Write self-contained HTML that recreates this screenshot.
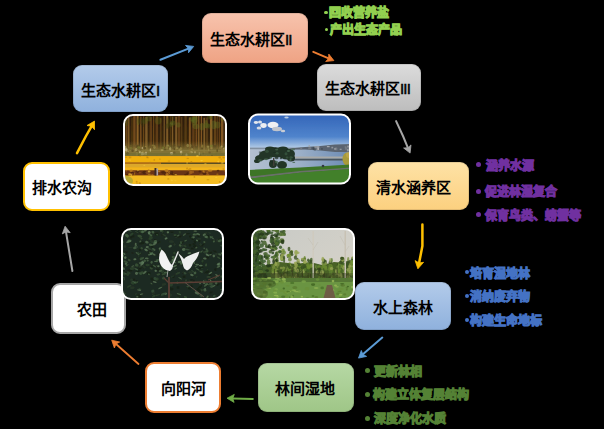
<!DOCTYPE html>
<html lang="zh-CN">
<head>
<meta charset="utf-8">
<style>
html,body{margin:0;padding:0;}
body{width:604px;height:429px;background:#000;position:relative;overflow:hidden;font-family:"Liberation Sans",sans-serif;}
.box{position:absolute;box-sizing:border-box;border-radius:9px;}
.t{position:absolute;font-size:15px;font-weight:bold;color:#000;white-space:nowrap;line-height:15px;}
.b{position:absolute;font-size:12px;font-weight:bold;white-space:nowrap;line-height:12px;-webkit-text-stroke:1.1px currentColor;}
.dot{position:absolute;border-radius:50%;}
.rn{font-weight:normal;font-size:15px;letter-spacing:-0.8px;-webkit-text-stroke:0.5px #000;}
.ph{position:absolute;box-sizing:border-box;border:2px solid #fff;border-radius:10px;overflow:hidden;}
svg{position:absolute;left:0;top:0;}
</style>
</head>
<body>
<!-- boxes -->
<div class="box" style="left:202px;top:13px;width:106px;height:50px;box-shadow:inset 0 0 0 1px rgba(0,0,0,0.1);background:linear-gradient(#f7c3ad,#efa384);"></div>
<div class="box" style="left:73px;top:65px;width:95px;height:47px;box-shadow:inset 0 0 0 1px rgba(0,0,0,0.1);background:linear-gradient(#b3cbea,#8fb1dd);"></div>
<div class="box" style="left:317px;top:64px;width:104px;height:47px;box-shadow:inset 0 0 0 1px rgba(0,0,0,0.1);background:linear-gradient(#dcdcdc,#bdbdbd);"></div>
<div class="box" style="left:368px;top:162px;width:101px;height:48px;box-shadow:inset 0 0 0 1px rgba(0,0,0,0.1);background:linear-gradient(#fee2a6,#fcd07f);"></div>
<div class="box" style="left:355px;top:282px;width:96px;height:48px;box-shadow:inset 0 0 0 1px rgba(0,0,0,0.1);background:linear-gradient(#b3cbea,#8fb1dd);"></div>
<div class="box" style="left:258px;top:363px;width:96px;height:49px;box-shadow:inset 0 0 0 1px rgba(0,0,0,0.1);background:linear-gradient(#b6d8a4,#9fc687);"></div>
<div class="box" style="left:145px;top:362px;width:76px;height:51px;background:#fff;border:2px solid #ed7d31;"></div>
<div class="box" style="left:51px;top:283px;width:75px;height:51px;background:#fff;border:2px solid #a6a6a6;"></div>
<div class="box" style="left:23px;top:162px;width:87px;height:49px;background:#fff;border:2px solid #ffc000;"></div>

<!-- box labels -->
<div class="t" style="left:210px;top:32px;">生态水耕区<span class="rn">II</span></div>
<div class="t" style="left:81px;top:83px;">生态水耕区<span class="rn">I</span></div>
<div class="t" style="left:325px;top:81px;">生态水耕区<span class="rn">III</span></div>
<div class="t" style="left:376px;top:180px;">清水涵养区</div>
<div class="t" style="left:373px;top:300px;">水上森林</div>
<div class="t" style="left:275px;top:381px;">林间湿地</div>
<div class="t" style="left:161px;top:381px;">向阳河</div>
<div class="t" style="left:77px;top:302px;">农田</div>
<div class="t" style="left:32px;top:180px;">排水农沟</div>

<!-- photos -->
<svg width="604" height="429" viewBox="0 0 604 429" style="position:absolute;left:0;top:0">
<defs>
<filter id="soft" x="-5%" y="-5%" width="110%" height="110%"><feGaussianBlur stdDeviation="0.7"/></filter>
<linearGradient id="tree1" x1="0" y1="0" x2="0" y2="1"><stop offset="0" stop-color="#2a1a08"/><stop offset="0.45" stop-color="#3a280c"/><stop offset="0.6" stop-color="#6a5a28"/></linearGradient>
<linearGradient id="sky2" x1="0" y1="0" x2="0" y2="1"><stop offset="0" stop-color="#3264b8"/><stop offset="0.32" stop-color="#5084cc"/><stop offset="0.48" stop-color="#b4cce6"/></linearGradient>
<linearGradient id="water2" x1="0" y1="0" x2="1" y2="0"><stop offset="0" stop-color="#b4c0d0"/><stop offset="0.5" stop-color="#9cb0c8"/><stop offset="1" stop-color="#6a8ab4"/></linearGradient>
<linearGradient id="sky4" x1="0" y1="0" x2="1" y2="1"><stop offset="0" stop-color="#c8cac6"/><stop offset="0.6" stop-color="#d2d0c8"/><stop offset="1" stop-color="#e0d4bc"/></linearGradient>
<linearGradient id="blend1" x1="0" y1="0" x2="0" y2="1"><stop offset="0" stop-color="#8a7a3c" stop-opacity="0"/><stop offset="1" stop-color="#8a7a3c" stop-opacity="0.85"/></linearGradient>
</defs>
<clipPath id="c1"><rect x="124" y="115" width="102" height="70" rx="9"/></clipPath><g clip-path="url(#c1)"><g filter="url(#soft)"><rect x="123" y="114" width="104" height="72" fill="url(#tree1)"/><rect x="123.0" y="114.2" width="2.0" height="33.2" fill="#b07430" opacity="0.62"/><rect x="125.6" y="116.0" width="2.0" height="30.5" fill="#8a5a22" opacity="0.62"/><rect x="128.2" y="115.0" width="1.2" height="33.3" fill="#c08838" opacity="0.62"/><rect x="131.4" y="117.8" width="1.2" height="34.5" fill="#6a4818" opacity="0.62"/><rect x="133.2" y="114.2" width="2.4" height="37.8" fill="#9a6228" opacity="0.62"/><rect x="136.6" y="114.5" width="2.0" height="31.2" fill="#c08838" opacity="0.62"/><rect x="140.0" y="116.6" width="1.6" height="34.7" fill="#9a6228" opacity="0.62"/><rect x="143.0" y="116.3" width="1.2" height="35.7" fill="#8a5a22" opacity="0.62"/><rect x="145.2" y="117.1" width="2.4" height="34.3" fill="#a87a38" opacity="0.62"/><rect x="149.6" y="117.2" width="2.4" height="32.4" fill="#7a4c1c" opacity="0.62"/><rect x="153.0" y="116.0" width="1.2" height="32.4" fill="#8a5a22" opacity="0.62"/><rect x="155.6" y="114.3" width="2.4" height="34.9" fill="#7a4c1c" opacity="0.62"/><rect x="160.0" y="117.7" width="1.6" height="32.7" fill="#6a4818" opacity="0.62"/><rect x="163.6" y="116.2" width="1.2" height="30.6" fill="#a87a38" opacity="0.62"/><rect x="166.2" y="116.0" width="2.0" height="32.8" fill="#a87a38" opacity="0.62"/><rect x="170.2" y="115.1" width="1.2" height="30.7" fill="#6a4818" opacity="0.62"/><rect x="172.0" y="116.6" width="1.2" height="35.6" fill="#a87a38" opacity="0.62"/><rect x="175.2" y="116.7" width="2.0" height="33.1" fill="#a87a38" opacity="0.62"/><rect x="177.8" y="114.5" width="2.4" height="31.3" fill="#7a4c1c" opacity="0.62"/><rect x="180.8" y="117.0" width="1.6" height="32.3" fill="#6a4818" opacity="0.62"/><rect x="184.4" y="114.7" width="2.4" height="34.0" fill="#6a4818" opacity="0.62"/><rect x="188.8" y="117.5" width="2.0" height="36.6" fill="#b07430" opacity="0.62"/><rect x="192.2" y="115.5" width="2.4" height="35.5" fill="#7a4c1c" opacity="0.62"/><rect x="195.6" y="114.9" width="1.6" height="31.4" fill="#9a6228" opacity="0.62"/><rect x="198.2" y="114.7" width="1.2" height="36.6" fill="#c08838" opacity="0.62"/><rect x="200.8" y="115.5" width="1.2" height="33.4" fill="#b07430" opacity="0.62"/><rect x="203.4" y="117.8" width="1.6" height="36.9" fill="#a87a38" opacity="0.62"/><rect x="205.6" y="117.5" width="2.4" height="36.2" fill="#6a4818" opacity="0.62"/><rect x="210.0" y="115.9" width="2.4" height="33.2" fill="#c08838" opacity="0.62"/><rect x="214.4" y="114.8" width="1.2" height="30.5" fill="#b07430" opacity="0.62"/><rect x="216.6" y="114.4" width="1.2" height="34.8" fill="#7a4c1c" opacity="0.62"/><rect x="218.8" y="114.3" width="1.2" height="34.9" fill="#7a4c1c" opacity="0.62"/><rect x="221.0" y="117.8" width="2.4" height="35.1" fill="#b07430" opacity="0.62"/><rect x="224.8" y="116.0" width="2.4" height="30.9" fill="#9a6228" opacity="0.62"/><ellipse cx="173.0" cy="118.4" rx="1.8" ry="4.2" fill="#3a3a10" opacity="0.35"/><ellipse cx="172.8" cy="123.7" rx="2.5" ry="2.6" fill="#3a3a10" opacity="0.35"/><ellipse cx="138.2" cy="121.6" rx="1.6" ry="3.6" fill="#5a6a20" opacity="0.35"/><ellipse cx="195.4" cy="117.7" rx="2.2" ry="2.5" fill="#6a7a28" opacity="0.35"/><ellipse cx="178.4" cy="124.9" rx="2.2" ry="2.7" fill="#6a7a28" opacity="0.35"/><ellipse cx="206.8" cy="125.5" rx="3.0" ry="2.7" fill="#4a5a18" opacity="0.35"/><ellipse cx="160.0" cy="114.4" rx="1.6" ry="2.8" fill="#3a3a10" opacity="0.35"/><ellipse cx="143.1" cy="122.5" rx="2.2" ry="4.4" fill="#3a3a10" opacity="0.35"/><ellipse cx="222.3" cy="119.1" rx="1.9" ry="2.7" fill="#6a7a28" opacity="0.35"/><ellipse cx="158.1" cy="120.8" rx="3.5" ry="3.8" fill="#5a6a20" opacity="0.35"/><ellipse cx="172.9" cy="123.1" rx="3.1" ry="2.3" fill="#5a6a20" opacity="0.35"/><ellipse cx="217.6" cy="125.0" rx="3.0" ry="3.4" fill="#6a7a28" opacity="0.35"/><ellipse cx="168.1" cy="122.9" rx="1.7" ry="4.8" fill="#4a5a18" opacity="0.35"/><ellipse cx="171.2" cy="124.4" rx="1.7" ry="2.5" fill="#6a7a28" opacity="0.35"/><ellipse cx="125.9" cy="122.3" rx="2.4" ry="4.0" fill="#4a5a18" opacity="0.35"/><ellipse cx="191.4" cy="118.9" rx="2.6" ry="2.4" fill="#5a6a20" opacity="0.35"/><ellipse cx="206.1" cy="124.2" rx="1.7" ry="4.2" fill="#6a7a28" opacity="0.35"/><ellipse cx="168.1" cy="126.2" rx="3.2" ry="2.6" fill="#3a3a10" opacity="0.35"/><ellipse cx="145.1" cy="121.0" rx="3.0" ry="3.0" fill="#4a5a18" opacity="0.35"/><ellipse cx="209.8" cy="114.9" rx="3.0" ry="4.7" fill="#4a5a18" opacity="0.35"/><ellipse cx="209.0" cy="126.3" rx="1.8" ry="2.5" fill="#5a6a20" opacity="0.35"/><ellipse cx="213.8" cy="124.9" rx="2.7" ry="4.3" fill="#6a7a28" opacity="0.35"/><ellipse cx="140.9" cy="120.6" rx="3.0" ry="3.7" fill="#3a3a10" opacity="0.35"/><ellipse cx="194.0" cy="121.4" rx="2.5" ry="4.3" fill="#5a6a20" opacity="0.35"/><ellipse cx="148.8" cy="117.9" rx="3.0" ry="3.5" fill="#5a6a20" opacity="0.35"/><ellipse cx="202.0" cy="126.8" rx="2.4" ry="3.8" fill="#6a7a28" opacity="0.35"/><ellipse cx="195.0" cy="120.3" rx="2.6" ry="3.4" fill="#6a7a28" opacity="0.35"/><ellipse cx="195.7" cy="126.3" rx="3.4" ry="2.8" fill="#6a7a28" opacity="0.35"/><ellipse cx="210.4" cy="115.9" rx="1.7" ry="3.3" fill="#5a6a20" opacity="0.35"/><ellipse cx="192.8" cy="120.0" rx="1.9" ry="2.9" fill="#5a6a20" opacity="0.35"/><rect x="123" y="141" width="104" height="10" fill="url(#blend1)"/><rect x="123.0" y="150.0" width="104.0" height="6.0" fill="#8a7a3c" opacity="0.85"/><ellipse cx="139.1" cy="152.9" rx="1.3" ry="0.9" fill="#7a7a30" opacity="0.75"/><ellipse cx="223.6" cy="147.4" rx="1.6" ry="1.2" fill="#6a5a28" opacity="0.75"/><ellipse cx="139.9" cy="152.3" rx="0.8" ry="1.5" fill="#d0c090" opacity="0.75"/><ellipse cx="165.0" cy="149.6" rx="1.0" ry="0.9" fill="#5a4a20" opacity="0.75"/><ellipse cx="125.0" cy="151.1" rx="1.0" ry="0.8" fill="#9a8a48" opacity="0.75"/><ellipse cx="176.8" cy="148.2" rx="1.6" ry="0.9" fill="#9a8a48" opacity="0.75"/><ellipse cx="146.8" cy="154.6" rx="0.7" ry="1.1" fill="#7a7a30" opacity="0.75"/><ellipse cx="141.9" cy="153.3" rx="1.4" ry="1.6" fill="#7a7a30" opacity="0.75"/><ellipse cx="208.2" cy="147.8" rx="0.7" ry="1.7" fill="#8a7a3a" opacity="0.75"/><ellipse cx="174.4" cy="148.6" rx="0.9" ry="1.6" fill="#5a4a20" opacity="0.75"/><ellipse cx="167.2" cy="145.8" rx="1.5" ry="1.4" fill="#6a5a28" opacity="0.75"/><ellipse cx="150.1" cy="151.7" rx="0.8" ry="1.1" fill="#7a7a30" opacity="0.75"/><ellipse cx="170.2" cy="148.7" rx="1.2" ry="1.7" fill="#b0a060" opacity="0.75"/><ellipse cx="187.7" cy="145.5" rx="1.3" ry="1.7" fill="#9a8a48" opacity="0.75"/><ellipse cx="150.2" cy="147.0" rx="1.5" ry="1.4" fill="#6a5a28" opacity="0.75"/><ellipse cx="202.0" cy="148.2" rx="1.1" ry="1.0" fill="#5a4a20" opacity="0.75"/><ellipse cx="206.6" cy="155.9" rx="0.6" ry="0.8" fill="#9a8a48" opacity="0.75"/><ellipse cx="180.3" cy="147.1" rx="1.1" ry="1.7" fill="#5a4a20" opacity="0.75"/><ellipse cx="191.5" cy="152.2" rx="1.3" ry="1.3" fill="#b0a060" opacity="0.75"/><ellipse cx="223.9" cy="148.4" rx="0.8" ry="1.0" fill="#d0c090" opacity="0.75"/><ellipse cx="209.6" cy="152.8" rx="1.2" ry="1.2" fill="#6a5a28" opacity="0.75"/><ellipse cx="225.1" cy="154.2" rx="0.6" ry="1.4" fill="#9a8a48" opacity="0.75"/><ellipse cx="167.8" cy="145.6" rx="1.3" ry="1.2" fill="#9a8a48" opacity="0.75"/><ellipse cx="192.7" cy="148.1" rx="0.8" ry="1.1" fill="#5a4a20" opacity="0.75"/><ellipse cx="142.3" cy="148.0" rx="0.6" ry="1.2" fill="#d0c090" opacity="0.75"/><ellipse cx="224.2" cy="151.0" rx="0.8" ry="1.8" fill="#9a8a48" opacity="0.75"/><ellipse cx="145.7" cy="147.0" rx="0.9" ry="0.9" fill="#9a8a48" opacity="0.75"/><ellipse cx="175.3" cy="147.2" rx="1.1" ry="0.8" fill="#9a8a48" opacity="0.75"/><ellipse cx="208.0" cy="146.6" rx="1.2" ry="1.2" fill="#9a8a48" opacity="0.75"/><ellipse cx="154.6" cy="147.6" rx="1.2" ry="1.3" fill="#9a8a48" opacity="0.75"/><ellipse cx="139.1" cy="154.8" rx="1.4" ry="1.4" fill="#7a7a30" opacity="0.75"/><ellipse cx="156.9" cy="155.8" rx="0.7" ry="1.5" fill="#7a7a30" opacity="0.75"/><ellipse cx="138.1" cy="154.1" rx="1.3" ry="1.3" fill="#8a7a3a" opacity="0.75"/><ellipse cx="199.3" cy="153.9" rx="0.7" ry="1.3" fill="#d0c090" opacity="0.75"/><ellipse cx="182.1" cy="153.9" rx="0.6" ry="1.5" fill="#5a4a20" opacity="0.75"/><ellipse cx="215.9" cy="152.5" rx="1.3" ry="1.0" fill="#7a7a30" opacity="0.75"/><ellipse cx="127.4" cy="152.0" rx="1.6" ry="1.2" fill="#b0a060" opacity="0.75"/><ellipse cx="181.1" cy="151.9" rx="1.2" ry="1.5" fill="#d0c090" opacity="0.75"/><ellipse cx="150.4" cy="150.0" rx="0.7" ry="1.7" fill="#d0c090" opacity="0.75"/><ellipse cx="132.6" cy="150.8" rx="1.3" ry="1.3" fill="#5a4a20" opacity="0.75"/><ellipse cx="130.7" cy="147.9" rx="1.3" ry="1.0" fill="#7a7a30" opacity="0.75"/><ellipse cx="190.6" cy="150.1" rx="1.4" ry="0.9" fill="#8a7a3a" opacity="0.75"/><ellipse cx="152.9" cy="145.5" rx="1.2" ry="1.0" fill="#8a7a3a" opacity="0.75"/><ellipse cx="138.3" cy="147.8" rx="1.3" ry="1.1" fill="#5a4a20" opacity="0.75"/><ellipse cx="136.9" cy="150.3" rx="1.1" ry="1.8" fill="#5a4a20" opacity="0.75"/><ellipse cx="195.0" cy="152.4" rx="0.9" ry="1.3" fill="#b0a060" opacity="0.75"/><ellipse cx="171.5" cy="153.4" rx="1.6" ry="1.3" fill="#d0c090" opacity="0.75"/><ellipse cx="224.7" cy="155.3" rx="0.6" ry="1.3" fill="#9a8a48" opacity="0.75"/><ellipse cx="175.7" cy="155.9" rx="1.6" ry="1.2" fill="#7a7a30" opacity="0.75"/><ellipse cx="130.8" cy="146.0" rx="1.3" ry="1.1" fill="#6a5a28" opacity="0.75"/><ellipse cx="136.8" cy="154.0" rx="1.1" ry="1.7" fill="#9a8a48" opacity="0.75"/><ellipse cx="161.0" cy="150.5" rx="1.5" ry="1.2" fill="#8a7a3a" opacity="0.75"/><ellipse cx="123.4" cy="150.4" rx="1.1" ry="1.1" fill="#6a5a28" opacity="0.75"/><ellipse cx="166.3" cy="149.1" rx="0.7" ry="1.1" fill="#6a5a28" opacity="0.75"/><ellipse cx="201.1" cy="154.2" rx="0.7" ry="1.7" fill="#9a8a48" opacity="0.75"/><ellipse cx="124.2" cy="153.1" rx="0.9" ry="0.9" fill="#8a7a3a" opacity="0.75"/><ellipse cx="226.9" cy="151.5" rx="1.0" ry="1.2" fill="#d0c090" opacity="0.75"/><ellipse cx="211.8" cy="148.1" rx="0.7" ry="1.5" fill="#9a8a48" opacity="0.75"/><ellipse cx="220.3" cy="147.7" rx="0.9" ry="1.3" fill="#8a7a3a" opacity="0.75"/><ellipse cx="203.4" cy="153.6" rx="1.0" ry="0.8" fill="#6a5a28" opacity="0.75"/><ellipse cx="188.6" cy="155.0" rx="1.5" ry="1.3" fill="#7a7a30" opacity="0.75"/><ellipse cx="131.4" cy="155.3" rx="1.0" ry="1.4" fill="#8a7a3a" opacity="0.75"/><ellipse cx="190.0" cy="148.1" rx="0.6" ry="1.7" fill="#6a5a28" opacity="0.75"/><ellipse cx="140.8" cy="149.6" rx="0.9" ry="1.1" fill="#6a5a28" opacity="0.75"/><ellipse cx="224.5" cy="147.9" rx="1.3" ry="1.1" fill="#8a7a3a" opacity="0.75"/><ellipse cx="192.6" cy="146.3" rx="1.2" ry="0.9" fill="#5a4a20" opacity="0.75"/><ellipse cx="217.2" cy="150.5" rx="0.8" ry="1.7" fill="#5a4a20" opacity="0.75"/><ellipse cx="169.8" cy="146.5" rx="0.8" ry="0.9" fill="#7a7a30" opacity="0.75"/><ellipse cx="180.8" cy="148.5" rx="1.0" ry="1.6" fill="#9a8a48" opacity="0.75"/><ellipse cx="215.3" cy="153.2" rx="1.0" ry="1.2" fill="#6a5a28" opacity="0.75"/><ellipse cx="144.8" cy="148.0" rx="1.4" ry="1.3" fill="#5a4a20" opacity="0.75"/><ellipse cx="223.6" cy="146.4" rx="1.1" ry="1.4" fill="#5a4a20" opacity="0.75"/><ellipse cx="211.3" cy="146.0" rx="1.5" ry="1.2" fill="#7a7a30" opacity="0.75"/><ellipse cx="169.4" cy="155.5" rx="1.4" ry="1.7" fill="#8a7a3a" opacity="0.75"/><ellipse cx="136.2" cy="149.7" rx="1.4" ry="1.6" fill="#b0a060" opacity="0.75"/><ellipse cx="173.9" cy="145.8" rx="1.5" ry="1.7" fill="#5a4a20" opacity="0.75"/><ellipse cx="212.0" cy="155.7" rx="0.8" ry="0.9" fill="#5a4a20" opacity="0.75"/><ellipse cx="138.8" cy="155.7" rx="0.7" ry="1.6" fill="#6a5a28" opacity="0.75"/><ellipse cx="190.3" cy="153.4" rx="1.1" ry="1.4" fill="#8a7a3a" opacity="0.75"/><ellipse cx="123.1" cy="146.4" rx="1.2" ry="0.8" fill="#b0a060" opacity="0.75"/><ellipse cx="154.6" cy="146.4" rx="0.9" ry="1.4" fill="#8a7a3a" opacity="0.75"/><ellipse cx="202.4" cy="146.1" rx="0.9" ry="1.7" fill="#8a7a3a" opacity="0.75"/><ellipse cx="163.4" cy="147.5" rx="1.2" ry="0.8" fill="#6a5a28" opacity="0.75"/><ellipse cx="226.6" cy="148.1" rx="0.9" ry="1.6" fill="#9a8a48" opacity="0.75"/><ellipse cx="172.4" cy="147.6" rx="0.8" ry="1.8" fill="#6a5a28" opacity="0.75"/><ellipse cx="190.6" cy="145.6" rx="0.8" ry="1.7" fill="#8a7a3a" opacity="0.75"/><ellipse cx="166.7" cy="147.8" rx="1.3" ry="1.7" fill="#8a7a3a" opacity="0.75"/><ellipse cx="174.3" cy="152.7" rx="1.3" ry="1.2" fill="#6a5a28" opacity="0.75"/><ellipse cx="143.6" cy="153.8" rx="1.3" ry="1.3" fill="#d0c090" opacity="0.75"/><ellipse cx="174.6" cy="147.2" rx="1.4" ry="1.0" fill="#6a5a28" opacity="0.75"/><ellipse cx="146.0" cy="153.4" rx="0.9" ry="1.8" fill="#d0c090" opacity="0.75"/><ellipse cx="186.5" cy="154.9" rx="1.1" ry="1.7" fill="#d0c090" opacity="0.75"/><ellipse cx="221.7" cy="146.6" rx="1.0" ry="1.0" fill="#b0a060" opacity="0.75"/><ellipse cx="137.8" cy="145.6" rx="0.7" ry="1.2" fill="#5a4a20" opacity="0.75"/><ellipse cx="214.9" cy="153.1" rx="1.6" ry="1.7" fill="#8a7a3a" opacity="0.75"/><ellipse cx="142.8" cy="152.2" rx="1.1" ry="1.3" fill="#9a8a48" opacity="0.75"/><ellipse cx="192.1" cy="149.2" rx="1.0" ry="1.1" fill="#9a8a48" opacity="0.75"/><ellipse cx="134.3" cy="145.9" rx="0.7" ry="1.2" fill="#6a5a28" opacity="0.75"/><ellipse cx="181.4" cy="153.3" rx="1.0" ry="1.6" fill="#b0a060" opacity="0.75"/><ellipse cx="208.5" cy="149.8" rx="0.6" ry="1.3" fill="#9a8a48" opacity="0.75"/><ellipse cx="179.3" cy="149.9" rx="0.9" ry="1.5" fill="#9a8a48" opacity="0.75"/><ellipse cx="126.1" cy="149.5" rx="1.4" ry="1.6" fill="#d0c090" opacity="0.75"/><ellipse cx="162.1" cy="150.1" rx="1.4" ry="0.9" fill="#b0a060" opacity="0.75"/><ellipse cx="200.7" cy="154.9" rx="0.9" ry="1.1" fill="#6a5a28" opacity="0.75"/><ellipse cx="127.5" cy="153.2" rx="1.3" ry="1.7" fill="#5a4a20" opacity="0.75"/><ellipse cx="123.4" cy="153.3" rx="1.5" ry="1.4" fill="#9a8a48" opacity="0.75"/><ellipse cx="125.5" cy="147.6" rx="1.1" ry="1.8" fill="#b0a060" opacity="0.75"/><ellipse cx="163.2" cy="147.8" rx="1.0" ry="1.3" fill="#7a7a30" opacity="0.75"/><ellipse cx="142.0" cy="153.8" rx="1.3" ry="1.6" fill="#d0c090" opacity="0.75"/><ellipse cx="138.7" cy="147.6" rx="1.5" ry="1.3" fill="#7a7a30" opacity="0.75"/><rect x="123.0" y="153.0" width="104.0" height="3.0" fill="#6a6a30" opacity="0.5"/><rect x="123.0" y="156.0" width="104.0" height="29.0" fill="#eaa812"/><rect x="123.0" y="157.0" width="104.0" height="5.2" fill="#f0b010"/><rect x="123.0" y="162.2" width="104.0" height="1.8" fill="#b07018"/><rect x="161.0" y="162.8" width="66.0" height="1.4" fill="#5a5020"/><rect x="123.0" y="164.0" width="104.0" height="3.5" fill="#dca82a"/><rect x="123.0" y="167.5" width="104.0" height="2.8" fill="#f2b41c"/><rect x="123.0" y="170.3" width="104.0" height="5.3" fill="#6a3414"/><ellipse cx="204.5" cy="173.5" rx="1.8" ry="1.2" fill="#4a2410" opacity="0.8"/><ellipse cx="148.7" cy="170.8" rx="1.1" ry="1.4" fill="#a06020" opacity="0.8"/><ellipse cx="139.7" cy="172.6" rx="1.2" ry="0.9" fill="#8a5020" opacity="0.8"/><ellipse cx="144.7" cy="172.6" rx="2.5" ry="1.8" fill="#4a2410" opacity="0.8"/><ellipse cx="147.4" cy="172.6" rx="1.9" ry="1.5" fill="#8a5020" opacity="0.8"/><ellipse cx="204.1" cy="172.0" rx="1.4" ry="1.1" fill="#a06020" opacity="0.8"/><ellipse cx="199.8" cy="171.5" rx="1.4" ry="1.0" fill="#4a2410" opacity="0.8"/><ellipse cx="152.3" cy="175.0" rx="1.3" ry="0.9" fill="#a06020" opacity="0.8"/><ellipse cx="226.2" cy="173.0" rx="1.3" ry="1.6" fill="#c08020" opacity="0.8"/><ellipse cx="226.1" cy="171.0" rx="1.7" ry="1.6" fill="#c08020" opacity="0.8"/><ellipse cx="218.1" cy="170.7" rx="1.4" ry="0.9" fill="#4a2410" opacity="0.8"/><ellipse cx="185.5" cy="174.6" rx="1.3" ry="0.9" fill="#4a2410" opacity="0.8"/><ellipse cx="169.7" cy="171.8" rx="2.2" ry="1.7" fill="#8a5020" opacity="0.8"/><ellipse cx="189.3" cy="174.0" rx="1.5" ry="0.8" fill="#a06020" opacity="0.8"/><ellipse cx="137.7" cy="171.5" rx="1.4" ry="1.4" fill="#4a2410" opacity="0.8"/><ellipse cx="207.7" cy="174.6" rx="1.6" ry="1.2" fill="#a06020" opacity="0.8"/><ellipse cx="131.1" cy="170.7" rx="1.7" ry="1.3" fill="#c08020" opacity="0.8"/><ellipse cx="133.5" cy="172.5" rx="1.8" ry="1.4" fill="#8a5020" opacity="0.8"/><ellipse cx="190.9" cy="172.5" rx="1.4" ry="1.8" fill="#a06020" opacity="0.8"/><ellipse cx="166.5" cy="170.8" rx="2.1" ry="1.7" fill="#c08020" opacity="0.8"/><ellipse cx="166.3" cy="174.8" rx="2.5" ry="1.2" fill="#4a2410" opacity="0.8"/><ellipse cx="163.6" cy="172.5" rx="2.4" ry="1.2" fill="#4a2410" opacity="0.8"/><ellipse cx="167.1" cy="174.6" rx="1.6" ry="1.7" fill="#c08020" opacity="0.8"/><ellipse cx="203.4" cy="171.1" rx="1.1" ry="0.9" fill="#c08020" opacity="0.8"/><ellipse cx="132.3" cy="173.6" rx="1.6" ry="1.3" fill="#4a2410" opacity="0.8"/><ellipse cx="159.2" cy="171.3" rx="1.3" ry="0.9" fill="#c08020" opacity="0.8"/><ellipse cx="174.0" cy="174.5" rx="2.5" ry="1.0" fill="#4a2410" opacity="0.8"/><ellipse cx="210.1" cy="170.7" rx="2.4" ry="1.1" fill="#c08020" opacity="0.8"/><ellipse cx="132.0" cy="174.1" rx="2.0" ry="1.7" fill="#4a2410" opacity="0.8"/><ellipse cx="187.6" cy="173.6" rx="1.3" ry="1.3" fill="#4a2410" opacity="0.8"/><ellipse cx="127.3" cy="175.2" rx="1.2" ry="1.2" fill="#4a2410" opacity="0.8"/><ellipse cx="148.7" cy="174.1" rx="2.3" ry="0.8" fill="#8a5020" opacity="0.8"/><ellipse cx="192.5" cy="172.1" rx="1.6" ry="1.3" fill="#a06020" opacity="0.8"/><ellipse cx="190.5" cy="172.0" rx="1.4" ry="1.2" fill="#a06020" opacity="0.8"/><ellipse cx="169.5" cy="172.7" rx="1.0" ry="1.4" fill="#c08020" opacity="0.8"/><ellipse cx="171.4" cy="172.7" rx="1.9" ry="1.6" fill="#4a2410" opacity="0.8"/><ellipse cx="207.3" cy="172.5" rx="1.1" ry="1.2" fill="#a06020" opacity="0.8"/><ellipse cx="132.5" cy="172.7" rx="1.8" ry="0.8" fill="#4a2410" opacity="0.8"/><ellipse cx="131.6" cy="174.2" rx="2.2" ry="1.3" fill="#8a5020" opacity="0.8"/><ellipse cx="201.2" cy="175.0" rx="2.0" ry="1.6" fill="#8a5020" opacity="0.8"/><rect x="123.0" y="175.6" width="104.0" height="9.4" fill="#f4bc20"/><ellipse cx="212.1" cy="184.9" rx="1.3" ry="0.9" fill="#c08010" opacity="0.6"/><ellipse cx="136.7" cy="181.7" rx="0.9" ry="0.9" fill="#c08010" opacity="0.6"/><ellipse cx="194.4" cy="176.9" rx="0.8" ry="0.9" fill="#b88010" opacity="0.6"/><ellipse cx="201.6" cy="160.6" rx="1.4" ry="0.6" fill="#fcd040" opacity="0.6"/><ellipse cx="137.9" cy="170.6" rx="1.4" ry="0.6" fill="#fcd040" opacity="0.6"/><ellipse cx="187.1" cy="162.9" rx="0.9" ry="0.6" fill="#fcd040" opacity="0.6"/><ellipse cx="139.8" cy="183.2" rx="1.2" ry="0.9" fill="#c08010" opacity="0.6"/><ellipse cx="205.4" cy="163.7" rx="1.3" ry="0.5" fill="#fcd040" opacity="0.6"/><ellipse cx="223.5" cy="169.1" rx="1.1" ry="0.8" fill="#c08010" opacity="0.6"/><ellipse cx="149.2" cy="171.5" rx="1.4" ry="0.9" fill="#fcd040" opacity="0.6"/><ellipse cx="150.5" cy="184.7" rx="1.1" ry="0.7" fill="#c08010" opacity="0.6"/><ellipse cx="169.0" cy="161.1" rx="1.3" ry="0.5" fill="#b88010" opacity="0.6"/><ellipse cx="149.4" cy="174.5" rx="1.5" ry="0.8" fill="#b88010" opacity="0.6"/><ellipse cx="216.2" cy="177.3" rx="1.3" ry="0.6" fill="#fcd040" opacity="0.6"/><ellipse cx="187.1" cy="168.5" rx="1.1" ry="0.9" fill="#c08010" opacity="0.6"/><ellipse cx="173.8" cy="173.8" rx="0.6" ry="0.5" fill="#b88010" opacity="0.6"/><ellipse cx="159.9" cy="159.1" rx="0.9" ry="0.6" fill="#b88010" opacity="0.6"/><ellipse cx="154.3" cy="159.9" rx="0.9" ry="0.9" fill="#c08010" opacity="0.6"/><ellipse cx="137.0" cy="183.2" rx="0.8" ry="0.6" fill="#c08010" opacity="0.6"/><ellipse cx="129.6" cy="160.2" rx="1.2" ry="0.6" fill="#fcd040" opacity="0.6"/><ellipse cx="223.6" cy="157.6" rx="1.3" ry="0.9" fill="#b88010" opacity="0.6"/><ellipse cx="190.1" cy="168.9" rx="1.4" ry="0.9" fill="#c08010" opacity="0.6"/><ellipse cx="140.2" cy="156.0" rx="0.7" ry="0.5" fill="#c08010" opacity="0.6"/><ellipse cx="147.7" cy="157.7" rx="1.3" ry="0.5" fill="#b88010" opacity="0.6"/><ellipse cx="191.3" cy="161.7" rx="1.0" ry="0.8" fill="#b88010" opacity="0.6"/><ellipse cx="175.7" cy="174.6" rx="1.3" ry="0.6" fill="#fcd040" opacity="0.6"/><ellipse cx="129.6" cy="174.2" rx="1.5" ry="0.9" fill="#fcd040" opacity="0.6"/><ellipse cx="197.4" cy="156.2" rx="1.4" ry="0.9" fill="#fcd040" opacity="0.6"/><ellipse cx="131.4" cy="175.0" rx="0.8" ry="1.0" fill="#fcd040" opacity="0.6"/><ellipse cx="147.2" cy="157.1" rx="0.9" ry="0.9" fill="#b88010" opacity="0.6"/><ellipse cx="221.1" cy="163.6" rx="0.6" ry="0.8" fill="#b88010" opacity="0.6"/><ellipse cx="168.3" cy="178.9" rx="1.1" ry="0.6" fill="#b88010" opacity="0.6"/><ellipse cx="219.6" cy="181.9" rx="0.7" ry="0.8" fill="#c08010" opacity="0.6"/><ellipse cx="150.1" cy="162.8" rx="1.3" ry="1.0" fill="#b88010" opacity="0.6"/><ellipse cx="218.2" cy="161.6" rx="0.9" ry="0.8" fill="#fcd040" opacity="0.6"/><ellipse cx="217.4" cy="174.3" rx="1.2" ry="0.8" fill="#b88010" opacity="0.6"/><ellipse cx="171.8" cy="180.4" rx="1.2" ry="0.9" fill="#fcd040" opacity="0.6"/><ellipse cx="222.4" cy="162.8" rx="1.4" ry="0.9" fill="#fcd040" opacity="0.6"/><ellipse cx="187.8" cy="158.3" rx="1.4" ry="0.6" fill="#c08010" opacity="0.6"/><ellipse cx="134.6" cy="174.0" rx="0.7" ry="1.0" fill="#b88010" opacity="0.6"/><ellipse cx="126.0" cy="157.2" rx="1.2" ry="0.8" fill="#b88010" opacity="0.6"/><ellipse cx="130.1" cy="157.4" rx="1.4" ry="0.9" fill="#c08010" opacity="0.6"/><ellipse cx="208.0" cy="179.8" rx="1.4" ry="0.5" fill="#b88010" opacity="0.6"/><ellipse cx="221.2" cy="159.1" rx="0.8" ry="0.6" fill="#c08010" opacity="0.6"/><ellipse cx="221.7" cy="182.4" rx="1.3" ry="0.5" fill="#b88010" opacity="0.6"/><ellipse cx="188.8" cy="169.8" rx="0.7" ry="0.9" fill="#b88010" opacity="0.6"/><ellipse cx="144.3" cy="165.3" rx="1.0" ry="0.5" fill="#fcd040" opacity="0.6"/><ellipse cx="219.7" cy="157.4" rx="1.3" ry="1.0" fill="#b88010" opacity="0.6"/><ellipse cx="175.4" cy="180.7" rx="1.2" ry="0.5" fill="#fcd040" opacity="0.6"/><ellipse cx="126.2" cy="171.0" rx="0.7" ry="0.7" fill="#c08010" opacity="0.6"/><ellipse cx="126.0" cy="181.0" rx="7.0" ry="5.0" fill="#8a9a40" opacity="0.55"/><rect x="154.5" y="168.0" width="2.0" height="7.5" fill="#3a2a28"/><rect x="156.5" y="168.5" width="1.6" height="7.0" fill="#a8a0a8"/></g></g><rect x="124" y="115" width="102" height="70" rx="9" fill="none" stroke="#fff" stroke-width="2"/>
<clipPath id="c2"><rect x="249" y="114.5" width="101" height="69" rx="9"/></clipPath><g clip-path="url(#c2)"><g filter="url(#soft)"><rect x="248" y="114" width="103" height="71" fill="url(#sky2)"/><ellipse cx="256.0" cy="122.5" rx="2.2" ry="1.4" fill="#e4e8ee"/><ellipse cx="260.0" cy="122.0" rx="2.0" ry="1.6" fill="#dce2ea"/><ellipse cx="263.5" cy="125.5" rx="3.2" ry="2.4" fill="#eceef2"/><ellipse cx="259.0" cy="128.0" rx="2.4" ry="1.6" fill="#d4dae4"/><ellipse cx="273.0" cy="125.0" rx="5.5" ry="3.2" fill="#f0f0f2"/><ellipse cx="277.0" cy="129.0" rx="5.0" ry="2.2" fill="#c0c4cc"/><ellipse cx="283.0" cy="131.0" rx="2.2" ry="1.2" fill="#c8ccd4"/><ellipse cx="286.5" cy="117.5" rx="2.2" ry="0.9" fill="#b8cce4"/><rect x="248.0" y="148.0" width="103.0" height="22.0" fill="url(#water2)"/><rect x="248.0" y="147.6" width="103.0" height="1.6" fill="#8290a0"/><path d="M290 148.5 L305 147 L320 146 L335 144.5 L351 144 L351 152 L335 152 L320 150.5 L305 149.5 L290 149.5 Z" fill="#5a6470"/><rect x="326.9" y="146.1" width="2.7" height="1.1" fill="#c0c0c4" opacity="0.8"/><rect x="308.5" y="145.0" width="1.4" height="2.1" fill="#a0a4aa" opacity="0.8"/><rect x="300.2" y="147.5" width="2.0" height="2.2" fill="#7a8088" opacity="0.8"/><rect x="348.4" y="148.0" width="2.9" height="1.8" fill="#7a8088" opacity="0.8"/><rect x="314.2" y="146.1" width="2.4" height="1.7" fill="#a0a4aa" opacity="0.8"/><rect x="346.9" y="148.8" width="2.0" height="2.5" fill="#a0a4aa" opacity="0.8"/><rect x="331.4" y="146.8" width="1.8" height="1.6" fill="#a0a4aa" opacity="0.8"/><rect x="321.1" y="148.2" width="1.7" height="1.5" fill="#404850" opacity="0.8"/><rect x="345.1" y="147.5" width="1.8" height="2.3" fill="#7a8088" opacity="0.8"/><rect x="347.2" y="145.6" width="2.2" height="2.0" fill="#a0a4aa" opacity="0.8"/><rect x="317.4" y="146.6" width="1.3" height="2.3" fill="#c0c0c4" opacity="0.8"/><rect x="308.5" y="147.2" width="2.5" height="1.9" fill="#7a8088" opacity="0.8"/><rect x="316.7" y="148.2" width="2.4" height="1.8" fill="#c0c0c4" opacity="0.8"/><rect x="315.1" y="148.5" width="2.7" height="1.2" fill="#7a8088" opacity="0.8"/><rect x="348.7" y="148.6" width="2.2" height="1.5" fill="#7a8088" opacity="0.8"/><rect x="316.4" y="145.9" width="3.0" height="2.1" fill="#a0a4aa" opacity="0.8"/><rect x="308.2" y="148.3" width="1.4" height="1.2" fill="#7a8088" opacity="0.8"/><rect x="339.7" y="148.7" width="1.9" height="1.3" fill="#a0a4aa" opacity="0.8"/><rect x="314.0" y="149.4" width="1.9" height="1.0" fill="#404850" opacity="0.8"/><rect x="334.7" y="147.5" width="2.3" height="1.7" fill="#7a8088" opacity="0.8"/><rect x="312.9" y="148.7" width="1.0" height="1.4" fill="#404850" opacity="0.8"/><rect x="335.1" y="147.9" width="2.3" height="2.3" fill="#7a8088" opacity="0.8"/><rect x="334.0" y="148.2" width="1.9" height="1.5" fill="#a0a4aa" opacity="0.8"/><rect x="344.7" y="146.2" width="1.8" height="2.1" fill="#7a8088" opacity="0.8"/><rect x="312.5" y="147.1" width="1.9" height="1.9" fill="#404850" opacity="0.8"/><rect x="293.0" y="156.5" width="50.0" height="2.2" fill="#a8aaa8"/><rect x="293.0" y="158.7" width="50.0" height="1.8" fill="#4a5660"/><ellipse cx="276.0" cy="152.5" rx="12.0" ry="5.0" fill="#243628"/><ellipse cx="266.0" cy="155.0" rx="7.0" ry="4.5" fill="#243628"/><ellipse cx="287.0" cy="154.0" rx="8.0" ry="5.5" fill="#243628"/><ellipse cx="260.0" cy="158.0" rx="5.0" ry="3.0" fill="#243628"/><ellipse cx="282.0" cy="165.0" rx="5.0" ry="4.0" fill="#243628"/><ellipse cx="273.0" cy="164.0" rx="4.0" ry="4.0" fill="#243628"/><ellipse cx="291.0" cy="158.0" rx="4.0" ry="3.5" fill="#243628"/><ellipse cx="257.0" cy="161.0" rx="3.0" ry="2.0" fill="#243628"/><ellipse cx="270.0" cy="149.0" rx="5.0" ry="2.5" fill="#243628"/><ellipse cx="283.0" cy="149.0" rx="5.0" ry="2.5" fill="#243628"/><ellipse cx="276.7" cy="157.9" rx="1.8" ry="1.4" fill="#1a2a20" opacity="0.7"/><ellipse cx="286.0" cy="153.8" rx="1.4" ry="1.5" fill="#3a5a40" opacity="0.7"/><ellipse cx="267.0" cy="151.3" rx="1.7" ry="1.5" fill="#3a5a40" opacity="0.7"/><ellipse cx="276.7" cy="149.5" rx="1.5" ry="1.1" fill="#4a6a50" opacity="0.7"/><ellipse cx="275.1" cy="148.2" rx="1.8" ry="0.9" fill="#1a2a20" opacity="0.7"/><ellipse cx="272.8" cy="162.2" rx="1.1" ry="1.2" fill="#1a2a20" opacity="0.7"/><ellipse cx="276.5" cy="162.0" rx="1.7" ry="1.2" fill="#4a6a50" opacity="0.7"/><ellipse cx="260.0" cy="152.1" rx="1.3" ry="0.6" fill="#1a2a20" opacity="0.7"/><ellipse cx="291.0" cy="157.4" rx="1.6" ry="1.1" fill="#3a5a40" opacity="0.7"/><ellipse cx="266.1" cy="159.1" rx="1.9" ry="1.1" fill="#3a5a40" opacity="0.7"/><ellipse cx="293.8" cy="162.4" rx="1.4" ry="0.7" fill="#3a5a40" opacity="0.7"/><ellipse cx="287.1" cy="157.5" rx="1.4" ry="1.1" fill="#3a5a40" opacity="0.7"/><ellipse cx="287.3" cy="150.2" rx="1.6" ry="1.3" fill="#1a2a20" opacity="0.7"/><ellipse cx="274.9" cy="152.4" rx="1.5" ry="0.7" fill="#1a2a20" opacity="0.7"/><ellipse cx="270.8" cy="160.8" rx="1.1" ry="0.9" fill="#1a2a20" opacity="0.7"/><ellipse cx="293.4" cy="158.2" rx="1.4" ry="1.3" fill="#1a2a20" opacity="0.7"/><ellipse cx="270.9" cy="157.8" rx="1.2" ry="1.0" fill="#4a6a50" opacity="0.7"/><ellipse cx="280.9" cy="157.9" rx="1.2" ry="1.4" fill="#1a2a20" opacity="0.7"/><ellipse cx="260.1" cy="160.4" rx="1.9" ry="1.3" fill="#3a5a40" opacity="0.7"/><ellipse cx="277.1" cy="153.2" rx="1.5" ry="1.2" fill="#3a5a40" opacity="0.7"/><ellipse cx="292.3" cy="157.8" rx="1.1" ry="0.7" fill="#3a5a40" opacity="0.7"/><ellipse cx="288.8" cy="150.8" rx="1.3" ry="1.3" fill="#3a5a40" opacity="0.7"/><ellipse cx="290.5" cy="159.9" rx="1.0" ry="1.4" fill="#4a6a50" opacity="0.7"/><ellipse cx="293.2" cy="149.4" rx="1.9" ry="1.1" fill="#4a6a50" opacity="0.7"/><ellipse cx="288.2" cy="151.0" rx="1.6" ry="1.1" fill="#4a6a50" opacity="0.7"/><rect x="273.0" y="158.0" width="1.4" height="8.0" fill="#404038"/><ellipse cx="347.0" cy="159.0" rx="4.5" ry="6.5" fill="#a89a3a"/><ellipse cx="349.0" cy="155.0" rx="3.0" ry="3.0" fill="#c0a848" opacity="0.8"/><path d="M248 170 L300 167.5 L351 164.5 L351 185 L248 185 Z" fill="#3c7426"/><path d="M248 176.8 L300 171 L351 167.5 L351 169 L300 172.8 L248 178.8 Z" fill="#6a706a"/><path d="M248 178.8 L300 172.8 L351 169 L351 185 L248 185 Z" fill="#42802a"/><ellipse cx="323.0" cy="166.0" rx="1.3" ry="1.3" fill="#303840"/></g></g><rect x="249" y="114.5" width="101" height="69" rx="9" fill="none" stroke="#fff" stroke-width="2"/>
<clipPath id="c3"><rect x="122" y="229" width="101" height="70" rx="9"/></clipPath><g clip-path="url(#c3)"><g filter="url(#soft)"><rect x="121" y="228" width="103" height="72" fill="#1e2a20"/><ellipse cx="190.1" cy="236.4" rx="1.0" ry="1.0" fill="#142014" opacity="0.8" transform="rotate(26 190.1 236.4)"/><ellipse cx="171.8" cy="232.2" rx="1.6" ry="0.7" fill="#142014" opacity="0.8" transform="rotate(-1 171.8 232.2)"/><ellipse cx="138.0" cy="271.2" rx="2.1" ry="0.7" fill="#142014" opacity="0.8" transform="rotate(-14 138.0 271.2)"/><ellipse cx="189.5" cy="288.5" rx="1.5" ry="1.0" fill="#142014" opacity="0.8" transform="rotate(37 189.5 288.5)"/><ellipse cx="139.6" cy="253.9" rx="2.0" ry="0.5" fill="#3a5538" opacity="0.8" transform="rotate(-36 139.6 253.9)"/><ellipse cx="204.3" cy="234.8" rx="1.7" ry="1.3" fill="#5a7656" opacity="0.8" transform="rotate(-28 204.3 234.8)"/><ellipse cx="195.0" cy="273.0" rx="1.4" ry="1.4" fill="#4a6648" opacity="0.8" transform="rotate(-11 195.0 273.0)"/><ellipse cx="201.2" cy="267.9" rx="2.4" ry="0.8" fill="#142014" opacity="0.8" transform="rotate(-13 201.2 267.9)"/><ellipse cx="178.1" cy="287.5" rx="1.3" ry="1.4" fill="#182018" opacity="0.8" transform="rotate(-8 178.1 287.5)"/><ellipse cx="210.9" cy="252.8" rx="1.2" ry="1.0" fill="#182018" opacity="0.8" transform="rotate(-31 210.9 252.8)"/><ellipse cx="153.7" cy="249.5" rx="1.9" ry="1.2" fill="#4a6648" opacity="0.8" transform="rotate(23 153.7 249.5)"/><ellipse cx="162.1" cy="267.9" rx="1.5" ry="1.1" fill="#2e452e" opacity="0.8" transform="rotate(-8 162.1 267.9)"/><ellipse cx="121.6" cy="241.7" rx="2.5" ry="1.2" fill="#3a5538" opacity="0.8" transform="rotate(13 121.6 241.7)"/><ellipse cx="184.5" cy="273.1" rx="2.1" ry="1.2" fill="#36503a" opacity="0.8" transform="rotate(14 184.5 273.1)"/><ellipse cx="125.1" cy="273.6" rx="1.9" ry="0.7" fill="#4a6648" opacity="0.8" transform="rotate(13 125.1 273.6)"/><ellipse cx="164.4" cy="235.2" rx="2.5" ry="0.5" fill="#2e452e" opacity="0.8" transform="rotate(30 164.4 235.2)"/><ellipse cx="202.0" cy="268.5" rx="1.3" ry="0.8" fill="#27382a" opacity="0.8" transform="rotate(-6 202.0 268.5)"/><ellipse cx="123.1" cy="268.8" rx="1.8" ry="1.5" fill="#5a7656" opacity="0.8" transform="rotate(-0 123.1 268.8)"/><ellipse cx="205.9" cy="283.7" rx="1.6" ry="1.3" fill="#2e452e" opacity="0.8" transform="rotate(-8 205.9 283.7)"/><ellipse cx="122.5" cy="255.9" rx="1.9" ry="1.5" fill="#3a5538" opacity="0.8" transform="rotate(38 122.5 255.9)"/><ellipse cx="200.3" cy="267.5" rx="0.9" ry="1.0" fill="#142014" opacity="0.8" transform="rotate(32 200.3 267.5)"/><ellipse cx="165.0" cy="228.7" rx="2.0" ry="1.6" fill="#2e452e" opacity="0.8" transform="rotate(29 165.0 228.7)"/><ellipse cx="210.6" cy="237.3" rx="0.8" ry="1.3" fill="#4a6648" opacity="0.8" transform="rotate(-21 210.6 237.3)"/><ellipse cx="216.0" cy="254.3" rx="2.1" ry="1.3" fill="#27382a" opacity="0.8" transform="rotate(-28 216.0 254.3)"/><ellipse cx="151.2" cy="268.1" rx="1.7" ry="1.2" fill="#3a5538" opacity="0.8" transform="rotate(31 151.2 268.1)"/><ellipse cx="194.9" cy="228.8" rx="0.8" ry="1.2" fill="#2e452e" opacity="0.8" transform="rotate(25 194.9 228.8)"/><ellipse cx="161.1" cy="250.5" rx="1.9" ry="1.6" fill="#3a5538" opacity="0.8" transform="rotate(27 161.1 250.5)"/><ellipse cx="153.6" cy="296.3" rx="2.1" ry="1.0" fill="#2e452e" opacity="0.8" transform="rotate(-27 153.6 296.3)"/><ellipse cx="158.4" cy="274.4" rx="1.9" ry="1.0" fill="#3a5538" opacity="0.8" transform="rotate(-9 158.4 274.4)"/><ellipse cx="218.3" cy="284.5" rx="1.8" ry="0.8" fill="#142014" opacity="0.8" transform="rotate(-35 218.3 284.5)"/><ellipse cx="210.6" cy="280.3" rx="0.8" ry="0.7" fill="#5a7656" opacity="0.8" transform="rotate(27 210.6 280.3)"/><ellipse cx="221.6" cy="245.7" rx="1.5" ry="0.9" fill="#36503a" opacity="0.8" transform="rotate(22 221.6 245.7)"/><ellipse cx="204.2" cy="248.4" rx="0.8" ry="0.8" fill="#4a6648" opacity="0.8" transform="rotate(-6 204.2 248.4)"/><ellipse cx="150.7" cy="238.1" rx="2.4" ry="1.6" fill="#2e452e" opacity="0.8" transform="rotate(-28 150.7 238.1)"/><ellipse cx="156.7" cy="234.1" rx="1.8" ry="1.4" fill="#142014" opacity="0.8" transform="rotate(-24 156.7 234.1)"/><ellipse cx="152.9" cy="232.1" rx="1.5" ry="1.3" fill="#4a6648" opacity="0.8" transform="rotate(34 152.9 232.1)"/><ellipse cx="202.5" cy="261.1" rx="1.0" ry="1.4" fill="#2e452e" opacity="0.8" transform="rotate(22 202.5 261.1)"/><ellipse cx="162.0" cy="265.5" rx="1.3" ry="1.4" fill="#4a6648" opacity="0.8" transform="rotate(-14 162.0 265.5)"/><ellipse cx="140.5" cy="241.8" rx="1.1" ry="1.3" fill="#4a6648" opacity="0.8" transform="rotate(-11 140.5 241.8)"/><ellipse cx="162.5" cy="265.2" rx="1.1" ry="0.5" fill="#5a7656" opacity="0.8" transform="rotate(40 162.5 265.2)"/><ellipse cx="210.2" cy="254.8" rx="1.6" ry="0.6" fill="#5a7656" opacity="0.8" transform="rotate(-15 210.2 254.8)"/><ellipse cx="156.5" cy="265.4" rx="0.8" ry="0.5" fill="#2e452e" opacity="0.8" transform="rotate(39 156.5 265.4)"/><ellipse cx="181.4" cy="243.4" rx="2.5" ry="0.8" fill="#142014" opacity="0.8" transform="rotate(-32 181.4 243.4)"/><ellipse cx="200.0" cy="287.0" rx="2.5" ry="0.8" fill="#142014" opacity="0.8" transform="rotate(-37 200.0 287.0)"/><ellipse cx="223.4" cy="255.2" rx="0.8" ry="0.5" fill="#4a6648" opacity="0.8" transform="rotate(-10 223.4 255.2)"/><ellipse cx="171.1" cy="288.9" rx="2.4" ry="1.4" fill="#142014" opacity="0.8" transform="rotate(11 171.1 288.9)"/><ellipse cx="193.8" cy="234.5" rx="1.4" ry="0.8" fill="#3a5538" opacity="0.8" transform="rotate(-33 193.8 234.5)"/><ellipse cx="139.8" cy="289.2" rx="1.5" ry="0.8" fill="#36503a" opacity="0.8" transform="rotate(18 139.8 289.2)"/><ellipse cx="125.0" cy="246.4" rx="1.4" ry="1.5" fill="#27382a" opacity="0.8" transform="rotate(32 125.0 246.4)"/><ellipse cx="147.6" cy="265.0" rx="2.1" ry="1.3" fill="#2e452e" opacity="0.8" transform="rotate(-1 147.6 265.0)"/><ellipse cx="135.9" cy="282.4" rx="2.5" ry="1.2" fill="#3a5538" opacity="0.8" transform="rotate(-16 135.9 282.4)"/><ellipse cx="199.1" cy="235.6" rx="1.4" ry="0.8" fill="#142014" opacity="0.8" transform="rotate(-30 199.1 235.6)"/><ellipse cx="160.1" cy="259.8" rx="2.3" ry="1.5" fill="#142014" opacity="0.8" transform="rotate(31 160.1 259.8)"/><ellipse cx="194.9" cy="242.0" rx="0.9" ry="1.5" fill="#142014" opacity="0.8" transform="rotate(-22 194.9 242.0)"/><ellipse cx="212.5" cy="238.1" rx="1.6" ry="0.6" fill="#5a7656" opacity="0.8" transform="rotate(34 212.5 238.1)"/><ellipse cx="185.7" cy="260.6" rx="1.4" ry="1.4" fill="#2e452e" opacity="0.8" transform="rotate(-2 185.7 260.6)"/><ellipse cx="135.7" cy="244.0" rx="0.9" ry="1.3" fill="#5a7656" opacity="0.8" transform="rotate(4 135.7 244.0)"/><ellipse cx="166.2" cy="238.8" rx="1.6" ry="0.8" fill="#27382a" opacity="0.8" transform="rotate(-38 166.2 238.8)"/><ellipse cx="155.5" cy="240.1" rx="1.7" ry="0.8" fill="#182018" opacity="0.8" transform="rotate(32 155.5 240.1)"/><ellipse cx="136.8" cy="265.0" rx="1.9" ry="1.4" fill="#3a5538" opacity="0.8" transform="rotate(34 136.8 265.0)"/><ellipse cx="207.0" cy="236.6" rx="2.2" ry="1.6" fill="#142014" opacity="0.8" transform="rotate(-5 207.0 236.6)"/><ellipse cx="223.8" cy="294.6" rx="1.0" ry="0.8" fill="#182018" opacity="0.8" transform="rotate(32 223.8 294.6)"/><ellipse cx="206.7" cy="298.5" rx="1.1" ry="1.2" fill="#2e452e" opacity="0.8" transform="rotate(-5 206.7 298.5)"/><ellipse cx="173.6" cy="259.9" rx="2.2" ry="1.5" fill="#5a7656" opacity="0.8" transform="rotate(-17 173.6 259.9)"/><ellipse cx="165.8" cy="293.7" rx="1.2" ry="1.1" fill="#5a7656" opacity="0.8" transform="rotate(-29 165.8 293.7)"/><ellipse cx="174.7" cy="244.6" rx="1.1" ry="1.2" fill="#27382a" opacity="0.8" transform="rotate(26 174.7 244.6)"/><ellipse cx="199.4" cy="240.6" rx="1.0" ry="1.2" fill="#142014" opacity="0.8" transform="rotate(10 199.4 240.6)"/><ellipse cx="181.0" cy="242.6" rx="0.9" ry="1.3" fill="#4a6648" opacity="0.8" transform="rotate(-7 181.0 242.6)"/><ellipse cx="174.4" cy="253.0" rx="1.3" ry="1.2" fill="#2e452e" opacity="0.8" transform="rotate(36 174.4 253.0)"/><ellipse cx="122.6" cy="293.5" rx="1.7" ry="1.5" fill="#3a5538" opacity="0.8" transform="rotate(-19 122.6 293.5)"/><ellipse cx="179.0" cy="299.0" rx="0.9" ry="1.3" fill="#27382a" opacity="0.8" transform="rotate(6 179.0 299.0)"/><ellipse cx="157.7" cy="295.1" rx="2.5" ry="0.6" fill="#2e452e" opacity="0.8" transform="rotate(-11 157.7 295.1)"/><ellipse cx="205.1" cy="290.3" rx="1.4" ry="1.3" fill="#4a6648" opacity="0.8" transform="rotate(-9 205.1 290.3)"/><ellipse cx="151.0" cy="235.8" rx="2.1" ry="1.0" fill="#2e452e" opacity="0.8" transform="rotate(-38 151.0 235.8)"/><ellipse cx="123.1" cy="297.7" rx="1.2" ry="0.7" fill="#27382a" opacity="0.8" transform="rotate(-32 123.1 297.7)"/><ellipse cx="178.2" cy="296.8" rx="0.8" ry="1.5" fill="#182018" opacity="0.8" transform="rotate(19 178.2 296.8)"/><ellipse cx="122.8" cy="271.2" rx="1.8" ry="1.1" fill="#182018" opacity="0.8" transform="rotate(16 122.8 271.2)"/><ellipse cx="157.1" cy="234.8" rx="1.1" ry="0.8" fill="#3a5538" opacity="0.8" transform="rotate(-3 157.1 234.8)"/><ellipse cx="132.3" cy="236.8" rx="2.4" ry="1.1" fill="#182018" opacity="0.8" transform="rotate(-22 132.3 236.8)"/><ellipse cx="136.2" cy="269.2" rx="2.1" ry="0.7" fill="#4a6648" opacity="0.8" transform="rotate(26 136.2 269.2)"/><ellipse cx="192.5" cy="271.0" rx="1.9" ry="0.5" fill="#36503a" opacity="0.8" transform="rotate(38 192.5 271.0)"/><ellipse cx="201.0" cy="252.4" rx="1.2" ry="0.9" fill="#2e452e" opacity="0.8" transform="rotate(-5 201.0 252.4)"/><ellipse cx="204.9" cy="289.0" rx="0.9" ry="1.1" fill="#5a7656" opacity="0.8" transform="rotate(37 204.9 289.0)"/><ellipse cx="146.7" cy="258.4" rx="1.9" ry="0.9" fill="#5a7656" opacity="0.8" transform="rotate(2 146.7 258.4)"/><ellipse cx="154.4" cy="242.5" rx="2.0" ry="0.7" fill="#3a5538" opacity="0.8" transform="rotate(-6 154.4 242.5)"/><ellipse cx="201.0" cy="295.5" rx="1.9" ry="1.4" fill="#36503a" opacity="0.8" transform="rotate(31 201.0 295.5)"/><ellipse cx="124.5" cy="274.2" rx="1.3" ry="1.2" fill="#2e452e" opacity="0.8" transform="rotate(-18 124.5 274.2)"/><ellipse cx="185.0" cy="246.0" rx="1.7" ry="1.0" fill="#2e452e" opacity="0.8" transform="rotate(36 185.0 246.0)"/><ellipse cx="132.6" cy="253.0" rx="1.1" ry="0.6" fill="#182018" opacity="0.8" transform="rotate(37 132.6 253.0)"/><ellipse cx="129.7" cy="270.5" rx="2.5" ry="1.0" fill="#182018" opacity="0.8" transform="rotate(1 129.7 270.5)"/><ellipse cx="215.3" cy="269.6" rx="1.3" ry="1.3" fill="#182018" opacity="0.8" transform="rotate(19 215.3 269.6)"/><ellipse cx="207.5" cy="271.9" rx="1.8" ry="1.2" fill="#182018" opacity="0.8" transform="rotate(-24 207.5 271.9)"/><ellipse cx="168.5" cy="267.5" rx="1.9" ry="1.0" fill="#5a7656" opacity="0.8" transform="rotate(-15 168.5 267.5)"/><ellipse cx="155.4" cy="241.6" rx="1.8" ry="1.6" fill="#4a6648" opacity="0.8" transform="rotate(-8 155.4 241.6)"/><ellipse cx="137.7" cy="296.5" rx="1.4" ry="0.9" fill="#5a7656" opacity="0.8" transform="rotate(-18 137.7 296.5)"/><ellipse cx="151.4" cy="283.6" rx="1.1" ry="0.6" fill="#4a6648" opacity="0.8" transform="rotate(30 151.4 283.6)"/><ellipse cx="188.7" cy="265.2" rx="2.3" ry="0.9" fill="#142014" opacity="0.8" transform="rotate(21 188.7 265.2)"/><ellipse cx="222.9" cy="276.8" rx="2.5" ry="1.0" fill="#4a6648" opacity="0.8" transform="rotate(13 222.9 276.8)"/><ellipse cx="190.6" cy="272.4" rx="2.3" ry="1.4" fill="#27382a" opacity="0.8" transform="rotate(1 190.6 272.4)"/><ellipse cx="148.7" cy="273.4" rx="1.9" ry="1.3" fill="#142014" opacity="0.8" transform="rotate(-7 148.7 273.4)"/><ellipse cx="121.4" cy="283.1" rx="1.9" ry="1.0" fill="#3a5538" opacity="0.8" transform="rotate(37 121.4 283.1)"/><ellipse cx="164.0" cy="284.4" rx="2.4" ry="1.2" fill="#27382a" opacity="0.8" transform="rotate(-10 164.0 284.4)"/><ellipse cx="192.3" cy="248.7" rx="1.4" ry="0.9" fill="#142014" opacity="0.8" transform="rotate(2 192.3 248.7)"/><ellipse cx="187.8" cy="228.5" rx="2.1" ry="1.6" fill="#36503a" opacity="0.8" transform="rotate(-10 187.8 228.5)"/><ellipse cx="140.0" cy="249.9" rx="1.1" ry="1.1" fill="#182018" opacity="0.8" transform="rotate(7 140.0 249.9)"/><ellipse cx="205.6" cy="251.8" rx="2.5" ry="1.2" fill="#3a5538" opacity="0.8" transform="rotate(-21 205.6 251.8)"/><ellipse cx="142.0" cy="258.7" rx="2.4" ry="0.5" fill="#5a7656" opacity="0.8" transform="rotate(-36 142.0 258.7)"/><ellipse cx="151.9" cy="266.6" rx="1.4" ry="1.2" fill="#142014" opacity="0.8" transform="rotate(-5 151.9 266.6)"/><ellipse cx="161.1" cy="253.8" rx="1.9" ry="0.9" fill="#36503a" opacity="0.8" transform="rotate(36 161.1 253.8)"/><ellipse cx="175.1" cy="235.1" rx="1.5" ry="0.9" fill="#3a5538" opacity="0.8" transform="rotate(5 175.1 235.1)"/><ellipse cx="211.6" cy="297.4" rx="1.7" ry="1.0" fill="#27382a" opacity="0.8" transform="rotate(10 211.6 297.4)"/><ellipse cx="192.2" cy="281.7" rx="1.0" ry="0.9" fill="#5a7656" opacity="0.8" transform="rotate(-11 192.2 281.7)"/><ellipse cx="206.1" cy="264.9" rx="1.0" ry="1.5" fill="#3a5538" opacity="0.8" transform="rotate(15 206.1 264.9)"/><ellipse cx="186.0" cy="265.7" rx="2.3" ry="0.7" fill="#36503a" opacity="0.8" transform="rotate(31 186.0 265.7)"/><ellipse cx="139.8" cy="273.4" rx="1.9" ry="0.9" fill="#36503a" opacity="0.8" transform="rotate(39 139.8 273.4)"/><ellipse cx="192.2" cy="228.8" rx="0.8" ry="1.3" fill="#2e452e" opacity="0.8" transform="rotate(4 192.2 228.8)"/><ellipse cx="161.9" cy="235.1" rx="0.8" ry="0.5" fill="#182018" opacity="0.8" transform="rotate(-26 161.9 235.1)"/><ellipse cx="210.7" cy="292.5" rx="1.7" ry="0.7" fill="#182018" opacity="0.8" transform="rotate(-24 210.7 292.5)"/><ellipse cx="136.0" cy="265.3" rx="1.7" ry="0.5" fill="#3a5538" opacity="0.8" transform="rotate(-34 136.0 265.3)"/><ellipse cx="205.8" cy="272.1" rx="2.3" ry="0.6" fill="#142014" opacity="0.8" transform="rotate(-39 205.8 272.1)"/><ellipse cx="135.8" cy="245.2" rx="1.3" ry="0.5" fill="#5a7656" opacity="0.8" transform="rotate(10 135.8 245.2)"/><ellipse cx="156.9" cy="260.4" rx="1.5" ry="0.6" fill="#3a5538" opacity="0.8" transform="rotate(31 156.9 260.4)"/><ellipse cx="166.3" cy="272.7" rx="1.2" ry="0.5" fill="#2e452e" opacity="0.8" transform="rotate(34 166.3 272.7)"/><ellipse cx="153.4" cy="292.7" rx="2.3" ry="0.8" fill="#27382a" opacity="0.8" transform="rotate(8 153.4 292.7)"/><ellipse cx="221.9" cy="232.9" rx="2.0" ry="1.2" fill="#142014" opacity="0.8" transform="rotate(7 221.9 232.9)"/><ellipse cx="152.8" cy="291.0" rx="1.7" ry="1.4" fill="#36503a" opacity="0.8" transform="rotate(-21 152.8 291.0)"/><ellipse cx="138.5" cy="255.3" rx="0.8" ry="1.5" fill="#27382a" opacity="0.8" transform="rotate(-8 138.5 255.3)"/><ellipse cx="132.8" cy="266.4" rx="1.5" ry="0.9" fill="#5a7656" opacity="0.8" transform="rotate(-35 132.8 266.4)"/><ellipse cx="164.5" cy="293.7" rx="1.8" ry="0.9" fill="#3a5538" opacity="0.8" transform="rotate(-3 164.5 293.7)"/><ellipse cx="145.4" cy="230.5" rx="2.0" ry="0.9" fill="#5a7656" opacity="0.8" transform="rotate(-28 145.4 230.5)"/><ellipse cx="130.5" cy="247.4" rx="2.3" ry="0.6" fill="#27382a" opacity="0.8" transform="rotate(-5 130.5 247.4)"/><ellipse cx="137.4" cy="253.4" rx="2.1" ry="0.9" fill="#4a6648" opacity="0.8" transform="rotate(37 137.4 253.4)"/><ellipse cx="151.6" cy="262.3" rx="1.2" ry="1.4" fill="#4a6648" opacity="0.8" transform="rotate(14 151.6 262.3)"/><ellipse cx="182.4" cy="259.7" rx="2.6" ry="1.1" fill="#182018" opacity="0.8" transform="rotate(-8 182.4 259.7)"/><ellipse cx="133.9" cy="282.0" rx="2.0" ry="0.6" fill="#4a6648" opacity="0.8" transform="rotate(28 133.9 282.0)"/><ellipse cx="124.0" cy="279.7" rx="1.1" ry="0.5" fill="#36503a" opacity="0.8" transform="rotate(17 124.0 279.7)"/><ellipse cx="200.9" cy="244.7" rx="1.1" ry="1.5" fill="#27382a" opacity="0.8" transform="rotate(-35 200.9 244.7)"/><ellipse cx="203.9" cy="282.6" rx="1.1" ry="1.3" fill="#5a7656" opacity="0.8" transform="rotate(-33 203.9 282.6)"/><ellipse cx="134.0" cy="279.6" rx="1.3" ry="0.9" fill="#182018" opacity="0.8" transform="rotate(33 134.0 279.6)"/><ellipse cx="217.5" cy="240.7" rx="1.5" ry="1.4" fill="#27382a" opacity="0.8" transform="rotate(15 217.5 240.7)"/><ellipse cx="123.6" cy="278.7" rx="1.6" ry="1.6" fill="#36503a" opacity="0.8" transform="rotate(-8 123.6 278.7)"/><ellipse cx="139.7" cy="236.3" rx="2.4" ry="1.3" fill="#3a5538" opacity="0.8" transform="rotate(17 139.7 236.3)"/><ellipse cx="162.7" cy="271.8" rx="1.6" ry="1.3" fill="#2e452e" opacity="0.8" transform="rotate(-28 162.7 271.8)"/><ellipse cx="177.9" cy="273.3" rx="2.5" ry="1.1" fill="#2e452e" opacity="0.8" transform="rotate(-22 177.9 273.3)"/><ellipse cx="194.8" cy="246.3" rx="1.6" ry="1.3" fill="#142014" opacity="0.8" transform="rotate(-12 194.8 246.3)"/><ellipse cx="132.5" cy="283.0" rx="2.0" ry="1.5" fill="#2e452e" opacity="0.8" transform="rotate(30 132.5 283.0)"/><ellipse cx="221.3" cy="277.0" rx="0.9" ry="0.9" fill="#2e452e" opacity="0.8" transform="rotate(22 221.3 277.0)"/><ellipse cx="198.2" cy="234.2" rx="2.1" ry="0.9" fill="#5a7656" opacity="0.8" transform="rotate(20 198.2 234.2)"/><ellipse cx="150.0" cy="234.5" rx="2.5" ry="1.0" fill="#4a6648" opacity="0.8" transform="rotate(34 150.0 234.5)"/><ellipse cx="173.4" cy="276.7" rx="1.2" ry="1.2" fill="#142014" opacity="0.8" transform="rotate(28 173.4 276.7)"/><ellipse cx="171.4" cy="241.6" rx="2.5" ry="1.4" fill="#27382a" opacity="0.8" transform="rotate(5 171.4 241.6)"/><ellipse cx="177.3" cy="297.8" rx="1.9" ry="1.1" fill="#27382a" opacity="0.8" transform="rotate(-20 177.3 297.8)"/><ellipse cx="138.3" cy="253.0" rx="1.0" ry="1.2" fill="#2e452e" opacity="0.8" transform="rotate(-29 138.3 253.0)"/><ellipse cx="190.0" cy="245.1" rx="1.2" ry="1.1" fill="#142014" opacity="0.8" transform="rotate(-4 190.0 245.1)"/><ellipse cx="192.9" cy="237.6" rx="2.1" ry="1.1" fill="#5a7656" opacity="0.8" transform="rotate(-21 192.9 237.6)"/><ellipse cx="177.5" cy="282.8" rx="1.1" ry="1.2" fill="#3a5538" opacity="0.8" transform="rotate(8 177.5 282.8)"/><ellipse cx="207.5" cy="257.2" rx="1.2" ry="1.3" fill="#142014" opacity="0.8" transform="rotate(-39 207.5 257.2)"/><ellipse cx="142.3" cy="232.3" rx="1.3" ry="0.7" fill="#142014" opacity="0.8" transform="rotate(16 142.3 232.3)"/><ellipse cx="220.2" cy="239.6" rx="1.6" ry="1.1" fill="#142014" opacity="0.8" transform="rotate(-17 220.2 239.6)"/><ellipse cx="125.7" cy="261.7" rx="2.6" ry="1.0" fill="#3a5538" opacity="0.8" transform="rotate(20 125.7 261.7)"/><ellipse cx="222.0" cy="268.6" rx="1.0" ry="1.0" fill="#5a7656" opacity="0.8" transform="rotate(-5 222.0 268.6)"/><ellipse cx="201.7" cy="251.2" rx="1.4" ry="0.6" fill="#4a6648" opacity="0.8" transform="rotate(-17 201.7 251.2)"/><ellipse cx="188.3" cy="233.6" rx="2.1" ry="0.5" fill="#182018" opacity="0.8" transform="rotate(-8 188.3 233.6)"/><ellipse cx="151.5" cy="241.4" rx="1.9" ry="1.4" fill="#27382a" opacity="0.8" transform="rotate(34 151.5 241.4)"/><ellipse cx="131.5" cy="279.8" rx="1.4" ry="1.2" fill="#27382a" opacity="0.8" transform="rotate(-10 131.5 279.8)"/><ellipse cx="154.0" cy="254.5" rx="1.8" ry="0.9" fill="#5a7656" opacity="0.8" transform="rotate(27 154.0 254.5)"/><ellipse cx="126.9" cy="235.7" rx="2.2" ry="1.5" fill="#4a6648" opacity="0.8" transform="rotate(40 126.9 235.7)"/><ellipse cx="214.2" cy="296.0" rx="1.7" ry="1.0" fill="#36503a" opacity="0.8" transform="rotate(-27 214.2 296.0)"/><ellipse cx="183.1" cy="273.1" rx="1.1" ry="0.8" fill="#182018" opacity="0.8" transform="rotate(-29 183.1 273.1)"/><ellipse cx="130.2" cy="230.9" rx="1.6" ry="0.7" fill="#36503a" opacity="0.8" transform="rotate(18 130.2 230.9)"/><ellipse cx="124.3" cy="272.0" rx="2.3" ry="1.1" fill="#2e452e" opacity="0.8" transform="rotate(-29 124.3 272.0)"/><ellipse cx="189.1" cy="265.1" rx="1.6" ry="0.9" fill="#3a5538" opacity="0.8" transform="rotate(-5 189.1 265.1)"/><ellipse cx="214.1" cy="239.8" rx="1.3" ry="1.0" fill="#27382a" opacity="0.8" transform="rotate(5 214.1 239.8)"/><ellipse cx="179.5" cy="261.8" rx="1.8" ry="1.1" fill="#5a7656" opacity="0.8" transform="rotate(-6 179.5 261.8)"/><ellipse cx="221.4" cy="297.3" rx="1.9" ry="1.4" fill="#27382a" opacity="0.8" transform="rotate(-35 221.4 297.3)"/><ellipse cx="183.7" cy="249.4" rx="1.8" ry="1.5" fill="#5a7656" opacity="0.8" transform="rotate(-2 183.7 249.4)"/><ellipse cx="151.8" cy="252.7" rx="2.4" ry="0.5" fill="#27382a" opacity="0.8" transform="rotate(-25 151.8 252.7)"/><ellipse cx="192.2" cy="238.6" rx="1.8" ry="1.1" fill="#142014" opacity="0.8" transform="rotate(35 192.2 238.6)"/><ellipse cx="175.6" cy="268.7" rx="1.5" ry="0.6" fill="#5a7656" opacity="0.8" transform="rotate(-26 175.6 268.7)"/><ellipse cx="177.5" cy="236.1" rx="2.4" ry="0.8" fill="#4a6648" opacity="0.8" transform="rotate(-32 177.5 236.1)"/><ellipse cx="194.0" cy="244.3" rx="1.6" ry="1.1" fill="#182018" opacity="0.8" transform="rotate(16 194.0 244.3)"/><ellipse cx="208.7" cy="276.9" rx="2.2" ry="0.6" fill="#3a5538" opacity="0.8" transform="rotate(0 208.7 276.9)"/><ellipse cx="185.5" cy="297.1" rx="1.7" ry="1.0" fill="#3a5538" opacity="0.8" transform="rotate(15 185.5 297.1)"/><ellipse cx="220.7" cy="241.8" rx="1.7" ry="0.6" fill="#27382a" opacity="0.8" transform="rotate(-10 220.7 241.8)"/><ellipse cx="162.6" cy="231.4" rx="0.9" ry="1.3" fill="#2e452e" opacity="0.8" transform="rotate(36 162.6 231.4)"/><ellipse cx="151.9" cy="278.9" rx="1.6" ry="1.5" fill="#142014" opacity="0.8" transform="rotate(10 151.9 278.9)"/><ellipse cx="179.0" cy="294.1" rx="2.4" ry="0.7" fill="#4a6648" opacity="0.8" transform="rotate(20 179.0 294.1)"/><ellipse cx="203.8" cy="281.0" rx="0.8" ry="0.8" fill="#5a7656" opacity="0.8" transform="rotate(-21 203.8 281.0)"/><ellipse cx="195.3" cy="231.1" rx="1.9" ry="0.6" fill="#5a7656" opacity="0.8" transform="rotate(4 195.3 231.1)"/><ellipse cx="124.5" cy="293.5" rx="1.2" ry="0.9" fill="#3a5538" opacity="0.8" transform="rotate(16 124.5 293.5)"/><ellipse cx="207.3" cy="269.9" rx="1.0" ry="0.5" fill="#2e452e" opacity="0.8" transform="rotate(-31 207.3 269.9)"/><ellipse cx="140.1" cy="267.9" rx="1.3" ry="1.3" fill="#182018" opacity="0.8" transform="rotate(-10 140.1 267.9)"/><ellipse cx="181.6" cy="246.0" rx="2.6" ry="1.3" fill="#27382a" opacity="0.8" transform="rotate(-19 181.6 246.0)"/><ellipse cx="122.4" cy="252.7" rx="1.1" ry="1.1" fill="#142014" opacity="0.8" transform="rotate(30 122.4 252.7)"/><ellipse cx="128.7" cy="272.7" rx="2.0" ry="1.2" fill="#2e452e" opacity="0.8" transform="rotate(27 128.7 272.7)"/><ellipse cx="192.4" cy="260.3" rx="1.2" ry="1.6" fill="#27382a" opacity="0.8" transform="rotate(1 192.4 260.3)"/><ellipse cx="154.9" cy="243.6" rx="2.4" ry="1.1" fill="#5a7656" opacity="0.8" transform="rotate(-37 154.9 243.6)"/><ellipse cx="205.4" cy="280.4" rx="1.4" ry="1.0" fill="#27382a" opacity="0.8" transform="rotate(35 205.4 280.4)"/><ellipse cx="121.6" cy="269.7" rx="1.4" ry="0.5" fill="#5a7656" opacity="0.8" transform="rotate(-3 121.6 269.7)"/><ellipse cx="186.0" cy="280.3" rx="1.1" ry="0.9" fill="#2e452e" opacity="0.8" transform="rotate(-35 186.0 280.3)"/><ellipse cx="157.8" cy="269.3" rx="1.9" ry="0.7" fill="#182018" opacity="0.8" transform="rotate(16 157.8 269.3)"/><ellipse cx="210.9" cy="283.7" rx="1.9" ry="1.2" fill="#3a5538" opacity="0.8" transform="rotate(-11 210.9 283.7)"/><ellipse cx="202.7" cy="245.1" rx="2.2" ry="0.7" fill="#182018" opacity="0.8" transform="rotate(-34 202.7 245.1)"/><ellipse cx="197.2" cy="264.6" rx="1.9" ry="0.9" fill="#5a7656" opacity="0.8" transform="rotate(4 197.2 264.6)"/><ellipse cx="155.4" cy="278.7" rx="2.0" ry="1.5" fill="#36503a" opacity="0.8" transform="rotate(23 155.4 278.7)"/><ellipse cx="213.1" cy="286.3" rx="2.6" ry="0.7" fill="#5a7656" opacity="0.8" transform="rotate(-24 213.1 286.3)"/><ellipse cx="162.7" cy="256.5" rx="2.2" ry="1.5" fill="#142014" opacity="0.8" transform="rotate(7 162.7 256.5)"/><ellipse cx="152.1" cy="250.2" rx="2.1" ry="1.1" fill="#27382a" opacity="0.8" transform="rotate(35 152.1 250.2)"/><ellipse cx="128.6" cy="241.7" rx="2.5" ry="1.1" fill="#5a7656" opacity="0.8" transform="rotate(-16 128.6 241.7)"/><ellipse cx="222.7" cy="253.7" rx="2.2" ry="1.0" fill="#5a7656" opacity="0.8" transform="rotate(29 222.7 253.7)"/><ellipse cx="207.4" cy="251.0" rx="1.1" ry="1.5" fill="#3a5538" opacity="0.8" transform="rotate(4 207.4 251.0)"/><ellipse cx="185.5" cy="245.1" rx="0.8" ry="0.6" fill="#27382a" opacity="0.8" transform="rotate(-4 185.5 245.1)"/><ellipse cx="210.0" cy="274.7" rx="1.2" ry="1.3" fill="#182018" opacity="0.8" transform="rotate(37 210.0 274.7)"/><ellipse cx="129.2" cy="286.3" rx="2.4" ry="0.9" fill="#2e452e" opacity="0.8" transform="rotate(-29 129.2 286.3)"/><ellipse cx="148.9" cy="274.3" rx="0.8" ry="0.9" fill="#4a6648" opacity="0.8" transform="rotate(-38 148.9 274.3)"/><ellipse cx="154.7" cy="282.0" rx="2.0" ry="0.9" fill="#5a7656" opacity="0.8" transform="rotate(14 154.7 282.0)"/><ellipse cx="139.0" cy="290.2" rx="2.2" ry="0.6" fill="#5a7656" opacity="0.8" transform="rotate(9 139.0 290.2)"/><ellipse cx="222.7" cy="256.8" rx="2.5" ry="1.5" fill="#142014" opacity="0.8" transform="rotate(-38 222.7 256.8)"/><ellipse cx="179.1" cy="299.1" rx="0.9" ry="1.2" fill="#5a7656" opacity="0.8" transform="rotate(18 179.1 299.1)"/><ellipse cx="137.1" cy="229.3" rx="1.2" ry="1.1" fill="#5a7656" opacity="0.8" transform="rotate(27 137.1 229.3)"/><ellipse cx="204.8" cy="258.5" rx="1.8" ry="1.1" fill="#5a7656" opacity="0.8" transform="rotate(4 204.8 258.5)"/><ellipse cx="144.7" cy="272.5" rx="2.3" ry="1.0" fill="#5a7656" opacity="0.8" transform="rotate(-37 144.7 272.5)"/><ellipse cx="188.1" cy="267.6" rx="2.1" ry="1.1" fill="#182018" opacity="0.8" transform="rotate(-11 188.1 267.6)"/><ellipse cx="134.6" cy="228.7" rx="1.7" ry="1.2" fill="#182018" opacity="0.8" transform="rotate(22 134.6 228.7)"/><ellipse cx="136.5" cy="273.3" rx="1.5" ry="1.6" fill="#5a7656" opacity="0.8" transform="rotate(35 136.5 273.3)"/><ellipse cx="133.6" cy="267.1" rx="1.2" ry="1.4" fill="#27382a" opacity="0.8" transform="rotate(-19 133.6 267.1)"/><ellipse cx="197.0" cy="293.0" rx="2.4" ry="1.4" fill="#5a7656" opacity="0.8" transform="rotate(22 197.0 293.0)"/><ellipse cx="157.1" cy="279.1" rx="1.6" ry="1.4" fill="#2e452e" opacity="0.8" transform="rotate(-23 157.1 279.1)"/><ellipse cx="213.8" cy="256.0" rx="1.2" ry="1.4" fill="#5a7656" opacity="0.8" transform="rotate(-38 213.8 256.0)"/><ellipse cx="127.7" cy="274.5" rx="1.5" ry="1.5" fill="#2e452e" opacity="0.8" transform="rotate(-35 127.7 274.5)"/><ellipse cx="163.2" cy="294.2" rx="2.5" ry="1.2" fill="#36503a" opacity="0.8" transform="rotate(-22 163.2 294.2)"/><ellipse cx="123.1" cy="279.1" rx="1.2" ry="0.9" fill="#182018" opacity="0.8" transform="rotate(-14 123.1 279.1)"/><ellipse cx="187.2" cy="249.5" rx="2.6" ry="0.7" fill="#36503a" opacity="0.8" transform="rotate(6 187.2 249.5)"/><ellipse cx="170.2" cy="295.2" rx="2.2" ry="1.5" fill="#27382a" opacity="0.8" transform="rotate(-29 170.2 295.2)"/><ellipse cx="150.1" cy="251.9" rx="1.7" ry="1.5" fill="#182018" opacity="0.8" transform="rotate(-27 150.1 251.9)"/><ellipse cx="142.8" cy="231.8" rx="2.2" ry="1.4" fill="#142014" opacity="0.8" transform="rotate(19 142.8 231.8)"/><ellipse cx="201.3" cy="290.2" rx="1.1" ry="1.5" fill="#2e452e" opacity="0.8" transform="rotate(40 201.3 290.2)"/><ellipse cx="191.6" cy="286.0" rx="1.1" ry="1.5" fill="#182018" opacity="0.8" transform="rotate(-29 191.6 286.0)"/><ellipse cx="136.5" cy="281.0" rx="1.0" ry="0.7" fill="#182018" opacity="0.8" transform="rotate(15 136.5 281.0)"/><ellipse cx="163.7" cy="274.2" rx="2.0" ry="0.9" fill="#3a5538" opacity="0.8" transform="rotate(-13 163.7 274.2)"/><ellipse cx="181.3" cy="242.5" rx="1.9" ry="0.5" fill="#2e452e" opacity="0.8" transform="rotate(-29 181.3 242.5)"/><ellipse cx="180.2" cy="278.3" rx="2.1" ry="0.6" fill="#4a6648" opacity="0.8" transform="rotate(32 180.2 278.3)"/><ellipse cx="211.5" cy="236.7" rx="1.7" ry="0.6" fill="#3a5538" opacity="0.8" transform="rotate(-6 211.5 236.7)"/><ellipse cx="144.1" cy="266.9" rx="1.9" ry="1.1" fill="#27382a" opacity="0.8" transform="rotate(39 144.1 266.9)"/><ellipse cx="207.5" cy="296.9" rx="0.9" ry="1.6" fill="#5a7656" opacity="0.8" transform="rotate(28 207.5 296.9)"/><ellipse cx="196.3" cy="247.7" rx="1.1" ry="0.8" fill="#4a6648" opacity="0.8" transform="rotate(-34 196.3 247.7)"/><ellipse cx="141.2" cy="231.4" rx="2.2" ry="1.5" fill="#2e452e" opacity="0.8" transform="rotate(-19 141.2 231.4)"/><ellipse cx="191.9" cy="275.0" rx="1.8" ry="1.1" fill="#5a7656" opacity="0.8" transform="rotate(15 191.9 275.0)"/><ellipse cx="162.1" cy="250.9" rx="1.6" ry="1.6" fill="#182018" opacity="0.8" transform="rotate(-9 162.1 250.9)"/><ellipse cx="211.8" cy="285.9" rx="2.4" ry="1.2" fill="#36503a" opacity="0.8" transform="rotate(-21 211.8 285.9)"/><ellipse cx="192.4" cy="280.6" rx="2.6" ry="1.4" fill="#182018" opacity="0.8" transform="rotate(13 192.4 280.6)"/><ellipse cx="207.8" cy="284.4" rx="2.4" ry="0.6" fill="#3a5538" opacity="0.8" transform="rotate(16 207.8 284.4)"/><ellipse cx="191.5" cy="259.9" rx="2.0" ry="1.0" fill="#5a7656" opacity="0.8" transform="rotate(6 191.5 259.9)"/><ellipse cx="197.9" cy="289.5" rx="1.7" ry="1.2" fill="#142014" opacity="0.8" transform="rotate(40 197.9 289.5)"/><ellipse cx="206.0" cy="285.0" rx="2.4" ry="0.9" fill="#4a6648" opacity="0.8" transform="rotate(-35 206.0 285.0)"/><ellipse cx="184.1" cy="276.8" rx="1.4" ry="1.2" fill="#182018" opacity="0.8" transform="rotate(3 184.1 276.8)"/><ellipse cx="216.2" cy="283.1" rx="1.3" ry="1.4" fill="#4a6648" opacity="0.8" transform="rotate(29 216.2 283.1)"/><ellipse cx="174.8" cy="262.3" rx="1.2" ry="0.7" fill="#5a7656" opacity="0.8" transform="rotate(34 174.8 262.3)"/><ellipse cx="175.0" cy="266.0" rx="2.3" ry="0.8" fill="#5a7656" opacity="0.8" transform="rotate(-26 175.0 266.0)"/><ellipse cx="139.3" cy="296.2" rx="2.3" ry="1.2" fill="#142014" opacity="0.8" transform="rotate(33 139.3 296.2)"/><ellipse cx="160.3" cy="287.9" rx="2.3" ry="0.6" fill="#5a7656" opacity="0.8" transform="rotate(-28 160.3 287.9)"/><ellipse cx="159.6" cy="254.3" rx="2.0" ry="1.1" fill="#182018" opacity="0.8" transform="rotate(-16 159.6 254.3)"/><ellipse cx="149.3" cy="248.9" rx="1.6" ry="0.6" fill="#3a5538" opacity="0.8" transform="rotate(11 149.3 248.9)"/><ellipse cx="199.2" cy="238.8" rx="2.0" ry="0.9" fill="#27382a" opacity="0.8" transform="rotate(2 199.2 238.8)"/><ellipse cx="185.1" cy="265.7" rx="2.2" ry="0.8" fill="#4a6648" opacity="0.8" transform="rotate(4 185.1 265.7)"/><ellipse cx="179.8" cy="232.2" rx="1.1" ry="1.3" fill="#2e452e" opacity="0.8" transform="rotate(-18 179.8 232.2)"/><ellipse cx="147.3" cy="247.1" rx="1.6" ry="1.1" fill="#5a7656" opacity="0.8" transform="rotate(-1 147.3 247.1)"/><ellipse cx="141.8" cy="258.5" rx="2.2" ry="1.2" fill="#3a5538" opacity="0.8" transform="rotate(-10 141.8 258.5)"/><ellipse cx="194.9" cy="255.1" rx="0.9" ry="1.3" fill="#2e452e" opacity="0.8" transform="rotate(38 194.9 255.1)"/><ellipse cx="187.8" cy="286.4" rx="1.4" ry="0.9" fill="#36503a" opacity="0.8" transform="rotate(6 187.8 286.4)"/><ellipse cx="221.7" cy="289.3" rx="1.8" ry="0.6" fill="#4a6648" opacity="0.8" transform="rotate(-24 221.7 289.3)"/><ellipse cx="129.2" cy="260.1" rx="1.5" ry="1.0" fill="#3a5538" opacity="0.8" transform="rotate(35 129.2 260.1)"/><ellipse cx="132.1" cy="268.6" rx="2.5" ry="1.3" fill="#2e452e" opacity="0.8" transform="rotate(-5 132.1 268.6)"/><ellipse cx="139.2" cy="232.7" rx="1.5" ry="0.6" fill="#142014" opacity="0.8" transform="rotate(20 139.2 232.7)"/><ellipse cx="190.0" cy="281.3" rx="1.5" ry="0.5" fill="#2e452e" opacity="0.8" transform="rotate(14 190.0 281.3)"/><ellipse cx="200.2" cy="283.4" rx="1.0" ry="0.7" fill="#5a7656" opacity="0.8" transform="rotate(-34 200.2 283.4)"/><ellipse cx="131.5" cy="234.4" rx="2.2" ry="1.1" fill="#2e452e" opacity="0.8" transform="rotate(-36 131.5 234.4)"/><ellipse cx="194.2" cy="262.8" rx="0.9" ry="1.3" fill="#4a6648" opacity="0.8" transform="rotate(-7 194.2 262.8)"/><ellipse cx="223.8" cy="286.8" rx="2.4" ry="0.7" fill="#27382a" opacity="0.8" transform="rotate(-13 223.8 286.8)"/><ellipse cx="140.2" cy="266.8" rx="1.7" ry="0.6" fill="#2e452e" opacity="0.8" transform="rotate(-9 140.2 266.8)"/><ellipse cx="178.2" cy="264.8" rx="1.6" ry="0.6" fill="#182018" opacity="0.8" transform="rotate(-16 178.2 264.8)"/><ellipse cx="203.6" cy="289.7" rx="1.3" ry="0.7" fill="#36503a" opacity="0.8" transform="rotate(-36 203.6 289.7)"/><ellipse cx="217.0" cy="275.3" rx="2.1" ry="0.7" fill="#5a7656" opacity="0.8" transform="rotate(34 217.0 275.3)"/><ellipse cx="141.6" cy="294.2" rx="1.8" ry="0.6" fill="#5a7656" opacity="0.8" transform="rotate(-15 141.6 294.2)"/><ellipse cx="163.1" cy="268.7" rx="1.4" ry="0.8" fill="#3a5538" opacity="0.8" transform="rotate(24 163.1 268.7)"/><ellipse cx="141.7" cy="243.1" rx="2.6" ry="1.2" fill="#182018" opacity="0.8" transform="rotate(-8 141.7 243.1)"/><ellipse cx="142.0" cy="242.6" rx="1.1" ry="1.4" fill="#142014" opacity="0.8" transform="rotate(-30 142.0 242.6)"/><ellipse cx="209.9" cy="233.2" rx="1.9" ry="0.7" fill="#27382a" opacity="0.8" transform="rotate(34 209.9 233.2)"/><ellipse cx="172.3" cy="276.5" rx="2.0" ry="0.8" fill="#27382a" opacity="0.8" transform="rotate(-23 172.3 276.5)"/><ellipse cx="136.0" cy="294.1" rx="1.2" ry="0.6" fill="#27382a" opacity="0.8" transform="rotate(-32 136.0 294.1)"/><ellipse cx="218.9" cy="257.9" rx="2.0" ry="0.8" fill="#3a5538" opacity="0.8" transform="rotate(32 218.9 257.9)"/><ellipse cx="136.9" cy="232.1" rx="2.1" ry="0.5" fill="#36503a" opacity="0.8" transform="rotate(27 136.9 232.1)"/><ellipse cx="199.1" cy="291.0" rx="2.2" ry="1.3" fill="#182018" opacity="0.8" transform="rotate(18 199.1 291.0)"/><ellipse cx="214.9" cy="251.4" rx="2.3" ry="0.7" fill="#182018" opacity="0.8" transform="rotate(24 214.9 251.4)"/><ellipse cx="161.3" cy="230.4" rx="1.5" ry="1.2" fill="#4a6648" opacity="0.8" transform="rotate(-22 161.3 230.4)"/><ellipse cx="141.4" cy="238.7" rx="1.1" ry="0.9" fill="#3a5538" opacity="0.8" transform="rotate(-8 141.4 238.7)"/><ellipse cx="206.3" cy="236.8" rx="2.5" ry="1.6" fill="#2e452e" opacity="0.8" transform="rotate(35 206.3 236.8)"/><ellipse cx="150.9" cy="253.1" rx="2.2" ry="1.0" fill="#3a5538" opacity="0.8" transform="rotate(34 150.9 253.1)"/><ellipse cx="141.7" cy="248.2" rx="1.3" ry="1.1" fill="#3a5538" opacity="0.8" transform="rotate(20 141.7 248.2)"/><ellipse cx="135.4" cy="247.5" rx="2.4" ry="1.4" fill="#4a6648" opacity="0.8" transform="rotate(-22 135.4 247.5)"/><ellipse cx="124.3" cy="271.1" rx="2.5" ry="0.9" fill="#182018" opacity="0.8" transform="rotate(36 124.3 271.1)"/><ellipse cx="126.2" cy="252.0" rx="1.6" ry="0.8" fill="#182018" opacity="0.8" transform="rotate(19 126.2 252.0)"/><ellipse cx="132.3" cy="287.9" rx="2.3" ry="1.3" fill="#27382a" opacity="0.8" transform="rotate(-4 132.3 287.9)"/><ellipse cx="202.2" cy="270.9" rx="1.6" ry="0.5" fill="#3a5538" opacity="0.8" transform="rotate(1 202.2 270.9)"/><ellipse cx="163.5" cy="278.1" rx="1.5" ry="1.4" fill="#3a5538" opacity="0.8" transform="rotate(-34 163.5 278.1)"/><ellipse cx="158.0" cy="275.7" rx="1.0" ry="0.5" fill="#27382a" opacity="0.8" transform="rotate(12 158.0 275.7)"/><ellipse cx="152.2" cy="246.8" rx="1.0" ry="0.8" fill="#142014" opacity="0.8" transform="rotate(-28 152.2 246.8)"/><ellipse cx="176.2" cy="236.5" rx="1.6" ry="0.7" fill="#182018" opacity="0.8" transform="rotate(3 176.2 236.5)"/><ellipse cx="158.8" cy="242.2" rx="1.5" ry="0.7" fill="#182018" opacity="0.8" transform="rotate(-30 158.8 242.2)"/><ellipse cx="195.8" cy="266.5" rx="1.2" ry="0.6" fill="#4a6648" opacity="0.8" transform="rotate(-32 195.8 266.5)"/><ellipse cx="171.3" cy="285.0" rx="1.8" ry="1.3" fill="#2e452e" opacity="0.8" transform="rotate(-22 171.3 285.0)"/><ellipse cx="136.8" cy="247.0" rx="0.9" ry="0.9" fill="#27382a" opacity="0.8" transform="rotate(1 136.8 247.0)"/><ellipse cx="179.7" cy="236.7" rx="2.0" ry="0.7" fill="#182018" opacity="0.8" transform="rotate(-21 179.7 236.7)"/><ellipse cx="205.6" cy="233.3" rx="1.4" ry="0.6" fill="#2e452e" opacity="0.8" transform="rotate(-23 205.6 233.3)"/><ellipse cx="204.9" cy="252.6" rx="2.3" ry="1.0" fill="#27382a" opacity="0.8" transform="rotate(34 204.9 252.6)"/><ellipse cx="153.7" cy="295.1" rx="2.2" ry="0.5" fill="#2e452e" opacity="0.8" transform="rotate(23 153.7 295.1)"/><ellipse cx="196.6" cy="276.9" rx="1.1" ry="0.9" fill="#27382a" opacity="0.8" transform="rotate(-29 196.6 276.9)"/><ellipse cx="216.3" cy="277.4" rx="2.1" ry="0.6" fill="#4a6648" opacity="0.8" transform="rotate(-40 216.3 277.4)"/><ellipse cx="124.9" cy="265.8" rx="1.4" ry="0.6" fill="#142014" opacity="0.8" transform="rotate(8 124.9 265.8)"/><ellipse cx="141.5" cy="273.0" rx="2.3" ry="1.4" fill="#3a5538" opacity="0.8" transform="rotate(-33 141.5 273.0)"/><ellipse cx="194.9" cy="234.5" rx="2.2" ry="1.1" fill="#4e6e4c" opacity="0.7" transform="rotate(-0 194.9 234.5)"/><ellipse cx="147.7" cy="260.6" rx="1.1" ry="0.9" fill="#4e6e4c" opacity="0.7" transform="rotate(7 147.7 260.6)"/><ellipse cx="165.8" cy="272.6" rx="2.0" ry="0.8" fill="#4e6e4c" opacity="0.7" transform="rotate(3 165.8 272.6)"/><ellipse cx="218.4" cy="266.7" rx="1.9" ry="0.8" fill="#5a7a58" opacity="0.7" transform="rotate(-21 218.4 266.7)"/><ellipse cx="181.5" cy="263.1" rx="1.7" ry="1.3" fill="#4e6e4c" opacity="0.7" transform="rotate(-36 181.5 263.1)"/><ellipse cx="189.4" cy="253.1" rx="1.9" ry="0.8" fill="#6a8a66" opacity="0.7" transform="rotate(-8 189.4 253.1)"/><ellipse cx="156.0" cy="261.5" rx="2.0" ry="0.6" fill="#6a8a66" opacity="0.7" transform="rotate(8 156.0 261.5)"/><ellipse cx="219.0" cy="264.9" rx="1.5" ry="0.8" fill="#5a7a58" opacity="0.7" transform="rotate(-13 219.0 264.9)"/><ellipse cx="143.0" cy="261.8" rx="1.7" ry="0.8" fill="#5a7a58" opacity="0.7" transform="rotate(39 143.0 261.8)"/><ellipse cx="140.3" cy="263.2" rx="1.6" ry="0.8" fill="#5a7a58" opacity="0.7" transform="rotate(15 140.3 263.2)"/><ellipse cx="125.3" cy="257.6" rx="1.3" ry="1.3" fill="#6a8a66" opacity="0.7" transform="rotate(-27 125.3 257.6)"/><ellipse cx="219.9" cy="240.7" rx="2.1" ry="1.2" fill="#4e6e4c" opacity="0.7" transform="rotate(-25 219.9 240.7)"/><ellipse cx="206.6" cy="249.1" rx="1.0" ry="0.7" fill="#5a7a58" opacity="0.7" transform="rotate(-4 206.6 249.1)"/><ellipse cx="204.4" cy="242.1" rx="1.1" ry="1.0" fill="#4e6e4c" opacity="0.7" transform="rotate(13 204.4 242.1)"/><ellipse cx="134.9" cy="259.3" rx="1.5" ry="1.0" fill="#6a8a66" opacity="0.7" transform="rotate(-4 134.9 259.3)"/><ellipse cx="219.7" cy="254.4" rx="1.8" ry="0.9" fill="#4e6e4c" opacity="0.7" transform="rotate(25 219.7 254.4)"/><ellipse cx="127.1" cy="265.3" rx="1.8" ry="0.6" fill="#4e6e4c" opacity="0.7" transform="rotate(-30 127.1 265.3)"/><ellipse cx="159.8" cy="248.5" rx="1.2" ry="1.0" fill="#6a8a66" opacity="0.7" transform="rotate(-37 159.8 248.5)"/><ellipse cx="154.5" cy="266.1" rx="2.1" ry="0.7" fill="#4e6e4c" opacity="0.7" transform="rotate(33 154.5 266.1)"/><ellipse cx="173.3" cy="257.3" rx="1.7" ry="1.3" fill="#4e6e4c" opacity="0.7" transform="rotate(21 173.3 257.3)"/><ellipse cx="151.0" cy="244.8" rx="2.2" ry="1.1" fill="#4e6e4c" opacity="0.7" transform="rotate(11 151.0 244.8)"/><ellipse cx="171.8" cy="262.0" rx="2.1" ry="0.8" fill="#4e6e4c" opacity="0.7" transform="rotate(-0 171.8 262.0)"/><ellipse cx="126.0" cy="263.7" rx="1.2" ry="1.2" fill="#5a7a58" opacity="0.7" transform="rotate(-27 126.0 263.7)"/><ellipse cx="197.0" cy="240.5" rx="1.1" ry="0.8" fill="#6a8a66" opacity="0.7" transform="rotate(22 197.0 240.5)"/><ellipse cx="158.1" cy="259.8" rx="2.1" ry="0.9" fill="#4e6e4c" opacity="0.7" transform="rotate(-14 158.1 259.8)"/><ellipse cx="166.1" cy="238.4" rx="1.5" ry="0.9" fill="#6a8a66" opacity="0.7" transform="rotate(-19 166.1 238.4)"/><ellipse cx="142.0" cy="264.3" rx="2.0" ry="1.0" fill="#6a8a66" opacity="0.7" transform="rotate(-36 142.0 264.3)"/><ellipse cx="149.7" cy="254.5" rx="2.0" ry="0.9" fill="#5a7a58" opacity="0.7" transform="rotate(-18 149.7 254.5)"/><ellipse cx="158.4" cy="266.2" rx="1.3" ry="1.0" fill="#6a8a66" opacity="0.7" transform="rotate(-4 158.4 266.2)"/><ellipse cx="122.2" cy="255.9" rx="1.4" ry="1.0" fill="#6a8a66" opacity="0.7" transform="rotate(-19 122.2 255.9)"/><ellipse cx="146.1" cy="249.9" rx="1.9" ry="1.1" fill="#6a8a66" opacity="0.7" transform="rotate(27 146.1 249.9)"/><ellipse cx="194.3" cy="257.1" rx="1.2" ry="1.1" fill="#4e6e4c" opacity="0.7" transform="rotate(15 194.3 257.1)"/><ellipse cx="200.8" cy="265.6" rx="1.9" ry="0.8" fill="#6a8a66" opacity="0.7" transform="rotate(-0 200.8 265.6)"/><ellipse cx="155.7" cy="270.8" rx="1.2" ry="1.1" fill="#6a8a66" opacity="0.7" transform="rotate(14 155.7 270.8)"/><ellipse cx="213.9" cy="241.5" rx="1.1" ry="0.9" fill="#4e6e4c" opacity="0.7" transform="rotate(-40 213.9 241.5)"/><ellipse cx="180.1" cy="245.3" rx="1.3" ry="1.1" fill="#4e6e4c" opacity="0.7" transform="rotate(23 180.1 245.3)"/><ellipse cx="207.4" cy="254.9" rx="1.9" ry="1.0" fill="#6a8a66" opacity="0.7" transform="rotate(32 207.4 254.9)"/><ellipse cx="197.5" cy="269.2" rx="2.1" ry="0.7" fill="#4e6e4c" opacity="0.7" transform="rotate(30 197.5 269.2)"/><ellipse cx="160.6" cy="270.8" rx="1.9" ry="1.0" fill="#4e6e4c" opacity="0.7" transform="rotate(-18 160.6 270.8)"/><ellipse cx="142.9" cy="231.8" rx="1.8" ry="1.3" fill="#5a7a58" opacity="0.7" transform="rotate(-11 142.9 231.8)"/><ellipse cx="193.0" cy="261.5" rx="1.4" ry="0.6" fill="#4e6e4c" opacity="0.7" transform="rotate(21 193.0 261.5)"/><ellipse cx="167.0" cy="267.1" rx="1.7" ry="1.0" fill="#5a7a58" opacity="0.7" transform="rotate(-37 167.0 267.1)"/><ellipse cx="206.2" cy="237.0" rx="1.8" ry="0.8" fill="#6a8a66" opacity="0.7" transform="rotate(2 206.2 237.0)"/><ellipse cx="144.7" cy="260.8" rx="1.3" ry="1.3" fill="#4e6e4c" opacity="0.7" transform="rotate(3 144.7 260.8)"/><ellipse cx="124.1" cy="253.7" rx="1.6" ry="0.9" fill="#5a7a58" opacity="0.7" transform="rotate(36 124.1 253.7)"/><ellipse cx="149.2" cy="232.5" rx="1.5" ry="1.3" fill="#6a8a66" opacity="0.7" transform="rotate(-22 149.2 232.5)"/><ellipse cx="210.4" cy="273.1" rx="2.2" ry="0.8" fill="#6a8a66" opacity="0.7" transform="rotate(-34 210.4 273.1)"/><ellipse cx="170.2" cy="246.2" rx="1.8" ry="1.1" fill="#6a8a66" opacity="0.7" transform="rotate(-25 170.2 246.2)"/><ellipse cx="184.4" cy="234.6" rx="1.9" ry="0.7" fill="#4e6e4c" opacity="0.7" transform="rotate(-39 184.4 234.6)"/><ellipse cx="201.1" cy="271.6" rx="1.9" ry="0.7" fill="#4e6e4c" opacity="0.7" transform="rotate(27 201.1 271.6)"/><ellipse cx="151.5" cy="253.6" rx="1.9" ry="1.0" fill="#5a7a58" opacity="0.7" transform="rotate(-35 151.5 253.6)"/><ellipse cx="142.2" cy="262.5" rx="1.9" ry="1.0" fill="#6a8a66" opacity="0.7" transform="rotate(5 142.2 262.5)"/><ellipse cx="185.6" cy="240.6" rx="1.4" ry="0.7" fill="#4e6e4c" opacity="0.7" transform="rotate(-26 185.6 240.6)"/><ellipse cx="167.9" cy="232.3" rx="1.2" ry="1.1" fill="#6a8a66" opacity="0.7" transform="rotate(-1 167.9 232.3)"/><ellipse cx="129.5" cy="240.7" rx="2.1" ry="1.3" fill="#5a7a58" opacity="0.7" transform="rotate(2 129.5 240.7)"/><ellipse cx="146.9" cy="242.2" rx="1.8" ry="1.3" fill="#5a7a58" opacity="0.7" transform="rotate(17 146.9 242.2)"/><ellipse cx="218.4" cy="263.9" rx="1.9" ry="0.9" fill="#6a8a66" opacity="0.7" transform="rotate(-29 218.4 263.9)"/><path d="M164 278 L169 283 L222 281.5" stroke="#5a3e34" stroke-width="1.3" fill="none"/><path d="M169 277 L169 299" stroke="#5a3e34" stroke-width="1.8" fill="none"/><path d="M185 282.5 L204 297" stroke="#5e4e46" stroke-width="1" fill="none"/><path d="M208 280 L220 275" stroke="#5a3e34" stroke-width="1" fill="none"/><path d="M161.5 249.5 Q158 255 159.5 262 Q161.5 268 166 270 L170 271 Q173 269 173 266 Q170 264 168 259 Q165.5 252 161.5 249.5 Z" fill="#f2f2f2"/><path d="M171 268 Q174 262 176 257 L178 252" stroke="#eaeaea" stroke-width="1.4" fill="none" stroke-linecap="round"/><path d="M178 253 Q182 256 184 259 Q185.5 257 188 256 Q194 253 199.5 251.5 Q198 258 193 263 Q191 269 187 270.5 Q183.5 269 183 265 Q181 258 178 253 Z" fill="#eeeeee"/><path d="M168 270 L167 277" stroke="#b8b8b8" stroke-width="0.8"/></g></g><rect x="122" y="229" width="101" height="70" rx="9" fill="none" stroke="#fff" stroke-width="2"/>
<clipPath id="c4"><rect x="252" y="229" width="102" height="70" rx="9"/></clipPath><g clip-path="url(#c4)"><g filter="url(#soft)"><rect x="251" y="228" width="104" height="72" fill="url(#sky4)"/><path d="M262 266 L280 262 L296 264 L310 262 L322 265 L334 262 L346 263 L355 261 L355 282 L251 282 Z" fill="#4a6228"/><ellipse cx="275.1" cy="247.4" rx="1.5" ry="1.7" fill="#7a9040" opacity="0.8"/><ellipse cx="279.2" cy="273.8" rx="1.0" ry="2.3" fill="#9aa858" opacity="0.8"/><ellipse cx="276.2" cy="276.3" rx="1.0" ry="1.7" fill="#6a8a30" opacity="0.8"/><ellipse cx="276.7" cy="263.0" rx="1.1" ry="1.5" fill="#3a5020" opacity="0.8"/><ellipse cx="274.1" cy="259.6" rx="1.6" ry="1.4" fill="#9aa858" opacity="0.8"/><ellipse cx="276.4" cy="261.5" rx="1.9" ry="2.2" fill="#6a8a30" opacity="0.8"/><ellipse cx="276.5" cy="272.1" rx="1.7" ry="2.4" fill="#9aa858" opacity="0.8"/><ellipse cx="276.8" cy="260.2" rx="1.7" ry="1.5" fill="#6a8a30" opacity="0.8"/><ellipse cx="275.8" cy="269.8" rx="1.1" ry="2.5" fill="#6a8a30" opacity="0.8"/><ellipse cx="275.1" cy="249.1" rx="2.0" ry="1.5" fill="#6a8a30" opacity="0.8"/><ellipse cx="277.4" cy="265.7" rx="1.1" ry="2.2" fill="#7a9040" opacity="0.8"/><ellipse cx="277.7" cy="255.0" rx="1.1" ry="1.2" fill="#6a8a30" opacity="0.8"/><ellipse cx="275.2" cy="248.6" rx="1.9" ry="1.5" fill="#7a9040" opacity="0.8"/><ellipse cx="277.0" cy="277.7" rx="1.9" ry="1.6" fill="#9aa858" opacity="0.8"/><ellipse cx="275.9" cy="262.4" rx="2.0" ry="2.3" fill="#7a9040" opacity="0.8"/><ellipse cx="277.2" cy="253.2" rx="1.1" ry="1.9" fill="#7a9040" opacity="0.8"/><ellipse cx="278.4" cy="263.8" rx="1.3" ry="2.4" fill="#7a9040" opacity="0.8"/><ellipse cx="276.4" cy="275.1" rx="1.8" ry="1.9" fill="#7a9040" opacity="0.8"/><ellipse cx="277.0" cy="270.3" rx="1.6" ry="1.8" fill="#7a9040" opacity="0.8"/><ellipse cx="274.4" cy="265.5" rx="1.1" ry="1.9" fill="#6a8a30" opacity="0.8"/><ellipse cx="276.8" cy="253.9" rx="1.7" ry="2.1" fill="#7a9040" opacity="0.8"/><ellipse cx="273.6" cy="267.2" rx="1.5" ry="2.1" fill="#7a9040" opacity="0.8"/><ellipse cx="278.2" cy="271.1" rx="1.8" ry="1.3" fill="#3a5020" opacity="0.8"/><ellipse cx="275.2" cy="256.0" rx="1.2" ry="1.9" fill="#3a5020" opacity="0.8"/><ellipse cx="272.8" cy="272.4" rx="1.0" ry="1.4" fill="#9aa858" opacity="0.8"/><ellipse cx="275.8" cy="264.2" rx="1.3" ry="2.1" fill="#9aa858" opacity="0.8"/><ellipse cx="277.7" cy="277.2" rx="1.8" ry="2.5" fill="#7a9040" opacity="0.8"/><ellipse cx="273.1" cy="270.7" rx="1.6" ry="2.4" fill="#6a8a30" opacity="0.8"/><ellipse cx="280.1" cy="273.0" rx="1.6" ry="1.6" fill="#3a5020" opacity="0.8"/><ellipse cx="281.5" cy="269.7" rx="1.2" ry="1.7" fill="#3a5020" opacity="0.8"/><ellipse cx="281.4" cy="258.4" rx="1.1" ry="2.5" fill="#6a8a30" opacity="0.8"/><ellipse cx="285.2" cy="271.7" rx="2.0" ry="2.3" fill="#3a5020" opacity="0.8"/><ellipse cx="279.8" cy="273.1" rx="1.5" ry="1.7" fill="#3a5020" opacity="0.8"/><ellipse cx="281.8" cy="277.2" rx="1.7" ry="2.3" fill="#3a5020" opacity="0.8"/><ellipse cx="283.2" cy="272.8" rx="1.0" ry="2.4" fill="#3a5020" opacity="0.8"/><ellipse cx="282.2" cy="259.9" rx="1.0" ry="1.4" fill="#6a8a30" opacity="0.8"/><ellipse cx="283.1" cy="250.6" rx="1.6" ry="2.0" fill="#6a8a30" opacity="0.8"/><ellipse cx="283.1" cy="277.6" rx="1.8" ry="2.1" fill="#9aa858" opacity="0.8"/><ellipse cx="284.0" cy="252.6" rx="1.9" ry="2.2" fill="#6a8a30" opacity="0.8"/><ellipse cx="286.0" cy="270.1" rx="1.1" ry="1.8" fill="#9aa858" opacity="0.8"/><ellipse cx="284.5" cy="269.2" rx="1.7" ry="1.5" fill="#3a5020" opacity="0.8"/><ellipse cx="280.0" cy="278.6" rx="1.9" ry="2.1" fill="#9aa858" opacity="0.8"/><ellipse cx="283.6" cy="268.0" rx="1.7" ry="1.6" fill="#8a9a48" opacity="0.8"/><ellipse cx="283.2" cy="270.5" rx="1.0" ry="1.3" fill="#8a9a48" opacity="0.8"/><ellipse cx="283.9" cy="270.3" rx="1.5" ry="2.4" fill="#6a8a30" opacity="0.8"/><ellipse cx="281.5" cy="251.2" rx="1.2" ry="1.8" fill="#9aa858" opacity="0.8"/><ellipse cx="284.1" cy="260.6" rx="1.0" ry="2.5" fill="#3a5020" opacity="0.8"/><ellipse cx="281.7" cy="256.3" rx="1.3" ry="2.3" fill="#8a9a48" opacity="0.8"/><ellipse cx="285.1" cy="274.9" rx="1.6" ry="1.6" fill="#8a9a48" opacity="0.8"/><ellipse cx="280.1" cy="274.6" rx="1.0" ry="2.3" fill="#3a5020" opacity="0.8"/><ellipse cx="281.1" cy="268.1" rx="1.1" ry="1.3" fill="#8a9a48" opacity="0.8"/><ellipse cx="283.7" cy="258.4" rx="1.5" ry="1.5" fill="#8a9a48" opacity="0.8"/><ellipse cx="282.0" cy="255.4" rx="1.9" ry="2.5" fill="#3a5020" opacity="0.8"/><ellipse cx="284.0" cy="257.7" rx="1.1" ry="2.3" fill="#3a5020" opacity="0.8"/><ellipse cx="281.4" cy="258.0" rx="1.6" ry="2.4" fill="#9aa858" opacity="0.8"/><ellipse cx="282.5" cy="255.0" rx="1.7" ry="1.5" fill="#9aa858" opacity="0.8"/><ellipse cx="284.8" cy="276.0" rx="1.8" ry="1.5" fill="#6a8a30" opacity="0.8"/><ellipse cx="287.9" cy="256.4" rx="1.0" ry="1.7" fill="#3a5020" opacity="0.8"/><ellipse cx="288.1" cy="255.5" rx="1.4" ry="1.4" fill="#6a8a30" opacity="0.8"/><ellipse cx="290.0" cy="265.8" rx="1.3" ry="1.9" fill="#9aa858" opacity="0.8"/><ellipse cx="289.5" cy="277.1" rx="1.0" ry="1.5" fill="#3a5020" opacity="0.8"/><ellipse cx="289.9" cy="259.6" rx="1.9" ry="2.0" fill="#6a8238" opacity="0.8"/><ellipse cx="289.9" cy="264.3" rx="1.1" ry="2.1" fill="#6a8a30" opacity="0.8"/><ellipse cx="291.6" cy="251.5" rx="1.5" ry="1.5" fill="#9aa858" opacity="0.8"/><ellipse cx="289.0" cy="264.3" rx="1.0" ry="1.9" fill="#6a8a30" opacity="0.8"/><ellipse cx="289.7" cy="277.6" rx="1.7" ry="1.3" fill="#6a8a30" opacity="0.8"/><ellipse cx="287.7" cy="268.2" rx="1.2" ry="2.3" fill="#6a8238" opacity="0.8"/><ellipse cx="291.7" cy="251.8" rx="1.4" ry="1.5" fill="#6a8238" opacity="0.8"/><ellipse cx="291.8" cy="268.1" rx="1.9" ry="2.1" fill="#6a8238" opacity="0.8"/><ellipse cx="288.6" cy="265.2" rx="1.4" ry="2.0" fill="#3a5020" opacity="0.8"/><ellipse cx="291.1" cy="252.6" rx="1.9" ry="2.2" fill="#3a5020" opacity="0.8"/><ellipse cx="290.9" cy="269.0" rx="1.7" ry="1.2" fill="#6a8a30" opacity="0.8"/><ellipse cx="287.1" cy="276.9" rx="1.1" ry="1.3" fill="#6a8a30" opacity="0.8"/><ellipse cx="292.5" cy="279.2" rx="1.2" ry="1.6" fill="#9aa858" opacity="0.8"/><ellipse cx="289.3" cy="278.1" rx="1.6" ry="1.2" fill="#6a8a30" opacity="0.8"/><ellipse cx="289.9" cy="255.5" rx="1.5" ry="2.5" fill="#6a8a30" opacity="0.8"/><ellipse cx="288.3" cy="269.5" rx="1.9" ry="1.5" fill="#6a8a30" opacity="0.8"/><ellipse cx="292.0" cy="254.5" rx="1.4" ry="1.5" fill="#3a5020" opacity="0.8"/><ellipse cx="289.0" cy="249.0" rx="1.4" ry="2.2" fill="#3a5020" opacity="0.8"/><ellipse cx="288.3" cy="272.6" rx="1.8" ry="1.4" fill="#3a5020" opacity="0.8"/><ellipse cx="289.9" cy="267.4" rx="1.5" ry="1.7" fill="#3a5020" opacity="0.8"/><ellipse cx="288.5" cy="255.7" rx="2.0" ry="1.4" fill="#9aa858" opacity="0.8"/><ellipse cx="287.3" cy="280.0" rx="1.3" ry="2.3" fill="#9aa858" opacity="0.8"/><ellipse cx="288.7" cy="255.5" rx="1.5" ry="1.8" fill="#6a8a30" opacity="0.8"/><ellipse cx="297.3" cy="259.1" rx="1.1" ry="1.4" fill="#3a5020" opacity="0.8"/><ellipse cx="298.4" cy="279.1" rx="1.0" ry="1.8" fill="#8a9848" opacity="0.8"/><ellipse cx="299.6" cy="279.1" rx="1.0" ry="2.3" fill="#9aa858" opacity="0.8"/><ellipse cx="296.5" cy="276.4" rx="1.5" ry="2.4" fill="#8a9848" opacity="0.8"/><ellipse cx="297.0" cy="264.5" rx="1.5" ry="2.2" fill="#3a5020" opacity="0.8"/><ellipse cx="299.8" cy="277.2" rx="1.1" ry="1.3" fill="#3a5020" opacity="0.8"/><ellipse cx="295.5" cy="268.0" rx="1.7" ry="1.6" fill="#9aa858" opacity="0.8"/><ellipse cx="298.9" cy="263.5" rx="1.2" ry="2.4" fill="#8a9848" opacity="0.8"/><ellipse cx="296.9" cy="269.5" rx="1.6" ry="2.3" fill="#8a9848" opacity="0.8"/><ellipse cx="296.3" cy="264.5" rx="1.7" ry="2.5" fill="#9aa858" opacity="0.8"/><ellipse cx="296.2" cy="265.0" rx="2.0" ry="2.6" fill="#8a9848" opacity="0.8"/><ellipse cx="295.1" cy="278.8" rx="1.4" ry="2.5" fill="#9aa858" opacity="0.8"/><ellipse cx="297.8" cy="262.4" rx="1.3" ry="1.9" fill="#3a5020" opacity="0.8"/><ellipse cx="296.1" cy="255.6" rx="1.1" ry="1.6" fill="#8a9848" opacity="0.8"/><ellipse cx="298.8" cy="266.3" rx="1.6" ry="2.1" fill="#6a8a30" opacity="0.8"/><ellipse cx="299.2" cy="268.3" rx="1.5" ry="1.7" fill="#6a8a30" opacity="0.8"/><ellipse cx="298.2" cy="260.8" rx="1.7" ry="2.1" fill="#9aa858" opacity="0.8"/><ellipse cx="295.4" cy="263.0" rx="1.6" ry="1.6" fill="#9aa858" opacity="0.8"/><ellipse cx="298.0" cy="269.8" rx="2.0" ry="1.5" fill="#3a5020" opacity="0.8"/><ellipse cx="295.3" cy="270.2" rx="1.0" ry="1.8" fill="#8a9848" opacity="0.8"/><ellipse cx="295.4" cy="257.6" rx="1.5" ry="2.2" fill="#3a5020" opacity="0.8"/><ellipse cx="297.8" cy="252.8" rx="1.8" ry="1.3" fill="#9aa858" opacity="0.8"/><ellipse cx="296.3" cy="252.1" rx="1.2" ry="2.2" fill="#9aa858" opacity="0.8"/><ellipse cx="296.0" cy="252.5" rx="1.9" ry="2.6" fill="#9aa858" opacity="0.8"/><ellipse cx="301.8" cy="267.8" rx="1.3" ry="1.6" fill="#6a8a30" opacity="0.8"/><ellipse cx="302.8" cy="277.1" rx="1.9" ry="1.6" fill="#3a5020" opacity="0.8"/><ellipse cx="304.4" cy="259.1" rx="1.7" ry="1.6" fill="#3a5020" opacity="0.8"/><ellipse cx="304.0" cy="264.9" rx="1.1" ry="2.5" fill="#5a7a30" opacity="0.8"/><ellipse cx="306.2" cy="274.3" rx="1.4" ry="1.6" fill="#5a7a30" opacity="0.8"/><ellipse cx="305.2" cy="262.3" rx="1.8" ry="1.3" fill="#9aa858" opacity="0.8"/><ellipse cx="304.8" cy="261.4" rx="1.8" ry="2.3" fill="#9aa858" opacity="0.8"/><ellipse cx="305.9" cy="271.3" rx="1.4" ry="1.8" fill="#5a7a30" opacity="0.8"/><ellipse cx="304.3" cy="261.4" rx="1.0" ry="2.1" fill="#9aa858" opacity="0.8"/><ellipse cx="304.0" cy="274.3" rx="1.5" ry="1.7" fill="#5a7a30" opacity="0.8"/><ellipse cx="304.7" cy="257.7" rx="1.1" ry="1.6" fill="#6a8a30" opacity="0.8"/><ellipse cx="306.3" cy="271.1" rx="1.1" ry="1.6" fill="#3a5020" opacity="0.8"/><ellipse cx="302.4" cy="260.0" rx="1.4" ry="1.7" fill="#3a5020" opacity="0.8"/><ellipse cx="304.1" cy="266.1" rx="1.2" ry="2.3" fill="#3a5020" opacity="0.8"/><ellipse cx="302.5" cy="259.1" rx="1.5" ry="1.4" fill="#9aa858" opacity="0.8"/><ellipse cx="302.5" cy="267.6" rx="1.0" ry="1.9" fill="#3a5020" opacity="0.8"/><ellipse cx="303.9" cy="272.8" rx="1.2" ry="1.3" fill="#5a7a30" opacity="0.8"/><ellipse cx="303.6" cy="271.3" rx="1.0" ry="2.3" fill="#9aa858" opacity="0.8"/><ellipse cx="305.8" cy="267.3" rx="1.9" ry="1.8" fill="#3a5020" opacity="0.8"/><ellipse cx="305.5" cy="269.3" rx="1.7" ry="1.6" fill="#5a7a30" opacity="0.8"/><ellipse cx="309.8" cy="261.2" rx="1.6" ry="1.6" fill="#3e5e26" opacity="0.8"/><ellipse cx="313.4" cy="277.0" rx="1.5" ry="1.3" fill="#3e5e26" opacity="0.8"/><ellipse cx="307.9" cy="265.3" rx="1.7" ry="2.3" fill="#6a8a30" opacity="0.8"/><ellipse cx="307.9" cy="269.9" rx="1.7" ry="2.2" fill="#3e5e26" opacity="0.8"/><ellipse cx="311.5" cy="259.7" rx="1.6" ry="1.9" fill="#3e5e26" opacity="0.8"/><ellipse cx="311.6" cy="265.6" rx="1.6" ry="1.8" fill="#9aa858" opacity="0.8"/><ellipse cx="311.1" cy="262.6" rx="1.4" ry="1.7" fill="#3e5e26" opacity="0.8"/><ellipse cx="309.7" cy="277.7" rx="1.5" ry="1.3" fill="#6a8a30" opacity="0.8"/><ellipse cx="312.7" cy="268.9" rx="1.6" ry="1.6" fill="#6a8a30" opacity="0.8"/><ellipse cx="308.4" cy="267.3" rx="1.8" ry="2.2" fill="#6a8a30" opacity="0.8"/><ellipse cx="311.2" cy="261.2" rx="1.3" ry="1.5" fill="#3a5020" opacity="0.8"/><ellipse cx="311.9" cy="269.8" rx="1.7" ry="2.6" fill="#3a5020" opacity="0.8"/><ellipse cx="311.1" cy="265.6" rx="1.8" ry="2.2" fill="#6a8a30" opacity="0.8"/><ellipse cx="308.2" cy="260.2" rx="1.2" ry="1.7" fill="#3a5020" opacity="0.8"/><ellipse cx="312.6" cy="271.7" rx="1.9" ry="1.7" fill="#3a5020" opacity="0.8"/><ellipse cx="308.2" cy="276.2" rx="1.3" ry="1.7" fill="#3a5020" opacity="0.8"/><ellipse cx="308.8" cy="267.3" rx="1.9" ry="1.2" fill="#6a8a30" opacity="0.8"/><ellipse cx="312.0" cy="274.9" rx="1.5" ry="2.5" fill="#3e5e26" opacity="0.8"/><ellipse cx="311.9" cy="279.8" rx="1.7" ry="2.3" fill="#3a5020" opacity="0.8"/><ellipse cx="317.1" cy="271.6" rx="1.4" ry="1.6" fill="#9aa858" opacity="0.8"/><ellipse cx="317.1" cy="272.2" rx="1.8" ry="1.7" fill="#9aa858" opacity="0.8"/><ellipse cx="320.6" cy="277.4" rx="1.1" ry="2.5" fill="#4a6a2a" opacity="0.8"/><ellipse cx="320.3" cy="276.5" rx="2.0" ry="2.5" fill="#6a8a30" opacity="0.8"/><ellipse cx="319.8" cy="276.3" rx="1.9" ry="1.5" fill="#3a5020" opacity="0.8"/><ellipse cx="316.0" cy="269.1" rx="1.0" ry="2.4" fill="#4a6a2a" opacity="0.8"/><ellipse cx="316.3" cy="266.9" rx="1.0" ry="2.2" fill="#9aa858" opacity="0.8"/><ellipse cx="319.0" cy="277.6" rx="1.2" ry="1.9" fill="#6a8a30" opacity="0.8"/><ellipse cx="318.6" cy="268.3" rx="1.9" ry="1.9" fill="#3a5020" opacity="0.8"/><ellipse cx="316.8" cy="275.5" rx="1.9" ry="2.0" fill="#4a6a2a" opacity="0.8"/><ellipse cx="320.8" cy="273.2" rx="1.9" ry="1.3" fill="#6a8a30" opacity="0.8"/><ellipse cx="319.9" cy="270.1" rx="1.6" ry="1.5" fill="#3a5020" opacity="0.8"/><ellipse cx="320.3" cy="272.2" rx="1.6" ry="2.4" fill="#4a6a2a" opacity="0.8"/><ellipse cx="318.4" cy="270.8" rx="0.9" ry="1.4" fill="#4a6a2a" opacity="0.8"/><ellipse cx="317.2" cy="266.1" rx="1.5" ry="2.2" fill="#4a6a2a" opacity="0.8"/><ellipse cx="319.0" cy="266.8" rx="1.8" ry="1.5" fill="#6a8a30" opacity="0.8"/><ellipse cx="324.4" cy="261.5" rx="1.0" ry="1.8" fill="#3a5020" opacity="0.8"/><ellipse cx="323.4" cy="264.6" rx="1.7" ry="1.5" fill="#7a9040" opacity="0.8"/><ellipse cx="322.1" cy="272.7" rx="2.0" ry="2.6" fill="#9aa858" opacity="0.8"/><ellipse cx="325.4" cy="262.0" rx="1.5" ry="2.3" fill="#3a5020" opacity="0.8"/><ellipse cx="322.8" cy="259.2" rx="1.5" ry="2.5" fill="#9aa858" opacity="0.8"/><ellipse cx="326.0" cy="269.2" rx="1.5" ry="1.4" fill="#6a8a30" opacity="0.8"/><ellipse cx="323.6" cy="275.7" rx="1.6" ry="1.6" fill="#3a5020" opacity="0.8"/><ellipse cx="323.0" cy="263.1" rx="1.6" ry="1.3" fill="#7a9040" opacity="0.8"/><ellipse cx="326.3" cy="275.7" rx="1.1" ry="2.3" fill="#3a5020" opacity="0.8"/><ellipse cx="325.1" cy="263.1" rx="1.2" ry="1.4" fill="#9aa858" opacity="0.8"/><ellipse cx="325.4" cy="279.5" rx="1.0" ry="1.8" fill="#9aa858" opacity="0.8"/><ellipse cx="325.2" cy="264.0" rx="1.9" ry="1.3" fill="#7a9040" opacity="0.8"/><ellipse cx="322.2" cy="267.7" rx="1.0" ry="2.3" fill="#6a8a30" opacity="0.8"/><ellipse cx="323.9" cy="261.1" rx="1.6" ry="2.6" fill="#3a5020" opacity="0.8"/><ellipse cx="324.9" cy="267.0" rx="2.0" ry="1.5" fill="#6a8a30" opacity="0.8"/><ellipse cx="323.7" cy="265.8" rx="1.2" ry="2.1" fill="#6a8a30" opacity="0.8"/><ellipse cx="323.1" cy="259.9" rx="1.2" ry="1.9" fill="#9aa858" opacity="0.8"/><ellipse cx="325.4" cy="267.2" rx="1.7" ry="2.0" fill="#6a8a30" opacity="0.8"/><ellipse cx="323.8" cy="278.8" rx="1.1" ry="2.0" fill="#9aa858" opacity="0.8"/><ellipse cx="329.8" cy="270.0" rx="1.3" ry="1.7" fill="#5a7a30" opacity="0.8"/><ellipse cx="330.4" cy="268.1" rx="1.4" ry="1.7" fill="#6a8a30" opacity="0.8"/><ellipse cx="330.8" cy="272.9" rx="1.8" ry="2.0" fill="#5a7a30" opacity="0.8"/><ellipse cx="332.4" cy="277.0" rx="1.3" ry="2.1" fill="#6a8a30" opacity="0.8"/><ellipse cx="331.8" cy="279.0" rx="1.1" ry="2.1" fill="#5a7a30" opacity="0.8"/><ellipse cx="328.8" cy="279.0" rx="1.3" ry="2.4" fill="#3a5020" opacity="0.8"/><ellipse cx="331.9" cy="271.8" rx="1.3" ry="2.5" fill="#6a8a30" opacity="0.8"/><ellipse cx="329.9" cy="273.0" rx="1.0" ry="2.5" fill="#5a7a30" opacity="0.8"/><ellipse cx="332.5" cy="272.3" rx="1.4" ry="1.6" fill="#5a7a30" opacity="0.8"/><ellipse cx="331.1" cy="267.0" rx="1.9" ry="2.1" fill="#6a8a30" opacity="0.8"/><ellipse cx="330.3" cy="262.3" rx="1.6" ry="2.0" fill="#3a5020" opacity="0.8"/><ellipse cx="331.8" cy="260.3" rx="1.0" ry="2.3" fill="#5a7a30" opacity="0.8"/><ellipse cx="330.4" cy="265.5" rx="1.8" ry="1.4" fill="#6a8a30" opacity="0.8"/><ellipse cx="330.2" cy="260.4" rx="1.0" ry="2.3" fill="#9aa858" opacity="0.8"/><ellipse cx="329.9" cy="266.2" rx="1.4" ry="1.4" fill="#5a7a30" opacity="0.8"/><ellipse cx="331.3" cy="278.9" rx="1.9" ry="1.3" fill="#9aa858" opacity="0.8"/><ellipse cx="329.7" cy="268.7" rx="1.7" ry="2.4" fill="#6a8a30" opacity="0.8"/><ellipse cx="331.6" cy="268.4" rx="1.7" ry="1.5" fill="#9aa858" opacity="0.8"/><ellipse cx="334.6" cy="279.6" rx="1.0" ry="1.4" fill="#6a8838" opacity="0.8"/><ellipse cx="338.9" cy="267.9" rx="1.1" ry="1.8" fill="#6a8838" opacity="0.8"/><ellipse cx="338.4" cy="265.3" rx="1.6" ry="2.6" fill="#3a5020" opacity="0.8"/><ellipse cx="339.3" cy="264.2" rx="1.3" ry="1.8" fill="#6a8a30" opacity="0.8"/><ellipse cx="339.9" cy="266.2" rx="2.0" ry="2.2" fill="#9aa858" opacity="0.8"/><ellipse cx="339.5" cy="265.0" rx="1.8" ry="2.1" fill="#6a8838" opacity="0.8"/><ellipse cx="338.6" cy="270.0" rx="1.9" ry="2.3" fill="#6a8838" opacity="0.8"/><ellipse cx="339.9" cy="270.1" rx="1.6" ry="1.7" fill="#6a8a30" opacity="0.8"/><ellipse cx="336.1" cy="271.2" rx="1.0" ry="2.3" fill="#9aa858" opacity="0.8"/><ellipse cx="339.0" cy="270.9" rx="1.1" ry="2.1" fill="#6a8838" opacity="0.8"/><ellipse cx="337.1" cy="277.2" rx="1.7" ry="1.5" fill="#6a8a30" opacity="0.8"/><ellipse cx="337.4" cy="275.1" rx="2.0" ry="2.5" fill="#9aa858" opacity="0.8"/><ellipse cx="337.5" cy="267.7" rx="1.2" ry="2.5" fill="#6a8838" opacity="0.8"/><ellipse cx="339.4" cy="279.8" rx="1.3" ry="2.3" fill="#3a5020" opacity="0.8"/><ellipse cx="336.9" cy="276.4" rx="1.5" ry="2.0" fill="#3a5020" opacity="0.8"/><ellipse cx="341.4" cy="277.5" rx="1.4" ry="2.4" fill="#6a8838" opacity="0.8"/><ellipse cx="342.8" cy="259.6" rx="1.5" ry="2.5" fill="#6a8a30" opacity="0.8"/><ellipse cx="339.3" cy="272.9" rx="1.5" ry="1.4" fill="#6a8a30" opacity="0.8"/><ellipse cx="340.6" cy="262.6" rx="1.9" ry="1.8" fill="#3a5020" opacity="0.8"/><ellipse cx="341.9" cy="258.0" rx="1.3" ry="1.2" fill="#3a5020" opacity="0.8"/><ellipse cx="342.5" cy="261.1" rx="1.2" ry="1.7" fill="#6a8a30" opacity="0.8"/><ellipse cx="343.1" cy="274.5" rx="1.6" ry="1.6" fill="#3a5020" opacity="0.8"/><ellipse cx="343.9" cy="265.6" rx="1.4" ry="1.4" fill="#9aa858" opacity="0.8"/><ellipse cx="340.8" cy="275.5" rx="1.6" ry="2.4" fill="#9aa858" opacity="0.8"/><ellipse cx="343.4" cy="264.4" rx="1.8" ry="1.6" fill="#4a6a28" opacity="0.8"/><ellipse cx="339.9" cy="266.7" rx="1.0" ry="2.3" fill="#4a6a28" opacity="0.8"/><ellipse cx="342.3" cy="261.2" rx="1.9" ry="1.3" fill="#3a5020" opacity="0.8"/><ellipse cx="343.7" cy="264.2" rx="1.1" ry="1.4" fill="#4a6a28" opacity="0.8"/><ellipse cx="343.7" cy="271.5" rx="1.2" ry="1.4" fill="#9aa858" opacity="0.8"/><ellipse cx="343.3" cy="267.4" rx="1.2" ry="2.5" fill="#9aa858" opacity="0.8"/><ellipse cx="343.6" cy="259.9" rx="1.2" ry="2.6" fill="#4a6a28" opacity="0.8"/><ellipse cx="342.2" cy="271.1" rx="1.8" ry="1.8" fill="#4a6a28" opacity="0.8"/><ellipse cx="341.9" cy="266.0" rx="1.2" ry="1.3" fill="#6a8a30" opacity="0.8"/><ellipse cx="341.9" cy="261.6" rx="1.8" ry="2.5" fill="#3a5020" opacity="0.8"/><ellipse cx="342.6" cy="259.9" rx="1.5" ry="1.8" fill="#9aa858" opacity="0.8"/><ellipse cx="344.5" cy="278.0" rx="1.4" ry="2.5" fill="#3a5020" opacity="0.8"/><ellipse cx="342.0" cy="258.4" rx="2.0" ry="1.7" fill="#3a5020" opacity="0.8"/><ellipse cx="348.2" cy="277.6" rx="2.0" ry="2.6" fill="#9aa858" opacity="0.8"/><ellipse cx="348.0" cy="269.5" rx="1.3" ry="2.0" fill="#9aa858" opacity="0.8"/><ellipse cx="347.2" cy="265.6" rx="1.1" ry="1.4" fill="#3a5020" opacity="0.8"/><ellipse cx="348.4" cy="268.6" rx="1.8" ry="2.5" fill="#3a5020" opacity="0.8"/><ellipse cx="350.9" cy="269.1" rx="1.1" ry="2.5" fill="#9aa858" opacity="0.8"/><ellipse cx="349.4" cy="266.6" rx="1.2" ry="2.6" fill="#9aa858" opacity="0.8"/><ellipse cx="349.5" cy="273.9" rx="1.4" ry="1.5" fill="#7a9040" opacity="0.8"/><ellipse cx="349.0" cy="263.3" rx="1.0" ry="2.4" fill="#7a9040" opacity="0.8"/><ellipse cx="351.2" cy="273.4" rx="2.0" ry="2.1" fill="#7a9040" opacity="0.8"/><ellipse cx="350.7" cy="264.6" rx="1.0" ry="1.6" fill="#7a9040" opacity="0.8"/><ellipse cx="348.3" cy="269.8" rx="1.7" ry="1.9" fill="#9aa858" opacity="0.8"/><ellipse cx="348.2" cy="259.3" rx="1.1" ry="2.4" fill="#7a9040" opacity="0.8"/><ellipse cx="347.7" cy="263.4" rx="1.5" ry="2.2" fill="#3a5020" opacity="0.8"/><ellipse cx="348.4" cy="273.2" rx="2.0" ry="1.2" fill="#6a8a30" opacity="0.8"/><ellipse cx="349.7" cy="261.3" rx="1.2" ry="1.4" fill="#3a5020" opacity="0.8"/><ellipse cx="346.1" cy="277.3" rx="0.9" ry="1.3" fill="#6a8a30" opacity="0.8"/><ellipse cx="349.8" cy="272.1" rx="1.1" ry="2.2" fill="#9aa858" opacity="0.8"/><ellipse cx="350.6" cy="266.5" rx="1.2" ry="1.4" fill="#9aa858" opacity="0.8"/><ellipse cx="347.8" cy="262.2" rx="1.8" ry="1.4" fill="#3a5020" opacity="0.8"/><ellipse cx="353.3" cy="268.1" rx="1.5" ry="1.8" fill="#6a8a38" opacity="0.8"/><ellipse cx="351.8" cy="273.5" rx="1.1" ry="2.5" fill="#6a8a38" opacity="0.8"/><ellipse cx="354.0" cy="261.8" rx="1.2" ry="1.3" fill="#6a8a30" opacity="0.8"/><ellipse cx="352.7" cy="270.1" rx="1.4" ry="1.3" fill="#6a8a38" opacity="0.8"/><ellipse cx="353.0" cy="266.9" rx="1.9" ry="2.0" fill="#9aa858" opacity="0.8"/><ellipse cx="352.3" cy="260.8" rx="1.8" ry="2.3" fill="#3a5020" opacity="0.8"/><ellipse cx="352.7" cy="271.6" rx="1.2" ry="1.9" fill="#6a8a30" opacity="0.8"/><ellipse cx="352.0" cy="261.9" rx="1.2" ry="1.7" fill="#6a8a38" opacity="0.8"/><ellipse cx="352.7" cy="272.9" rx="1.1" ry="1.3" fill="#6a8a38" opacity="0.8"/><ellipse cx="354.3" cy="279.8" rx="1.7" ry="2.3" fill="#6a8a38" opacity="0.8"/><ellipse cx="351.6" cy="262.8" rx="1.0" ry="1.9" fill="#9aa858" opacity="0.8"/><ellipse cx="351.7" cy="268.3" rx="1.6" ry="1.8" fill="#6a8a30" opacity="0.8"/><ellipse cx="354.0" cy="258.2" rx="0.9" ry="1.5" fill="#6a8a30" opacity="0.8"/><ellipse cx="352.8" cy="258.4" rx="1.5" ry="1.6" fill="#3a5020" opacity="0.8"/><ellipse cx="352.2" cy="264.0" rx="1.6" ry="1.5" fill="#6a8a30" opacity="0.8"/><ellipse cx="354.2" cy="266.0" rx="1.0" ry="1.3" fill="#6a8a38" opacity="0.8"/><ellipse cx="355.0" cy="269.0" rx="1.9" ry="1.3" fill="#6a8a30" opacity="0.8"/><ellipse cx="351.8" cy="262.1" rx="1.9" ry="2.0" fill="#6a8a30" opacity="0.8"/><ellipse cx="354.4" cy="263.0" rx="1.8" ry="1.9" fill="#9aa858" opacity="0.8"/><ellipse cx="352.8" cy="257.6" rx="1.6" ry="1.2" fill="#9aa858" opacity="0.8"/><ellipse cx="355.0" cy="269.9" rx="0.9" ry="2.2" fill="#6a8a38" opacity="0.8"/><ellipse cx="299.3" cy="264.9" rx="1.0" ry="2.0" fill="#3a5020" opacity="0.8"/><ellipse cx="301.0" cy="268.9" rx="1.3" ry="2.2" fill="#3a5020" opacity="0.8"/><ellipse cx="299.7" cy="265.8" rx="1.1" ry="1.4" fill="#6a8a30" opacity="0.8"/><ellipse cx="301.1" cy="277.7" rx="1.1" ry="2.4" fill="#3a5622" opacity="0.8"/><ellipse cx="299.5" cy="265.0" rx="1.6" ry="1.2" fill="#3a5622" opacity="0.8"/><ellipse cx="296.7" cy="277.9" rx="1.2" ry="2.0" fill="#6a8a30" opacity="0.8"/><ellipse cx="301.2" cy="279.5" rx="1.9" ry="2.0" fill="#9aa858" opacity="0.8"/><ellipse cx="298.5" cy="268.3" rx="1.7" ry="1.4" fill="#3a5020" opacity="0.8"/><ellipse cx="300.5" cy="271.7" rx="1.1" ry="1.6" fill="#9aa858" opacity="0.8"/><ellipse cx="299.5" cy="271.6" rx="1.6" ry="1.5" fill="#3a5020" opacity="0.8"/><ellipse cx="301.3" cy="267.7" rx="1.7" ry="2.3" fill="#6a8a30" opacity="0.8"/><ellipse cx="302.0" cy="267.2" rx="1.5" ry="1.7" fill="#3a5020" opacity="0.8"/><ellipse cx="301.6" cy="268.0" rx="0.9" ry="1.6" fill="#3a5020" opacity="0.8"/><ellipse cx="298.0" cy="275.4" rx="1.4" ry="1.7" fill="#3a5020" opacity="0.8"/><ellipse cx="297.6" cy="270.7" rx="1.3" ry="2.1" fill="#9aa858" opacity="0.8"/><ellipse cx="299.4" cy="279.7" rx="1.7" ry="1.6" fill="#3a5020" opacity="0.8"/><rect x="251.0" y="229.0" width="8.0" height="56.0" fill="#2a4420" opacity="0.9"/><ellipse cx="256.2" cy="271.3" rx="1.1" ry="1.6" fill="#2e4822" opacity="0.85"/><ellipse cx="268.0" cy="255.7" rx="2.4" ry="1.5" fill="#3a5a2a" opacity="0.85"/><ellipse cx="265.1" cy="249.8" rx="2.2" ry="1.3" fill="#2e4822" opacity="0.85"/><ellipse cx="258.9" cy="251.5" rx="1.8" ry="2.1" fill="#24381a" opacity="0.85"/><ellipse cx="267.5" cy="280.8" rx="1.7" ry="1.7" fill="#24381a" opacity="0.85"/><ellipse cx="272.3" cy="238.4" rx="2.1" ry="1.6" fill="#2e4822" opacity="0.85"/><ellipse cx="267.2" cy="285.2" rx="1.5" ry="2.4" fill="#2e4822" opacity="0.85"/><ellipse cx="256.4" cy="255.1" rx="2.2" ry="1.6" fill="#2e4822" opacity="0.85"/><ellipse cx="260.2" cy="235.8" rx="1.8" ry="2.6" fill="#24381a" opacity="0.85"/><ellipse cx="258.4" cy="289.2" rx="1.3" ry="2.3" fill="#24381a" opacity="0.85"/><ellipse cx="261.9" cy="236.0" rx="1.2" ry="1.1" fill="#3a5a2a" opacity="0.85"/><ellipse cx="254.1" cy="243.1" rx="2.1" ry="2.4" fill="#3a5a2a" opacity="0.85"/><ellipse cx="252.1" cy="248.6" rx="1.5" ry="2.0" fill="#52702e" opacity="0.85"/><ellipse cx="266.8" cy="234.5" rx="1.4" ry="1.7" fill="#44602c" opacity="0.85"/><ellipse cx="251.3" cy="284.8" rx="1.4" ry="1.5" fill="#44602c" opacity="0.85"/><ellipse cx="278.1" cy="243.7" rx="1.4" ry="1.9" fill="#44602c" opacity="0.85"/><ellipse cx="260.9" cy="267.7" rx="1.9" ry="1.5" fill="#44602c" opacity="0.85"/><ellipse cx="260.1" cy="276.3" rx="2.6" ry="1.1" fill="#44602c" opacity="0.85"/><ellipse cx="267.5" cy="257.2" rx="1.3" ry="2.0" fill="#44602c" opacity="0.85"/><ellipse cx="258.4" cy="262.4" rx="2.3" ry="1.2" fill="#24381a" opacity="0.85"/><ellipse cx="265.2" cy="275.3" rx="2.5" ry="2.4" fill="#24381a" opacity="0.85"/><ellipse cx="256.9" cy="257.2" rx="1.0" ry="1.1" fill="#2e4822" opacity="0.85"/><ellipse cx="251.2" cy="240.2" rx="1.7" ry="1.7" fill="#24381a" opacity="0.85"/><ellipse cx="277.1" cy="260.5" rx="1.3" ry="1.8" fill="#44602c" opacity="0.85"/><ellipse cx="260.8" cy="236.0" rx="1.9" ry="1.4" fill="#44602c" opacity="0.85"/><ellipse cx="260.9" cy="250.8" rx="2.0" ry="1.9" fill="#24381a" opacity="0.85"/><ellipse cx="262.7" cy="275.4" rx="2.1" ry="2.3" fill="#24381a" opacity="0.85"/><ellipse cx="261.1" cy="269.0" rx="1.5" ry="1.5" fill="#2e4822" opacity="0.85"/><ellipse cx="263.4" cy="249.7" rx="1.6" ry="1.6" fill="#3a5a2a" opacity="0.85"/><ellipse cx="254.8" cy="289.9" rx="1.9" ry="1.6" fill="#24381a" opacity="0.85"/><ellipse cx="276.1" cy="243.2" rx="1.7" ry="2.3" fill="#24381a" opacity="0.85"/><ellipse cx="252.1" cy="278.7" rx="1.6" ry="2.4" fill="#24381a" opacity="0.85"/><ellipse cx="263.8" cy="270.6" rx="1.8" ry="1.8" fill="#3a5a2a" opacity="0.85"/><ellipse cx="252.3" cy="262.0" rx="1.3" ry="1.3" fill="#52702e" opacity="0.85"/><ellipse cx="271.5" cy="237.3" rx="1.3" ry="1.8" fill="#24381a" opacity="0.85"/><ellipse cx="267.4" cy="246.7" rx="2.2" ry="1.2" fill="#24381a" opacity="0.85"/><ellipse cx="271.6" cy="247.8" rx="1.9" ry="2.0" fill="#52702e" opacity="0.85"/><ellipse cx="263.8" cy="279.8" rx="2.2" ry="1.5" fill="#3a5a2a" opacity="0.85"/><ellipse cx="257.9" cy="274.9" rx="1.7" ry="2.6" fill="#2e4822" opacity="0.85"/><ellipse cx="253.0" cy="268.8" rx="2.0" ry="1.1" fill="#52702e" opacity="0.85"/><ellipse cx="256.1" cy="273.4" rx="2.4" ry="1.3" fill="#52702e" opacity="0.85"/><ellipse cx="273.0" cy="230.4" rx="1.4" ry="1.1" fill="#44602c" opacity="0.85"/><ellipse cx="273.6" cy="261.5" rx="1.3" ry="2.4" fill="#24381a" opacity="0.85"/><ellipse cx="253.5" cy="265.8" rx="1.6" ry="2.5" fill="#2e4822" opacity="0.85"/><ellipse cx="253.3" cy="267.1" rx="1.3" ry="1.5" fill="#24381a" opacity="0.85"/><ellipse cx="273.4" cy="247.3" rx="1.1" ry="1.3" fill="#44602c" opacity="0.85"/><ellipse cx="269.4" cy="265.8" rx="1.9" ry="1.0" fill="#2e4822" opacity="0.85"/><ellipse cx="255.3" cy="273.7" rx="1.1" ry="2.5" fill="#52702e" opacity="0.85"/><ellipse cx="267.3" cy="258.5" rx="2.4" ry="1.6" fill="#52702e" opacity="0.85"/><ellipse cx="272.6" cy="257.3" rx="1.7" ry="1.3" fill="#3a5a2a" opacity="0.85"/><ellipse cx="274.0" cy="246.2" rx="2.3" ry="1.4" fill="#24381a" opacity="0.85"/><ellipse cx="257.4" cy="253.2" rx="1.3" ry="2.5" fill="#24381a" opacity="0.85"/><ellipse cx="260.6" cy="257.2" rx="1.8" ry="2.0" fill="#24381a" opacity="0.85"/><ellipse cx="255.6" cy="253.5" rx="1.8" ry="2.5" fill="#44602c" opacity="0.85"/><ellipse cx="276.3" cy="238.5" rx="1.7" ry="1.3" fill="#52702e" opacity="0.85"/><ellipse cx="281.5" cy="241.8" rx="2.0" ry="1.4" fill="#52702e" opacity="0.85"/><ellipse cx="252.8" cy="278.6" rx="1.4" ry="2.0" fill="#44602c" opacity="0.85"/><ellipse cx="269.3" cy="246.2" rx="1.5" ry="2.3" fill="#24381a" opacity="0.85"/><ellipse cx="277.0" cy="244.5" rx="1.9" ry="2.0" fill="#3a5a2a" opacity="0.85"/><ellipse cx="254.2" cy="271.7" rx="2.1" ry="1.2" fill="#44602c" opacity="0.85"/><ellipse cx="259.3" cy="278.7" rx="2.1" ry="2.5" fill="#3a5a2a" opacity="0.85"/><ellipse cx="254.0" cy="280.7" rx="1.3" ry="2.4" fill="#24381a" opacity="0.85"/><ellipse cx="278.7" cy="242.5" rx="1.6" ry="1.2" fill="#3a5a2a" opacity="0.85"/><ellipse cx="267.0" cy="273.0" rx="1.3" ry="1.9" fill="#3a5a2a" opacity="0.85"/><ellipse cx="265.1" cy="255.8" rx="1.0" ry="2.5" fill="#3a5a2a" opacity="0.85"/><ellipse cx="275.8" cy="256.1" rx="2.0" ry="1.2" fill="#44602c" opacity="0.85"/><ellipse cx="276.0" cy="242.3" rx="1.5" ry="2.2" fill="#3a5a2a" opacity="0.85"/><ellipse cx="254.3" cy="286.3" rx="1.6" ry="1.2" fill="#2e4822" opacity="0.85"/><ellipse cx="254.0" cy="288.8" rx="1.5" ry="1.4" fill="#2e4822" opacity="0.85"/><ellipse cx="271.0" cy="232.7" rx="2.4" ry="1.3" fill="#3a5a2a" opacity="0.85"/><ellipse cx="259.7" cy="234.1" rx="1.1" ry="1.8" fill="#24381a" opacity="0.85"/><ellipse cx="284.0" cy="229.0" rx="1.4" ry="1.4" fill="#44602c" opacity="0.85"/><ellipse cx="258.6" cy="236.0" rx="1.0" ry="1.5" fill="#2e4822" opacity="0.85"/><ellipse cx="264.6" cy="256.6" rx="1.0" ry="1.4" fill="#24381a" opacity="0.85"/><ellipse cx="277.7" cy="231.2" rx="1.7" ry="2.5" fill="#44602c" opacity="0.85"/><ellipse cx="264.3" cy="242.7" rx="2.3" ry="2.2" fill="#44602c" opacity="0.85"/><ellipse cx="261.1" cy="264.7" rx="2.2" ry="1.4" fill="#44602c" opacity="0.85"/><ellipse cx="266.6" cy="284.2" rx="1.3" ry="1.1" fill="#3a5a2a" opacity="0.85"/><ellipse cx="266.8" cy="257.1" rx="1.4" ry="1.9" fill="#2e4822" opacity="0.85"/><ellipse cx="263.7" cy="233.9" rx="2.4" ry="2.6" fill="#2e4822" opacity="0.85"/><ellipse cx="277.6" cy="240.8" rx="2.4" ry="1.7" fill="#3a5a2a" opacity="0.85"/><ellipse cx="264.1" cy="237.7" rx="1.0" ry="1.5" fill="#44602c" opacity="0.85"/><ellipse cx="260.1" cy="255.9" rx="2.0" ry="1.5" fill="#3a5a2a" opacity="0.85"/><ellipse cx="253.8" cy="232.0" rx="1.1" ry="1.5" fill="#52702e" opacity="0.85"/><ellipse cx="254.1" cy="271.0" rx="1.1" ry="2.0" fill="#24381a" opacity="0.85"/><ellipse cx="276.7" cy="230.5" rx="1.6" ry="1.3" fill="#44602c" opacity="0.85"/><ellipse cx="265.1" cy="267.8" rx="2.4" ry="1.2" fill="#44602c" opacity="0.85"/><ellipse cx="280.5" cy="247.3" rx="1.6" ry="1.7" fill="#3a5a2a" opacity="0.85"/><ellipse cx="256.8" cy="252.2" rx="1.8" ry="2.1" fill="#44602c" opacity="0.85"/><ellipse cx="272.8" cy="253.0" rx="1.4" ry="1.2" fill="#2e4822" opacity="0.85"/><ellipse cx="256.0" cy="268.8" rx="2.5" ry="1.2" fill="#44602c" opacity="0.85"/><ellipse cx="256.2" cy="275.5" rx="1.2" ry="1.8" fill="#44602c" opacity="0.85"/><ellipse cx="260.1" cy="238.1" rx="2.3" ry="1.2" fill="#2e4822" opacity="0.85"/><ellipse cx="252.0" cy="254.4" rx="1.7" ry="2.5" fill="#24381a" opacity="0.85"/><ellipse cx="259.4" cy="284.6" rx="2.2" ry="1.2" fill="#2e4822" opacity="0.85"/><ellipse cx="265.5" cy="253.7" rx="2.3" ry="1.6" fill="#44602c" opacity="0.85"/><ellipse cx="251.9" cy="234.4" rx="1.8" ry="2.0" fill="#2e4822" opacity="0.85"/><ellipse cx="262.5" cy="262.7" rx="1.1" ry="1.5" fill="#44602c" opacity="0.85"/><ellipse cx="261.7" cy="287.8" rx="2.6" ry="1.9" fill="#44602c" opacity="0.85"/><ellipse cx="252.8" cy="247.6" rx="1.2" ry="1.7" fill="#52702e" opacity="0.85"/><ellipse cx="262.2" cy="271.3" rx="2.2" ry="1.4" fill="#44602c" opacity="0.85"/><ellipse cx="260.0" cy="256.8" rx="1.9" ry="2.0" fill="#52702e" opacity="0.85"/><ellipse cx="278.6" cy="234.2" rx="1.8" ry="1.4" fill="#2e4822" opacity="0.85"/><ellipse cx="276.1" cy="248.3" rx="1.5" ry="1.5" fill="#3a5a2a" opacity="0.85"/><ellipse cx="276.4" cy="254.1" rx="1.4" ry="2.6" fill="#3a5a2a" opacity="0.85"/><ellipse cx="268.9" cy="289.4" rx="1.4" ry="2.3" fill="#52702e" opacity="0.85"/><ellipse cx="253.6" cy="277.9" rx="1.9" ry="1.2" fill="#52702e" opacity="0.85"/><ellipse cx="260.2" cy="229.9" rx="2.1" ry="1.6" fill="#52702e" opacity="0.85"/><ellipse cx="258.6" cy="285.7" rx="1.3" ry="2.0" fill="#24381a" opacity="0.85"/><ellipse cx="253.0" cy="269.3" rx="1.8" ry="2.0" fill="#44602c" opacity="0.85"/><ellipse cx="257.7" cy="231.6" rx="2.5" ry="1.6" fill="#44602c" opacity="0.85"/><ellipse cx="272.6" cy="240.9" rx="1.9" ry="2.6" fill="#24381a" opacity="0.85"/><ellipse cx="281.9" cy="240.5" rx="2.5" ry="2.2" fill="#52702e" opacity="0.85"/><ellipse cx="274.1" cy="257.4" rx="1.4" ry="2.2" fill="#52702e" opacity="0.85"/><ellipse cx="266.8" cy="286.3" rx="2.4" ry="1.4" fill="#44602c" opacity="0.85"/><ellipse cx="259.5" cy="258.0" rx="1.6" ry="2.3" fill="#3a5a2a" opacity="0.85"/><ellipse cx="263.7" cy="280.5" rx="1.3" ry="1.2" fill="#52702e" opacity="0.85"/><ellipse cx="263.6" cy="261.3" rx="2.4" ry="1.8" fill="#3a5a2a" opacity="0.85"/><ellipse cx="255.2" cy="272.7" rx="2.4" ry="1.5" fill="#24381a" opacity="0.85"/><ellipse cx="259.1" cy="247.5" rx="1.6" ry="1.0" fill="#44602c" opacity="0.85"/><ellipse cx="265.9" cy="267.5" rx="1.2" ry="2.5" fill="#44602c" opacity="0.85"/><ellipse cx="251.8" cy="244.4" rx="1.2" ry="2.1" fill="#52702e" opacity="0.85"/><ellipse cx="252.7" cy="269.7" rx="1.7" ry="1.3" fill="#2e4822" opacity="0.85"/><ellipse cx="279.9" cy="251.7" rx="2.4" ry="1.2" fill="#52702e" opacity="0.85"/><ellipse cx="276.3" cy="230.3" rx="2.3" ry="2.1" fill="#52702e" opacity="0.85"/><ellipse cx="264.3" cy="237.9" rx="2.4" ry="1.7" fill="#24381a" opacity="0.85"/><ellipse cx="256.5" cy="253.3" rx="2.1" ry="1.9" fill="#24381a" opacity="0.85"/><ellipse cx="268.5" cy="265.6" rx="2.3" ry="1.9" fill="#24381a" opacity="0.85"/><ellipse cx="268.6" cy="231.9" rx="1.8" ry="1.1" fill="#24381a" opacity="0.85"/><ellipse cx="268.7" cy="272.1" rx="2.0" ry="2.1" fill="#44602c" opacity="0.85"/><ellipse cx="259.5" cy="276.5" rx="1.7" ry="2.2" fill="#24381a" opacity="0.85"/><ellipse cx="264.1" cy="285.1" rx="1.3" ry="1.2" fill="#3a5a2a" opacity="0.85"/><ellipse cx="257.7" cy="241.8" rx="2.1" ry="1.3" fill="#24381a" opacity="0.85"/><ellipse cx="259.5" cy="289.8" rx="2.3" ry="2.0" fill="#3a5a2a" opacity="0.85"/><ellipse cx="252.1" cy="278.6" rx="1.7" ry="1.1" fill="#2e4822" opacity="0.85"/><ellipse cx="268.2" cy="230.1" rx="1.7" ry="2.5" fill="#44602c" opacity="0.85"/><ellipse cx="255.4" cy="243.2" rx="1.1" ry="1.7" fill="#24381a" opacity="0.85"/><ellipse cx="260.6" cy="268.4" rx="1.5" ry="2.0" fill="#44602c" opacity="0.85"/><ellipse cx="261.8" cy="241.4" rx="1.0" ry="1.2" fill="#2e4822" opacity="0.85"/><ellipse cx="267.3" cy="281.0" rx="1.8" ry="1.8" fill="#24381a" opacity="0.85"/><ellipse cx="262.1" cy="280.1" rx="1.9" ry="1.0" fill="#44602c" opacity="0.85"/><ellipse cx="258.8" cy="267.3" rx="2.5" ry="1.8" fill="#52702e" opacity="0.85"/><ellipse cx="276.0" cy="235.2" rx="2.3" ry="2.0" fill="#2e4822" opacity="0.85"/><ellipse cx="259.9" cy="273.6" rx="2.2" ry="2.4" fill="#24381a" opacity="0.85"/><ellipse cx="281.9" cy="231.8" rx="2.1" ry="1.4" fill="#2e4822" opacity="0.85"/><ellipse cx="268.0" cy="279.4" rx="1.4" ry="1.9" fill="#44602c" opacity="0.85"/><ellipse cx="272.4" cy="235.3" rx="2.0" ry="1.1" fill="#24381a" opacity="0.85"/><ellipse cx="268.6" cy="262.1" rx="1.9" ry="2.5" fill="#52702e" opacity="0.85"/><ellipse cx="263.5" cy="277.7" rx="1.7" ry="2.4" fill="#52702e" opacity="0.85"/><ellipse cx="262.8" cy="288.1" rx="1.8" ry="2.0" fill="#52702e" opacity="0.85"/><ellipse cx="261.2" cy="231.8" rx="2.1" ry="1.2" fill="#2e4822" opacity="0.85"/><ellipse cx="255.6" cy="275.7" rx="2.5" ry="1.3" fill="#24381a" opacity="0.85"/><ellipse cx="261.0" cy="272.0" rx="2.0" ry="1.5" fill="#52702e" opacity="0.85"/><ellipse cx="277.9" cy="237.7" rx="2.3" ry="1.2" fill="#44602c" opacity="0.85"/><ellipse cx="261.2" cy="260.5" rx="1.6" ry="2.3" fill="#3a5a2a" opacity="0.85"/><ellipse cx="269.3" cy="280.5" rx="1.5" ry="1.6" fill="#52702e" opacity="0.85"/><ellipse cx="266.3" cy="245.5" rx="1.3" ry="2.3" fill="#44602c" opacity="0.85"/><ellipse cx="264.0" cy="280.0" rx="2.2" ry="1.5" fill="#2e4822" opacity="0.85"/><ellipse cx="255.4" cy="238.5" rx="1.5" ry="2.1" fill="#52702e" opacity="0.85"/><ellipse cx="267.2" cy="282.6" rx="1.7" ry="2.2" fill="#44602c" opacity="0.85"/><ellipse cx="266.6" cy="279.0" rx="1.3" ry="2.5" fill="#24381a" opacity="0.85"/><ellipse cx="251.0" cy="243.0" rx="2.4" ry="2.3" fill="#2e4822" opacity="0.85"/><ellipse cx="254.5" cy="283.8" rx="1.7" ry="1.8" fill="#24381a" opacity="0.85"/><ellipse cx="253.5" cy="288.6" rx="1.3" ry="2.1" fill="#44602c" opacity="0.85"/><ellipse cx="267.1" cy="270.7" rx="1.9" ry="1.4" fill="#24381a" opacity="0.85"/><ellipse cx="254.5" cy="265.9" rx="2.0" ry="1.6" fill="#3a5a2a" opacity="0.85"/><ellipse cx="273.0" cy="243.8" rx="2.1" ry="1.2" fill="#24381a" opacity="0.85"/><ellipse cx="256.8" cy="275.7" rx="1.2" ry="1.5" fill="#44602c" opacity="0.85"/><ellipse cx="261.3" cy="278.2" rx="1.7" ry="1.1" fill="#44602c" opacity="0.85"/><ellipse cx="254.1" cy="282.7" rx="1.1" ry="2.2" fill="#2e4822" opacity="0.85"/><ellipse cx="258.6" cy="284.4" rx="1.2" ry="1.7" fill="#2e4822" opacity="0.85"/><ellipse cx="258.8" cy="282.3" rx="1.7" ry="1.0" fill="#24381a" opacity="0.85"/><ellipse cx="267.7" cy="280.9" rx="1.1" ry="1.7" fill="#24381a" opacity="0.85"/><ellipse cx="255.1" cy="274.1" rx="1.5" ry="1.5" fill="#44602c" opacity="0.85"/><ellipse cx="253.1" cy="236.2" rx="1.7" ry="1.7" fill="#44602c" opacity="0.85"/><ellipse cx="254.2" cy="244.8" rx="1.8" ry="2.2" fill="#3a5a2a" opacity="0.85"/><ellipse cx="256.1" cy="260.2" rx="1.0" ry="2.4" fill="#24381a" opacity="0.85"/><ellipse cx="254.6" cy="251.9" rx="2.0" ry="2.2" fill="#44602c" opacity="0.85"/><ellipse cx="256.8" cy="269.3" rx="1.8" ry="1.5" fill="#44602c" opacity="0.85"/><ellipse cx="256.5" cy="279.7" rx="2.4" ry="2.2" fill="#52702e" opacity="0.85"/><ellipse cx="277.3" cy="258.2" rx="1.2" ry="2.5" fill="#52702e" opacity="0.85"/><ellipse cx="258.9" cy="282.2" rx="2.6" ry="1.0" fill="#52702e" opacity="0.85"/><ellipse cx="258.1" cy="279.0" rx="2.3" ry="1.3" fill="#2e4822" opacity="0.85"/><ellipse cx="262.3" cy="257.6" rx="1.3" ry="2.3" fill="#2e4822" opacity="0.85"/><ellipse cx="284.6" cy="234.4" rx="1.4" ry="1.6" fill="#44602c" opacity="0.85"/><ellipse cx="270.3" cy="251.7" rx="1.7" ry="1.7" fill="#44602c" opacity="0.85"/><ellipse cx="253.3" cy="235.6" rx="1.8" ry="1.9" fill="#44602c" opacity="0.85"/><ellipse cx="268.8" cy="275.4" rx="2.1" ry="1.9" fill="#3a5a2a" opacity="0.85"/><ellipse cx="257.3" cy="289.4" rx="1.6" ry="2.6" fill="#44602c" opacity="0.85"/><ellipse cx="268.6" cy="231.3" rx="1.8" ry="2.1" fill="#3a5a2a" opacity="0.85"/><ellipse cx="261.4" cy="232.4" rx="1.1" ry="1.3" fill="#44602c" opacity="0.85"/><ellipse cx="259.4" cy="276.6" rx="1.9" ry="1.9" fill="#2e4822" opacity="0.85"/><ellipse cx="254.3" cy="273.6" rx="1.3" ry="1.1" fill="#3a5a2a" opacity="0.85"/><ellipse cx="266.6" cy="285.1" rx="1.5" ry="1.1" fill="#52702e" opacity="0.85"/><ellipse cx="262.2" cy="233.8" rx="2.4" ry="1.6" fill="#24381a" opacity="0.85"/><ellipse cx="279.8" cy="251.7" rx="1.4" ry="1.7" fill="#3a5a2a" opacity="0.85"/><ellipse cx="259.6" cy="278.8" rx="2.1" ry="1.6" fill="#3a5a2a" opacity="0.85"/><ellipse cx="263.4" cy="265.3" rx="1.6" ry="1.9" fill="#3a5a2a" opacity="0.85"/><ellipse cx="276.6" cy="243.4" rx="1.9" ry="1.6" fill="#52702e" opacity="0.85"/><ellipse cx="251.2" cy="280.4" rx="1.7" ry="2.4" fill="#24381a" opacity="0.85"/><ellipse cx="258.1" cy="247.4" rx="2.1" ry="1.5" fill="#24381a" opacity="0.85"/><ellipse cx="260.1" cy="263.2" rx="1.6" ry="2.1" fill="#44602c" opacity="0.85"/><ellipse cx="280.8" cy="234.1" rx="1.9" ry="2.2" fill="#52702e" opacity="0.85"/><ellipse cx="258.4" cy="262.3" rx="2.2" ry="1.5" fill="#3a5a2a" opacity="0.85"/><ellipse cx="282.6" cy="241.8" rx="1.8" ry="2.4" fill="#24381a" opacity="0.85"/><ellipse cx="251.0" cy="257.8" rx="1.4" ry="2.1" fill="#3a5a2a" opacity="0.85"/><ellipse cx="259.4" cy="267.8" rx="2.2" ry="2.1" fill="#3a5a2a" opacity="0.85"/><ellipse cx="269.8" cy="284.4" rx="1.6" ry="1.0" fill="#24381a" opacity="0.85"/><ellipse cx="272.6" cy="250.3" rx="1.9" ry="1.3" fill="#24381a" opacity="0.85"/><ellipse cx="276.4" cy="236.1" rx="1.2" ry="1.2" fill="#24381a" opacity="0.85"/><ellipse cx="258.9" cy="275.4" rx="2.0" ry="1.7" fill="#24381a" opacity="0.85"/><ellipse cx="263.9" cy="275.7" rx="2.5" ry="1.5" fill="#2e4822" opacity="0.85"/><ellipse cx="258.3" cy="242.6" rx="2.2" ry="2.3" fill="#24381a" opacity="0.85"/><ellipse cx="251.5" cy="283.8" rx="2.3" ry="1.5" fill="#2e4822" opacity="0.85"/><ellipse cx="276.4" cy="260.3" rx="1.2" ry="1.6" fill="#24381a" opacity="0.85"/><ellipse cx="282.8" cy="234.3" rx="1.8" ry="1.6" fill="#52702e" opacity="0.85"/><ellipse cx="264.8" cy="276.2" rx="1.5" ry="2.5" fill="#24381a" opacity="0.85"/><ellipse cx="260.0" cy="263.3" rx="1.5" ry="1.2" fill="#24381a" opacity="0.85"/><ellipse cx="252.9" cy="266.1" rx="2.5" ry="2.4" fill="#2e4822" opacity="0.85"/><ellipse cx="260.4" cy="270.5" rx="2.4" ry="1.6" fill="#2e4822" opacity="0.85"/><ellipse cx="271.3" cy="240.7" rx="1.7" ry="2.6" fill="#3a5a2a" opacity="0.85"/><ellipse cx="263.1" cy="231.8" rx="1.1" ry="1.6" fill="#44602c" opacity="0.85"/><ellipse cx="252.8" cy="277.5" rx="2.0" ry="2.4" fill="#3a5a2a" opacity="0.85"/><ellipse cx="267.5" cy="233.8" rx="2.3" ry="1.3" fill="#24381a" opacity="0.85"/><ellipse cx="268.5" cy="230.2" rx="1.8" ry="1.3" fill="#52702e" opacity="0.85"/><ellipse cx="253.2" cy="286.4" rx="2.4" ry="2.2" fill="#3a5a2a" opacity="0.85"/><ellipse cx="252.9" cy="265.6" rx="2.5" ry="1.2" fill="#52702e" opacity="0.85"/><ellipse cx="257.0" cy="273.1" rx="2.1" ry="1.7" fill="#52702e" opacity="0.85"/><ellipse cx="283.9" cy="231.6" rx="1.6" ry="2.3" fill="#44602c" opacity="0.85"/><ellipse cx="261.6" cy="245.5" rx="2.3" ry="2.3" fill="#3a5a2a" opacity="0.85"/><ellipse cx="253.1" cy="258.8" rx="2.4" ry="2.1" fill="#44602c" opacity="0.85"/><ellipse cx="274.7" cy="240.5" rx="1.1" ry="2.1" fill="#52702e" opacity="0.85"/><ellipse cx="264.8" cy="272.0" rx="2.0" ry="1.0" fill="#44602c" opacity="0.85"/><ellipse cx="267.6" cy="255.8" rx="1.4" ry="1.0" fill="#52702e" opacity="0.85"/><ellipse cx="252.3" cy="245.5" rx="1.2" ry="2.6" fill="#3a5a2a" opacity="0.85"/><ellipse cx="251.9" cy="243.8" rx="2.0" ry="2.1" fill="#24381a" opacity="0.85"/><ellipse cx="264.9" cy="237.0" rx="2.5" ry="1.0" fill="#44602c" opacity="0.85"/><ellipse cx="260.6" cy="271.5" rx="2.6" ry="1.8" fill="#52702e" opacity="0.85"/><rect x="312.5" y="231.0" width="1.3" height="52.0" fill="#cfcabe"/><rect x="344.5" y="231.0" width="1.5" height="50.0" fill="#c8c2b4"/><path d="M313 245 L308 238 M313 250 L318 242 M345 245 L340 236 M345 252 L349 246" stroke="#c0bcb0" stroke-width="0.5"/><rect x="340.2" y="276.2" width="0.5" height="8.2" fill="#2e301a" opacity="0.6"/><rect x="307.8" y="272.9" width="0.6" height="7.1" fill="#2e301a" opacity="0.6"/><rect x="336.6" y="267.8" width="1.0" height="6.5" fill="#2e301a" opacity="0.6"/><rect x="286.8" y="269.3" width="0.8" height="7.9" fill="#2e301a" opacity="0.6"/><rect x="315.0" y="278.5" width="0.8" height="7.1" fill="#2e301a" opacity="0.6"/><rect x="354.0" y="269.0" width="0.5" height="6.0" fill="#2e301a" opacity="0.6"/><rect x="291.1" y="267.7" width="0.8" height="4.2" fill="#2e301a" opacity="0.6"/><rect x="347.6" y="272.8" width="1.0" height="8.2" fill="#2e301a" opacity="0.6"/><rect x="329.9" y="276.6" width="0.7" height="8.4" fill="#2e301a" opacity="0.6"/><rect x="281.2" y="273.8" width="0.9" height="8.7" fill="#2e301a" opacity="0.6"/><rect x="277.6" y="270.8" width="1.0" height="8.8" fill="#2e301a" opacity="0.6"/><rect x="352.9" y="267.7" width="0.6" height="4.6" fill="#2e301a" opacity="0.6"/><rect x="329.3" y="276.4" width="0.9" height="8.7" fill="#2e301a" opacity="0.6"/><rect x="310.0" y="273.9" width="1.1" height="7.9" fill="#2e301a" opacity="0.6"/><rect x="323.0" y="274.2" width="0.8" height="8.5" fill="#2e301a" opacity="0.6"/><rect x="315.3" y="267.8" width="0.8" height="6.5" fill="#2e301a" opacity="0.6"/><rect x="302.2" y="273.9" width="0.7" height="6.3" fill="#2e301a" opacity="0.6"/><rect x="301.7" y="271.2" width="1.1" height="4.5" fill="#2e301a" opacity="0.6"/><rect x="263.6" y="276.1" width="0.7" height="6.7" fill="#2e301a" opacity="0.6"/><rect x="317.0" y="271.1" width="0.6" height="4.1" fill="#2e301a" opacity="0.6"/><rect x="343.3" y="279.1" width="0.7" height="6.8" fill="#2e301a" opacity="0.6"/><rect x="292.1" y="266.8" width="1.0" height="9.0" fill="#2e301a" opacity="0.6"/><rect x="284.4" y="269.6" width="0.9" height="8.8" fill="#2e301a" opacity="0.6"/><rect x="305.7" y="271.4" width="0.6" height="8.8" fill="#2e301a" opacity="0.6"/><rect x="342.3" y="278.0" width="0.6" height="7.6" fill="#2e301a" opacity="0.6"/><rect x="353.6" y="276.0" width="0.8" height="4.9" fill="#2e301a" opacity="0.6"/><rect x="267.6" y="276.2" width="0.5" height="8.9" fill="#2e301a" opacity="0.6"/><rect x="323.9" y="272.6" width="1.0" height="9.6" fill="#2e301a" opacity="0.6"/><rect x="319.3" y="267.4" width="0.9" height="6.5" fill="#2e301a" opacity="0.6"/><rect x="285.2" y="279.0" width="0.9" height="4.7" fill="#2e301a" opacity="0.6"/><rect x="283.3" y="270.8" width="0.8" height="5.9" fill="#2e301a" opacity="0.6"/><rect x="302.9" y="277.4" width="0.6" height="8.3" fill="#2e301a" opacity="0.6"/><rect x="292.7" y="279.2" width="1.1" height="6.0" fill="#2e301a" opacity="0.6"/><rect x="318.4" y="267.6" width="0.7" height="7.7" fill="#2e301a" opacity="0.6"/><rect x="321.3" y="270.8" width="0.5" height="4.7" fill="#2e301a" opacity="0.6"/><rect x="314.1" y="268.4" width="0.7" height="7.7" fill="#2e301a" opacity="0.6"/><rect x="345.8" y="273.2" width="0.7" height="7.5" fill="#2e301a" opacity="0.6"/><rect x="287.6" y="277.0" width="0.6" height="5.6" fill="#2e301a" opacity="0.6"/><rect x="302.8" y="278.7" width="0.6" height="5.2" fill="#2e301a" opacity="0.6"/><rect x="274.2" y="269.0" width="0.7" height="6.4" fill="#2e301a" opacity="0.6"/><rect x="332.6" y="271.7" width="0.8" height="6.4" fill="#2e301a" opacity="0.6"/><rect x="334.0" y="278.6" width="0.8" height="9.5" fill="#2e301a" opacity="0.6"/><rect x="285.3" y="279.7" width="0.8" height="8.1" fill="#2e301a" opacity="0.6"/><rect x="297.5" y="269.8" width="0.6" height="9.3" fill="#2e301a" opacity="0.6"/><rect x="295.4" y="275.8" width="0.8" height="7.2" fill="#2e301a" opacity="0.6"/><rect x="251.0" y="273.0" width="104.0" height="7.0" fill="#3a4020" opacity="0.35"/><rect x="251.0" y="278.0" width="104.0" height="22.0" fill="#6a9442"/><rect x="251.0" y="278.0" width="104.0" height="4.0" fill="#3e5a28" opacity="0.5"/><ellipse cx="265.3" cy="292.2" rx="2.5" ry="1.4" fill="#4a7028" opacity="0.8"/><ellipse cx="251.2" cy="293.6" rx="1.6" ry="0.7" fill="#8ab050" opacity="0.8"/><ellipse cx="260.5" cy="280.4" rx="1.4" ry="1.1" fill="#8ab050" opacity="0.8"/><ellipse cx="276.9" cy="284.4" rx="1.4" ry="0.9" fill="#6a9038" opacity="0.8"/><ellipse cx="323.5" cy="279.2" rx="2.1" ry="1.2" fill="#5a7a30" opacity="0.8"/><ellipse cx="262.8" cy="279.0" rx="1.2" ry="0.9" fill="#9ab858" opacity="0.8"/><ellipse cx="259.1" cy="291.8" rx="2.3" ry="0.8" fill="#6a9038" opacity="0.8"/><ellipse cx="353.1" cy="294.6" rx="1.5" ry="0.6" fill="#3e6222" opacity="0.8"/><ellipse cx="277.6" cy="296.6" rx="1.2" ry="1.3" fill="#8ab050" opacity="0.8"/><ellipse cx="332.4" cy="290.2" rx="2.1" ry="1.3" fill="#8ab050" opacity="0.8"/><ellipse cx="339.6" cy="291.3" rx="2.1" ry="0.9" fill="#5a7a30" opacity="0.8"/><ellipse cx="279.3" cy="279.9" rx="2.5" ry="0.6" fill="#8ab050" opacity="0.8"/><ellipse cx="290.7" cy="290.6" rx="2.0" ry="0.9" fill="#6a9038" opacity="0.8"/><ellipse cx="276.8" cy="281.6" rx="1.9" ry="1.3" fill="#8ab050" opacity="0.8"/><ellipse cx="281.7" cy="290.7" rx="2.3" ry="1.2" fill="#6a9038" opacity="0.8"/><ellipse cx="276.1" cy="289.3" rx="1.7" ry="1.2" fill="#7aa448" opacity="0.8"/><ellipse cx="294.6" cy="290.8" rx="1.2" ry="1.0" fill="#9ab858" opacity="0.8"/><ellipse cx="252.9" cy="285.0" rx="1.2" ry="1.2" fill="#7aa448" opacity="0.8"/><ellipse cx="270.1" cy="284.7" rx="2.2" ry="1.5" fill="#5a7a30" opacity="0.8"/><ellipse cx="303.7" cy="281.5" rx="2.3" ry="1.2" fill="#7aa448" opacity="0.8"/><ellipse cx="319.5" cy="285.0" rx="1.2" ry="0.8" fill="#6a9038" opacity="0.8"/><ellipse cx="269.8" cy="284.7" rx="1.2" ry="0.9" fill="#3e6222" opacity="0.8"/><ellipse cx="293.0" cy="295.6" rx="1.1" ry="0.9" fill="#4a7028" opacity="0.8"/><ellipse cx="340.9" cy="298.3" rx="2.1" ry="1.1" fill="#3e6222" opacity="0.8"/><ellipse cx="316.3" cy="297.1" rx="1.9" ry="1.2" fill="#5a7a30" opacity="0.8"/><ellipse cx="342.0" cy="285.1" rx="1.6" ry="1.1" fill="#4a7028" opacity="0.8"/><ellipse cx="269.7" cy="298.6" rx="1.6" ry="1.5" fill="#7aa448" opacity="0.8"/><ellipse cx="284.0" cy="281.2" rx="2.1" ry="1.3" fill="#8ab050" opacity="0.8"/><ellipse cx="287.1" cy="292.3" rx="2.4" ry="1.1" fill="#8ab050" opacity="0.8"/><ellipse cx="335.5" cy="285.5" rx="1.5" ry="1.1" fill="#9ab858" opacity="0.8"/><ellipse cx="283.7" cy="279.2" rx="2.1" ry="1.1" fill="#9ab858" opacity="0.8"/><ellipse cx="340.6" cy="294.7" rx="1.8" ry="1.0" fill="#9ab858" opacity="0.8"/><ellipse cx="265.3" cy="279.5" rx="2.3" ry="1.2" fill="#8ab050" opacity="0.8"/><ellipse cx="271.3" cy="299.2" rx="1.1" ry="1.4" fill="#9ab858" opacity="0.8"/><ellipse cx="280.4" cy="298.2" rx="1.3" ry="1.5" fill="#6a9038" opacity="0.8"/><ellipse cx="260.4" cy="298.2" rx="1.2" ry="0.7" fill="#6a9038" opacity="0.8"/><ellipse cx="297.0" cy="291.7" rx="2.2" ry="0.6" fill="#9ab858" opacity="0.8"/><ellipse cx="256.4" cy="278.2" rx="1.4" ry="1.4" fill="#4a7028" opacity="0.8"/><ellipse cx="290.3" cy="297.4" rx="1.2" ry="1.5" fill="#4a7028" opacity="0.8"/><ellipse cx="344.7" cy="294.4" rx="1.6" ry="1.1" fill="#5a7a30" opacity="0.8"/><ellipse cx="251.5" cy="296.4" rx="1.3" ry="0.9" fill="#8ab050" opacity="0.8"/><ellipse cx="327.1" cy="288.7" rx="2.2" ry="1.0" fill="#6a9038" opacity="0.8"/><ellipse cx="322.2" cy="287.9" rx="1.8" ry="1.4" fill="#4a7028" opacity="0.8"/><ellipse cx="285.5" cy="292.3" rx="2.1" ry="1.6" fill="#6a9038" opacity="0.8"/><ellipse cx="301.9" cy="296.7" rx="1.2" ry="0.9" fill="#9ab858" opacity="0.8"/><ellipse cx="337.1" cy="286.8" rx="1.9" ry="0.6" fill="#9ab858" opacity="0.8"/><ellipse cx="255.7" cy="280.7" rx="1.1" ry="1.2" fill="#3e6222" opacity="0.8"/><ellipse cx="275.2" cy="292.4" rx="2.0" ry="1.0" fill="#8ab050" opacity="0.8"/><ellipse cx="338.2" cy="290.3" rx="1.7" ry="0.9" fill="#6a9038" opacity="0.8"/><ellipse cx="307.1" cy="288.7" rx="2.3" ry="1.6" fill="#6a9038" opacity="0.8"/><ellipse cx="336.9" cy="279.7" rx="1.2" ry="0.9" fill="#4a7028" opacity="0.8"/><ellipse cx="307.4" cy="298.2" rx="2.0" ry="0.8" fill="#4a7028" opacity="0.8"/><ellipse cx="274.0" cy="282.9" rx="1.0" ry="0.9" fill="#4a7028" opacity="0.8"/><ellipse cx="252.6" cy="287.2" rx="2.4" ry="1.4" fill="#7aa448" opacity="0.8"/><ellipse cx="313.1" cy="284.6" rx="2.1" ry="1.3" fill="#3e6222" opacity="0.8"/><ellipse cx="268.7" cy="288.0" rx="2.3" ry="1.0" fill="#9ab858" opacity="0.8"/><ellipse cx="299.5" cy="291.6" rx="1.3" ry="1.5" fill="#7aa448" opacity="0.8"/><ellipse cx="339.8" cy="296.0" rx="1.7" ry="0.8" fill="#7aa448" opacity="0.8"/><ellipse cx="289.4" cy="291.4" rx="1.9" ry="0.9" fill="#8ab050" opacity="0.8"/><ellipse cx="287.7" cy="285.7" rx="1.9" ry="0.7" fill="#6a9038" opacity="0.8"/><ellipse cx="342.9" cy="285.3" rx="2.1" ry="1.4" fill="#5a7a30" opacity="0.8"/><ellipse cx="269.3" cy="299.2" rx="1.9" ry="1.4" fill="#4a7028" opacity="0.8"/><ellipse cx="299.0" cy="299.6" rx="1.5" ry="0.8" fill="#7aa448" opacity="0.8"/><ellipse cx="261.8" cy="286.2" rx="2.5" ry="1.1" fill="#6a9038" opacity="0.8"/><ellipse cx="277.4" cy="278.6" rx="2.4" ry="0.9" fill="#8ab050" opacity="0.8"/><ellipse cx="317.6" cy="279.6" rx="1.8" ry="1.3" fill="#6a9038" opacity="0.8"/><ellipse cx="342.2" cy="283.6" rx="2.2" ry="0.6" fill="#3e6222" opacity="0.8"/><ellipse cx="253.6" cy="284.5" rx="1.0" ry="0.6" fill="#3e6222" opacity="0.8"/><ellipse cx="275.6" cy="293.6" rx="2.0" ry="0.7" fill="#7aa448" opacity="0.8"/><ellipse cx="258.4" cy="293.3" rx="1.5" ry="0.7" fill="#8ab050" opacity="0.8"/><ellipse cx="328.2" cy="295.2" rx="2.3" ry="1.0" fill="#7aa448" opacity="0.8"/><ellipse cx="351.9" cy="298.4" rx="1.8" ry="0.9" fill="#4a7028" opacity="0.8"/><ellipse cx="286.4" cy="296.0" rx="1.7" ry="1.4" fill="#6a9038" opacity="0.8"/><ellipse cx="293.5" cy="290.3" rx="2.3" ry="0.8" fill="#8ab050" opacity="0.8"/><ellipse cx="352.9" cy="289.9" rx="2.3" ry="0.7" fill="#5a7a30" opacity="0.8"/><ellipse cx="346.9" cy="287.7" rx="1.3" ry="1.0" fill="#5a7a30" opacity="0.8"/><ellipse cx="281.8" cy="282.2" rx="2.0" ry="1.4" fill="#6a9038" opacity="0.8"/><ellipse cx="264.7" cy="283.6" rx="2.2" ry="1.5" fill="#6a9038" opacity="0.8"/><ellipse cx="269.1" cy="278.1" rx="2.1" ry="1.2" fill="#9ab858" opacity="0.8"/><ellipse cx="284.3" cy="279.3" rx="1.4" ry="0.8" fill="#8ab050" opacity="0.8"/><ellipse cx="353.0" cy="282.6" rx="1.1" ry="1.3" fill="#7aa448" opacity="0.8"/><ellipse cx="274.9" cy="280.2" rx="1.9" ry="0.7" fill="#7aa448" opacity="0.8"/><ellipse cx="283.8" cy="288.5" rx="1.2" ry="1.0" fill="#3e6222" opacity="0.8"/><ellipse cx="267.4" cy="286.4" rx="1.7" ry="1.1" fill="#9ab858" opacity="0.8"/><ellipse cx="316.2" cy="288.0" rx="2.4" ry="0.7" fill="#9ab858" opacity="0.8"/><ellipse cx="276.0" cy="295.5" rx="2.3" ry="0.7" fill="#9ab858" opacity="0.8"/><ellipse cx="329.9" cy="288.4" rx="1.7" ry="1.3" fill="#9ab858" opacity="0.8"/><ellipse cx="341.0" cy="288.9" rx="2.4" ry="0.9" fill="#6a9038" opacity="0.8"/><ellipse cx="344.2" cy="299.9" rx="1.8" ry="0.9" fill="#7aa448" opacity="0.8"/><ellipse cx="313.0" cy="295.9" rx="1.4" ry="1.0" fill="#4a7028" opacity="0.8"/><ellipse cx="354.9" cy="286.6" rx="2.4" ry="1.0" fill="#5a7a30" opacity="0.8"/><ellipse cx="333.0" cy="281.1" rx="1.3" ry="1.4" fill="#9ab858" opacity="0.8"/><ellipse cx="257.8" cy="284.7" rx="1.7" ry="1.3" fill="#8ab050" opacity="0.8"/><ellipse cx="351.6" cy="297.3" rx="1.7" ry="1.0" fill="#9ab858" opacity="0.8"/><ellipse cx="254.8" cy="287.5" rx="1.0" ry="1.1" fill="#6a9038" opacity="0.8"/><ellipse cx="264.1" cy="294.6" rx="1.5" ry="0.9" fill="#9ab858" opacity="0.8"/><ellipse cx="288.2" cy="291.6" rx="1.8" ry="0.9" fill="#4a7028" opacity="0.8"/><ellipse cx="344.9" cy="298.7" rx="2.4" ry="1.3" fill="#5a7a30" opacity="0.8"/><ellipse cx="303.1" cy="278.8" rx="1.4" ry="1.2" fill="#5a7a30" opacity="0.8"/><ellipse cx="349.9" cy="278.5" rx="2.4" ry="1.6" fill="#5a7a30" opacity="0.8"/><ellipse cx="294.8" cy="287.6" rx="2.5" ry="1.5" fill="#5a7a30" opacity="0.8"/><ellipse cx="327.5" cy="293.4" rx="1.2" ry="0.6" fill="#9ab858" opacity="0.8"/><ellipse cx="337.7" cy="293.7" rx="1.7" ry="1.2" fill="#5a7a30" opacity="0.8"/><ellipse cx="346.8" cy="289.7" rx="1.0" ry="0.9" fill="#5a7a30" opacity="0.8"/><ellipse cx="252.9" cy="295.0" rx="1.1" ry="1.0" fill="#8ab050" opacity="0.8"/><ellipse cx="251.4" cy="287.2" rx="1.2" ry="1.3" fill="#5a7a30" opacity="0.8"/><ellipse cx="338.1" cy="280.0" rx="2.3" ry="0.9" fill="#5a7a30" opacity="0.8"/><ellipse cx="260.7" cy="296.5" rx="2.2" ry="1.1" fill="#3e6222" opacity="0.8"/><ellipse cx="292.2" cy="282.9" rx="2.0" ry="1.2" fill="#4a7028" opacity="0.8"/><ellipse cx="353.2" cy="287.1" rx="2.2" ry="1.4" fill="#9ab858" opacity="0.8"/><ellipse cx="268.2" cy="289.6" rx="2.0" ry="1.2" fill="#6a9038" opacity="0.8"/><ellipse cx="259.5" cy="294.5" rx="1.3" ry="0.9" fill="#7aa448" opacity="0.8"/><ellipse cx="291.7" cy="296.9" rx="1.5" ry="1.3" fill="#8ab050" opacity="0.8"/><ellipse cx="354.7" cy="288.9" rx="2.1" ry="1.1" fill="#6a9038" opacity="0.8"/><ellipse cx="272.1" cy="299.6" rx="1.3" ry="1.1" fill="#5a7a30" opacity="0.8"/><ellipse cx="283.2" cy="296.7" rx="2.1" ry="1.2" fill="#4a7028" opacity="0.8"/><ellipse cx="347.9" cy="286.5" rx="1.1" ry="0.7" fill="#3e6222" opacity="0.8"/><ellipse cx="263.8" cy="279.1" rx="2.1" ry="1.3" fill="#6a9038" opacity="0.8"/><ellipse cx="254.3" cy="278.8" rx="1.2" ry="1.5" fill="#6a9038" opacity="0.8"/><ellipse cx="274.7" cy="290.4" rx="1.6" ry="0.9" fill="#6a9038" opacity="0.8"/><ellipse cx="262.0" cy="284.0" rx="14.0" ry="5.0" fill="#3a5020" opacity="0.45"/><ellipse cx="258.0" cy="294.0" rx="10.0" ry="6.0" fill="#4a5a28" opacity="0.5"/><path d="M327 285 L332 285 L336 300 L323 300 Z" fill="#6e5c44"/></g></g><rect x="252" y="229" width="102" height="70" rx="9" fill="none" stroke="#fff" stroke-width="2"/>
</svg>

<!-- arrows -->
<svg width="604" height="429" viewBox="0 0 604 429" style="position:absolute;left:0;top:0">
<path d="M160.4 59.8 L188.4 48.6" stroke="#5b9bd5" stroke-width="2.0" fill="none" stroke-linecap="round" stroke-linejoin="round"/>
<path d="M193.7 46.4 L188.5 52.8 L188.4 48.6 L185.5 45.4 Z" fill="#5b9bd5" stroke="#5b9bd5" stroke-width="0.8" stroke-linejoin="round"/>
<path d="M313.3 51.9 L328.6 58.4" stroke="#ed7d31" stroke-width="2.0" fill="none" stroke-linecap="round" stroke-linejoin="round"/>
<path d="M333.9 60.6 L325.7 61.5 L328.6 58.4 L328.8 54.1 Z" fill="#ed7d31" stroke="#ed7d31" stroke-width="0.8" stroke-linejoin="round"/>
<path d="M396.1 121.1 L403.0 136.0 L407.9 147.8" stroke="#a6a6a6" stroke-width="2.0" fill="none" stroke-linecap="round" stroke-linejoin="round"/>
<path d="M410.1 153.1 L403.6 148.0 L407.9 147.8 L411.0 144.9 Z" fill="#a6a6a6" stroke="#a6a6a6" stroke-width="0.8" stroke-linejoin="round"/>
<path d="M422.4 224.5 L422.4 246.0 L419.1 262.9" stroke="#ffc000" stroke-width="2.5" fill="none" stroke-linecap="round" stroke-linejoin="round"/>
<path d="M417.9 268.8 L415.1 260.6 L419.1 262.9 L423.6 262.3 Z" fill="#ffc000" stroke="#ffc000" stroke-width="0.8" stroke-linejoin="round"/>
<path d="M382.3 337.6 L362.9 354.3" stroke="#5b9bd5" stroke-width="2.0" fill="none" stroke-linecap="round" stroke-linejoin="round"/>
<path d="M358.5 358.1 L361.3 350.4 L362.9 354.3 L366.6 356.4 Z" fill="#5b9bd5" stroke="#5b9bd5" stroke-width="0.8" stroke-linejoin="round"/>
<path d="M252.8 398.9 L232.8 398.4" stroke="#70ad47" stroke-width="2.0" fill="none" stroke-linecap="round" stroke-linejoin="round"/>
<path d="M227.0 398.2 L234.3 394.4 L232.8 398.4 L234.1 402.4 Z" fill="#70ad47" stroke="#70ad47" stroke-width="0.8" stroke-linejoin="round"/>
<path d="M138.5 364.0 L116.0 344.0" stroke="#ed7d31" stroke-width="1.8" fill="none" stroke-linecap="round" stroke-linejoin="round"/>
<path d="M111.7 340.2 L119.7 342.0 L116.0 344.0 L114.4 348.0 Z" fill="#ed7d31" stroke="#ed7d31" stroke-width="0.8" stroke-linejoin="round"/>
<path d="M72.4 271.0 L66.0 231.9" stroke="#a6a6a6" stroke-width="2.0" fill="none" stroke-linecap="round" stroke-linejoin="round"/>
<path d="M65.1 226.2 L70.2 232.7 L66.0 231.9 L62.3 233.9 Z" fill="#a6a6a6" stroke="#a6a6a6" stroke-width="0.8" stroke-linejoin="round"/>
<path d="M77.0 153.1 L86.0 136.0 L91.5 126.3" stroke="#ffc000" stroke-width="2.5" fill="none" stroke-linecap="round" stroke-linejoin="round"/>
<path d="M94.5 121.1 L94.5 129.7 L91.5 126.3 L87.0 125.5 Z" fill="#ffc000" stroke="#ffc000" stroke-width="0.8" stroke-linejoin="round"/>
</svg>

<!-- bullet texts -->
<div class="dot" style="background:#92d050;left:324.3px;top:10.8px;width:3.6px;height:3.6px;"></div>
<div class="b" style="color:#92d050;left:329.2px;top:7.2px;">回收营养盐</div>
<div class="dot" style="background:#92d050;left:324.7px;top:27.7px;width:3.6px;height:3.6px;"></div>
<div class="b" style="color:#92d050;left:329.7px;top:24.2px;">产出生态产品</div>
<div class="dot" style="background:#7030a0;left:476px;top:161.5px;width:5px;height:5px;"></div>
<div class="b" style="color:#7030a0;left:486.2px;top:160.2px;">涵养水源</div>
<div class="dot" style="background:#7030a0;left:476px;top:188.8px;width:5px;height:5px;"></div>
<div class="b" style="color:#7030a0;left:485.2px;top:186.2px;">促进林湿复合</div>
<div class="dot" style="background:#7030a0;left:476px;top:211.9px;width:5px;height:5px;"></div>
<div class="b" style="color:#7030a0;left:485.2px;top:209.7px;">保育鸟类、螃蟹等</div>
<div class="dot" style="background:#4472c4;left:465px;top:270.0px;width:4px;height:4px;"></div>
<div class="b" style="color:#4472c4;left:470.2px;top:267.7px;">培育湿地林</div>
<div class="dot" style="background:#4472c4;left:465px;top:293.5px;width:4px;height:4px;"></div>
<div class="b" style="color:#4472c4;left:470.2px;top:291.2px;">消纳废弃物</div>
<div class="dot" style="background:#4472c4;left:465px;top:317.5px;width:4px;height:4px;"></div>
<div class="b" style="color:#4472c4;left:470.2px;top:314.7px;">构建生命地标</div>
<div class="dot" style="background:#548235;left:364.5px;top:367.5px;width:5px;height:5px;"></div>
<div class="b" style="color:#548235;left:373.5px;top:365.7px;">更新林相</div>
<div class="dot" style="background:#548235;left:364.5px;top:391.7px;width:5px;height:5px;"></div>
<div class="b" style="color:#548235;left:373.0px;top:389.2px;">构建立体复层结构</div>
<div class="dot" style="background:#548235;left:364.5px;top:415.5px;width:5px;height:5px;"></div>
<div class="b" style="color:#548235;left:373.5px;top:412.7px;">深度净化水质</div>
</body>
</html>
